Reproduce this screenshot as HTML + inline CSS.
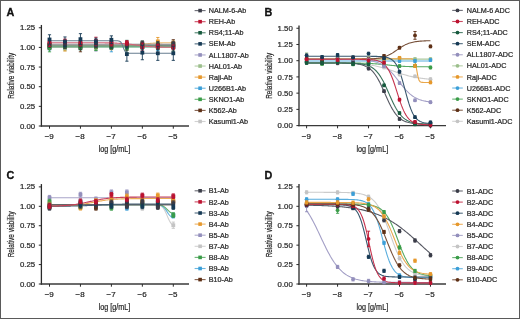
<!DOCTYPE html>
<html><head><meta charset="utf-8"><style>
html,body{margin:0;padding:0;background:#fff;}
#fig{position:relative;width:520px;height:319px;overflow:hidden;background:#fff;}
#fig svg{position:absolute;left:0;top:0;font-family:"Liberation Sans", sans-serif;will-change:transform;filter:blur(0.3px);}
#frame{position:absolute;left:0;top:0;width:518px;height:317px;border:1px solid #5a5a5a;}
</style></head><body>
<div id="fig">
<svg width="520" height="319" viewBox="0 0 520 319">
<line x1="41.4" y1="24.95" x2="41.4" y2="126.70" stroke="#2a2a2a" stroke-width="1.3"/>
<line x1="40.80" y1="126.0" x2="189" y2="126.0" stroke="#3a3a3a" stroke-width="1.45"/>
<line x1="38.80" y1="126.00" x2="41.4" y2="126.00" stroke="#2a2a2a" stroke-width="1"/>
<text x="35.20" y="128.60" font-size="7.8" text-anchor="end" font-weight="normal" fill="#2b2b2b" stroke="#2b2b2b" stroke-width="0.24" >0.00</text>
<line x1="38.80" y1="106.35" x2="41.4" y2="106.35" stroke="#2a2a2a" stroke-width="1"/>
<text x="35.20" y="108.95" font-size="7.8" text-anchor="end" font-weight="normal" fill="#2b2b2b" stroke="#2b2b2b" stroke-width="0.24" >0.25</text>
<line x1="38.80" y1="86.70" x2="41.4" y2="86.70" stroke="#2a2a2a" stroke-width="1"/>
<text x="35.20" y="89.30" font-size="7.8" text-anchor="end" font-weight="normal" fill="#2b2b2b" stroke="#2b2b2b" stroke-width="0.24" >0.50</text>
<line x1="38.80" y1="67.05" x2="41.4" y2="67.05" stroke="#2a2a2a" stroke-width="1"/>
<text x="35.20" y="69.65" font-size="7.8" text-anchor="end" font-weight="normal" fill="#2b2b2b" stroke="#2b2b2b" stroke-width="0.24" >0.75</text>
<line x1="38.80" y1="47.40" x2="41.4" y2="47.40" stroke="#2a2a2a" stroke-width="1"/>
<text x="35.20" y="50.00" font-size="7.8" text-anchor="end" font-weight="normal" fill="#2b2b2b" stroke="#2b2b2b" stroke-width="0.24" >1.00</text>
<line x1="38.80" y1="27.75" x2="41.4" y2="27.75" stroke="#2a2a2a" stroke-width="1"/>
<text x="35.20" y="30.35" font-size="7.8" text-anchor="end" font-weight="normal" fill="#2b2b2b" stroke="#2b2b2b" stroke-width="0.24" >1.25</text>
<line x1="49.50" y1="126.0" x2="49.50" y2="128.70" stroke="#2a2a2a" stroke-width="1"/>
<text x="49.20" y="138.90" font-size="8.0" text-anchor="middle" font-weight="normal" fill="#2b2b2b" stroke="#2b2b2b" stroke-width="0.24" >−9</text>
<line x1="80.45" y1="126.0" x2="80.45" y2="128.70" stroke="#2a2a2a" stroke-width="1"/>
<text x="80.15" y="138.90" font-size="8.0" text-anchor="middle" font-weight="normal" fill="#2b2b2b" stroke="#2b2b2b" stroke-width="0.24" >−8</text>
<line x1="111.40" y1="126.0" x2="111.40" y2="128.70" stroke="#2a2a2a" stroke-width="1"/>
<text x="111.10" y="138.90" font-size="8.0" text-anchor="middle" font-weight="normal" fill="#2b2b2b" stroke="#2b2b2b" stroke-width="0.24" >−7</text>
<line x1="142.35" y1="126.0" x2="142.35" y2="128.70" stroke="#2a2a2a" stroke-width="1"/>
<text x="142.05" y="138.90" font-size="8.0" text-anchor="middle" font-weight="normal" fill="#2b2b2b" stroke="#2b2b2b" stroke-width="0.24" >−6</text>
<line x1="173.30" y1="126.0" x2="173.30" y2="128.70" stroke="#2a2a2a" stroke-width="1"/>
<text x="173.00" y="138.90" font-size="8.0" text-anchor="middle" font-weight="normal" fill="#2b2b2b" stroke="#2b2b2b" stroke-width="0.24" >−5</text>
<text x="0" y="0" font-size="8.4" text-anchor="middle" fill="#2b2b2b" stroke="#2b2b2b" stroke-width="0.24" transform="translate(14.20,75.80) rotate(-90) scale(0.765,1)">Relative viability</text>
<text x="0" y="0" font-size="8.6" text-anchor="middle" fill="#2b2b2b" stroke="#2b2b2b" stroke-width="0.24" transform="translate(114.50,152.00) scale(0.84,1)">log [g/mL]</text>
<text x="6.60" y="16.30" font-size="10.8" text-anchor="start" font-weight="bold" fill="#111" stroke="#111" stroke-width="0.3" >A</text>
<line x1="299.0" y1="25.45" x2="299.0" y2="126.30" stroke="#2a2a2a" stroke-width="1.3"/>
<line x1="298.40" y1="125.6" x2="446" y2="125.6" stroke="#3a3a3a" stroke-width="1.45"/>
<line x1="296.40" y1="125.60" x2="299.0" y2="125.60" stroke="#2a2a2a" stroke-width="1"/>
<text x="292.80" y="128.20" font-size="7.8" text-anchor="end" font-weight="normal" fill="#2b2b2b" stroke="#2b2b2b" stroke-width="0.24" >0.00</text>
<line x1="296.40" y1="109.38" x2="299.0" y2="109.38" stroke="#2a2a2a" stroke-width="1"/>
<text x="292.80" y="111.97" font-size="7.8" text-anchor="end" font-weight="normal" fill="#2b2b2b" stroke="#2b2b2b" stroke-width="0.24" >0.25</text>
<line x1="296.40" y1="93.15" x2="299.0" y2="93.15" stroke="#2a2a2a" stroke-width="1"/>
<text x="292.80" y="95.75" font-size="7.8" text-anchor="end" font-weight="normal" fill="#2b2b2b" stroke="#2b2b2b" stroke-width="0.24" >0.50</text>
<line x1="296.40" y1="76.92" x2="299.0" y2="76.92" stroke="#2a2a2a" stroke-width="1"/>
<text x="292.80" y="79.52" font-size="7.8" text-anchor="end" font-weight="normal" fill="#2b2b2b" stroke="#2b2b2b" stroke-width="0.24" >0.75</text>
<line x1="296.40" y1="60.70" x2="299.0" y2="60.70" stroke="#2a2a2a" stroke-width="1"/>
<text x="292.80" y="63.30" font-size="7.8" text-anchor="end" font-weight="normal" fill="#2b2b2b" stroke="#2b2b2b" stroke-width="0.24" >1.00</text>
<line x1="296.40" y1="44.47" x2="299.0" y2="44.47" stroke="#2a2a2a" stroke-width="1"/>
<text x="292.80" y="47.07" font-size="7.8" text-anchor="end" font-weight="normal" fill="#2b2b2b" stroke="#2b2b2b" stroke-width="0.24" >1.25</text>
<line x1="296.40" y1="28.25" x2="299.0" y2="28.25" stroke="#2a2a2a" stroke-width="1"/>
<text x="292.80" y="30.85" font-size="7.8" text-anchor="end" font-weight="normal" fill="#2b2b2b" stroke="#2b2b2b" stroke-width="0.24" >1.50</text>
<line x1="306.60" y1="125.6" x2="306.60" y2="128.30" stroke="#2a2a2a" stroke-width="1"/>
<text x="306.30" y="138.90" font-size="8.0" text-anchor="middle" font-weight="normal" fill="#2b2b2b" stroke="#2b2b2b" stroke-width="0.24" >−9</text>
<line x1="337.57" y1="125.6" x2="337.57" y2="128.30" stroke="#2a2a2a" stroke-width="1"/>
<text x="337.27" y="138.90" font-size="8.0" text-anchor="middle" font-weight="normal" fill="#2b2b2b" stroke="#2b2b2b" stroke-width="0.24" >−8</text>
<line x1="368.54" y1="125.6" x2="368.54" y2="128.30" stroke="#2a2a2a" stroke-width="1"/>
<text x="368.24" y="138.90" font-size="8.0" text-anchor="middle" font-weight="normal" fill="#2b2b2b" stroke="#2b2b2b" stroke-width="0.24" >−7</text>
<line x1="399.51" y1="125.6" x2="399.51" y2="128.30" stroke="#2a2a2a" stroke-width="1"/>
<text x="399.21" y="138.90" font-size="8.0" text-anchor="middle" font-weight="normal" fill="#2b2b2b" stroke="#2b2b2b" stroke-width="0.24" >−6</text>
<line x1="430.48" y1="125.6" x2="430.48" y2="128.30" stroke="#2a2a2a" stroke-width="1"/>
<text x="430.18" y="138.90" font-size="8.0" text-anchor="middle" font-weight="normal" fill="#2b2b2b" stroke="#2b2b2b" stroke-width="0.24" >−5</text>
<text x="0" y="0" font-size="8.4" text-anchor="middle" fill="#2b2b2b" stroke="#2b2b2b" stroke-width="0.24" transform="translate(271.90,75.80) rotate(-90) scale(0.765,1)">Relative viability</text>
<text x="0" y="0" font-size="8.6" text-anchor="middle" fill="#2b2b2b" stroke="#2b2b2b" stroke-width="0.24" transform="translate(372.30,152.00) scale(0.84,1)">log [g/mL]</text>
<text x="264.60" y="16.20" font-size="10.8" text-anchor="start" font-weight="bold" fill="#111" stroke="#111" stroke-width="0.3" >B</text>
<line x1="41.4" y1="184.07" x2="41.4" y2="284.70" stroke="#2a2a2a" stroke-width="1.3"/>
<line x1="40.80" y1="284.0" x2="189" y2="284.0" stroke="#3a3a3a" stroke-width="1.45"/>
<line x1="38.80" y1="284.00" x2="41.4" y2="284.00" stroke="#2a2a2a" stroke-width="1"/>
<text x="35.20" y="286.60" font-size="7.8" text-anchor="end" font-weight="normal" fill="#2b2b2b" stroke="#2b2b2b" stroke-width="0.24" >0.00</text>
<line x1="38.80" y1="264.57" x2="41.4" y2="264.57" stroke="#2a2a2a" stroke-width="1"/>
<text x="35.20" y="267.18" font-size="7.8" text-anchor="end" font-weight="normal" fill="#2b2b2b" stroke="#2b2b2b" stroke-width="0.24" >0.25</text>
<line x1="38.80" y1="245.15" x2="41.4" y2="245.15" stroke="#2a2a2a" stroke-width="1"/>
<text x="35.20" y="247.75" font-size="7.8" text-anchor="end" font-weight="normal" fill="#2b2b2b" stroke="#2b2b2b" stroke-width="0.24" >0.50</text>
<line x1="38.80" y1="225.72" x2="41.4" y2="225.72" stroke="#2a2a2a" stroke-width="1"/>
<text x="35.20" y="228.32" font-size="7.8" text-anchor="end" font-weight="normal" fill="#2b2b2b" stroke="#2b2b2b" stroke-width="0.24" >0.75</text>
<line x1="38.80" y1="206.30" x2="41.4" y2="206.30" stroke="#2a2a2a" stroke-width="1"/>
<text x="35.20" y="208.90" font-size="7.8" text-anchor="end" font-weight="normal" fill="#2b2b2b" stroke="#2b2b2b" stroke-width="0.24" >1.00</text>
<line x1="38.80" y1="186.88" x2="41.4" y2="186.88" stroke="#2a2a2a" stroke-width="1"/>
<text x="35.20" y="189.47" font-size="7.8" text-anchor="end" font-weight="normal" fill="#2b2b2b" stroke="#2b2b2b" stroke-width="0.24" >1.25</text>
<line x1="49.50" y1="284.0" x2="49.50" y2="286.70" stroke="#2a2a2a" stroke-width="1"/>
<text x="49.20" y="296.90" font-size="8.0" text-anchor="middle" font-weight="normal" fill="#2b2b2b" stroke="#2b2b2b" stroke-width="0.24" >−9</text>
<line x1="80.45" y1="284.0" x2="80.45" y2="286.70" stroke="#2a2a2a" stroke-width="1"/>
<text x="80.15" y="296.90" font-size="8.0" text-anchor="middle" font-weight="normal" fill="#2b2b2b" stroke="#2b2b2b" stroke-width="0.24" >−8</text>
<line x1="111.40" y1="284.0" x2="111.40" y2="286.70" stroke="#2a2a2a" stroke-width="1"/>
<text x="111.10" y="296.90" font-size="8.0" text-anchor="middle" font-weight="normal" fill="#2b2b2b" stroke="#2b2b2b" stroke-width="0.24" >−7</text>
<line x1="142.35" y1="284.0" x2="142.35" y2="286.70" stroke="#2a2a2a" stroke-width="1"/>
<text x="142.05" y="296.90" font-size="8.0" text-anchor="middle" font-weight="normal" fill="#2b2b2b" stroke="#2b2b2b" stroke-width="0.24" >−6</text>
<line x1="173.30" y1="284.0" x2="173.30" y2="286.70" stroke="#2a2a2a" stroke-width="1"/>
<text x="173.00" y="296.90" font-size="8.0" text-anchor="middle" font-weight="normal" fill="#2b2b2b" stroke="#2b2b2b" stroke-width="0.24" >−5</text>
<text x="0" y="0" font-size="8.4" text-anchor="middle" fill="#2b2b2b" stroke="#2b2b2b" stroke-width="0.24" transform="translate(14.20,234.30) rotate(-90) scale(0.765,1)">Relative viability</text>
<text x="0" y="0" font-size="8.6" text-anchor="middle" fill="#2b2b2b" stroke="#2b2b2b" stroke-width="0.24" transform="translate(114.50,310.00) scale(0.84,1)">log [g/mL]</text>
<text x="6.40" y="178.80" font-size="10.8" text-anchor="start" font-weight="bold" fill="#111" stroke="#111" stroke-width="0.3" >C</text>
<line x1="299.0" y1="184.07" x2="299.0" y2="284.70" stroke="#2a2a2a" stroke-width="1.3"/>
<line x1="298.40" y1="284.0" x2="446" y2="284.0" stroke="#3a3a3a" stroke-width="1.45"/>
<line x1="296.40" y1="284.00" x2="299.0" y2="284.00" stroke="#2a2a2a" stroke-width="1"/>
<text x="292.80" y="286.60" font-size="7.8" text-anchor="end" font-weight="normal" fill="#2b2b2b" stroke="#2b2b2b" stroke-width="0.24" >0.00</text>
<line x1="296.40" y1="264.57" x2="299.0" y2="264.57" stroke="#2a2a2a" stroke-width="1"/>
<text x="292.80" y="267.18" font-size="7.8" text-anchor="end" font-weight="normal" fill="#2b2b2b" stroke="#2b2b2b" stroke-width="0.24" >0.25</text>
<line x1="296.40" y1="245.15" x2="299.0" y2="245.15" stroke="#2a2a2a" stroke-width="1"/>
<text x="292.80" y="247.75" font-size="7.8" text-anchor="end" font-weight="normal" fill="#2b2b2b" stroke="#2b2b2b" stroke-width="0.24" >0.50</text>
<line x1="296.40" y1="225.72" x2="299.0" y2="225.72" stroke="#2a2a2a" stroke-width="1"/>
<text x="292.80" y="228.32" font-size="7.8" text-anchor="end" font-weight="normal" fill="#2b2b2b" stroke="#2b2b2b" stroke-width="0.24" >0.75</text>
<line x1="296.40" y1="206.30" x2="299.0" y2="206.30" stroke="#2a2a2a" stroke-width="1"/>
<text x="292.80" y="208.90" font-size="7.8" text-anchor="end" font-weight="normal" fill="#2b2b2b" stroke="#2b2b2b" stroke-width="0.24" >1.00</text>
<line x1="296.40" y1="186.88" x2="299.0" y2="186.88" stroke="#2a2a2a" stroke-width="1"/>
<text x="292.80" y="189.47" font-size="7.8" text-anchor="end" font-weight="normal" fill="#2b2b2b" stroke="#2b2b2b" stroke-width="0.24" >1.25</text>
<line x1="306.60" y1="284.0" x2="306.60" y2="286.70" stroke="#2a2a2a" stroke-width="1"/>
<text x="306.30" y="296.90" font-size="8.0" text-anchor="middle" font-weight="normal" fill="#2b2b2b" stroke="#2b2b2b" stroke-width="0.24" >−9</text>
<line x1="337.57" y1="284.0" x2="337.57" y2="286.70" stroke="#2a2a2a" stroke-width="1"/>
<text x="337.27" y="296.90" font-size="8.0" text-anchor="middle" font-weight="normal" fill="#2b2b2b" stroke="#2b2b2b" stroke-width="0.24" >−8</text>
<line x1="368.54" y1="284.0" x2="368.54" y2="286.70" stroke="#2a2a2a" stroke-width="1"/>
<text x="368.24" y="296.90" font-size="8.0" text-anchor="middle" font-weight="normal" fill="#2b2b2b" stroke="#2b2b2b" stroke-width="0.24" >−7</text>
<line x1="399.51" y1="284.0" x2="399.51" y2="286.70" stroke="#2a2a2a" stroke-width="1"/>
<text x="399.21" y="296.90" font-size="8.0" text-anchor="middle" font-weight="normal" fill="#2b2b2b" stroke="#2b2b2b" stroke-width="0.24" >−6</text>
<line x1="430.48" y1="284.0" x2="430.48" y2="286.70" stroke="#2a2a2a" stroke-width="1"/>
<text x="430.18" y="296.90" font-size="8.0" text-anchor="middle" font-weight="normal" fill="#2b2b2b" stroke="#2b2b2b" stroke-width="0.24" >−5</text>
<text x="0" y="0" font-size="8.4" text-anchor="middle" fill="#2b2b2b" stroke="#2b2b2b" stroke-width="0.24" transform="translate(271.90,234.30) rotate(-90) scale(0.765,1)">Relative viability</text>
<text x="0" y="0" font-size="8.6" text-anchor="middle" fill="#2b2b2b" stroke="#2b2b2b" stroke-width="0.24" transform="translate(372.30,310.00) scale(0.84,1)">log [g/mL]</text>
<text x="264.60" y="178.80" font-size="10.8" text-anchor="start" font-weight="bold" fill="#111" stroke="#111" stroke-width="0.3" >D</text>
<polyline points="49.50,45.83 50.53,45.83 51.56,45.83 52.59,45.83 53.63,45.83 54.66,45.83 55.69,45.83 56.72,45.83 57.75,45.83 58.79,45.83 59.82,45.83 60.85,45.83 61.88,45.83 62.91,45.83 63.94,45.83 64.97,45.83 66.01,45.83 67.04,45.83 68.07,45.83 69.10,45.83 70.13,45.83 71.16,45.83 72.20,45.83 73.23,45.83 74.26,45.83 75.29,45.83 76.32,45.83 77.36,45.83 78.39,45.83 79.42,45.83 80.45,45.83 81.48,45.83 82.51,45.83 83.54,45.83 84.58,45.83 85.61,45.83 86.64,45.83 87.67,45.83 88.70,45.83 89.73,45.83 90.77,45.83 91.80,45.83 92.83,45.83 93.86,45.83 94.89,45.83 95.92,45.83 96.96,45.83 97.99,45.83 99.02,45.83 100.05,45.83 101.08,45.83 102.12,45.83 103.15,45.83 104.18,45.83 105.21,45.83 106.24,45.83 107.27,45.83 108.31,45.83 109.34,45.83 110.37,45.83 111.40,45.83 112.43,45.83 113.46,45.83 114.49,45.83 115.53,45.83 116.56,45.83 117.59,45.83 118.62,45.83 119.65,45.83 120.68,45.83 121.72,45.83 122.75,45.83 123.78,45.83 124.81,45.83 125.84,45.83 126.88,45.83 127.91,45.83 128.94,45.83 129.97,45.83 131.00,45.83 132.03,45.83 133.06,45.83 134.10,45.83 135.13,45.83 136.16,45.83 137.19,45.83 138.22,45.83 139.25,45.83 140.29,45.83 141.32,45.83 142.35,45.83 143.38,45.83 144.41,45.83 145.44,45.83 146.48,45.83 147.51,45.83 148.54,45.83 149.57,45.83 150.60,45.83 151.63,45.83 152.67,45.83 153.70,45.83 154.73,45.83 155.76,45.83 156.79,45.83 157.82,45.83 158.86,45.83 159.89,45.83 160.92,45.83 161.95,45.83 162.98,45.83 164.01,45.83 165.05,45.83 166.08,45.83 167.11,45.83 168.14,45.83 169.17,45.83 170.21,45.83 171.24,45.83 172.27,45.83 173.30,45.83" fill="none" stroke="#d8d8d8" stroke-width="1.1"/>
<polyline points="49.50,47.40 50.53,47.40 51.56,47.40 52.59,47.40 53.63,47.40 54.66,47.40 55.69,47.40 56.72,47.40 57.75,47.40 58.79,47.40 59.82,47.40 60.85,47.40 61.88,47.40 62.91,47.40 63.94,47.40 64.97,47.40 66.01,47.40 67.04,47.40 68.07,47.40 69.10,47.40 70.13,47.40 71.16,47.40 72.20,47.40 73.23,47.40 74.26,47.40 75.29,47.40 76.32,47.40 77.36,47.40 78.39,47.40 79.42,47.40 80.45,47.40 81.48,47.40 82.51,47.40 83.54,47.40 84.58,47.40 85.61,47.40 86.64,47.40 87.67,47.40 88.70,47.40 89.73,47.40 90.77,47.40 91.80,47.40 92.83,47.40 93.86,47.40 94.89,47.40 95.92,47.40 96.96,47.40 97.99,47.40 99.02,47.40 100.05,47.40 101.08,47.40 102.12,47.40 103.15,47.40 104.18,47.40 105.21,47.40 106.24,47.40 107.27,47.40 108.31,47.40 109.34,47.40 110.37,47.40 111.40,47.40 112.43,47.40 113.46,47.40 114.49,47.40 115.53,47.40 116.56,47.40 117.59,47.40 118.62,47.40 119.65,47.40 120.68,47.40 121.72,47.40 122.75,47.40 123.78,47.40 124.81,47.40 125.84,47.40 126.88,47.40 127.91,47.40 128.94,47.40 129.97,47.40 131.00,47.40 132.03,47.40 133.06,47.40 134.10,47.40 135.13,47.40 136.16,47.40 137.19,47.40 138.22,47.40 139.25,47.40 140.29,47.40 141.32,47.40 142.35,47.40 143.38,47.40 144.41,47.40 145.44,47.40 146.48,47.40 147.51,47.40 148.54,47.40 149.57,47.40 150.60,47.40 151.63,47.40 152.67,47.40 153.70,47.40 154.73,47.40 155.76,47.40 156.79,47.40 157.82,47.40 158.86,47.40 159.89,47.40 160.92,47.40 161.95,47.40 162.98,47.40 164.01,47.40 165.05,47.40 166.08,47.40 167.11,47.40 168.14,47.40 169.17,47.40 170.21,47.40 171.24,47.40 172.27,47.40 173.30,47.40" fill="none" stroke="#bed5b4" stroke-width="1.1"/>
<polyline points="49.50,46.61 50.53,46.61 51.56,46.61 52.59,46.61 53.63,46.61 54.66,46.61 55.69,46.61 56.72,46.61 57.75,46.61 58.79,46.61 59.82,46.61 60.85,46.61 61.88,46.61 62.91,46.61 63.94,46.61 64.97,46.61 66.01,46.61 67.04,46.61 68.07,46.61 69.10,46.61 70.13,46.61 71.16,46.61 72.20,46.61 73.23,46.61 74.26,46.61 75.29,46.61 76.32,46.61 77.36,46.61 78.39,46.61 79.42,46.61 80.45,46.61 81.48,46.61 82.51,46.61 83.54,46.61 84.58,46.61 85.61,46.61 86.64,46.61 87.67,46.61 88.70,46.61 89.73,46.61 90.77,46.61 91.80,46.61 92.83,46.61 93.86,46.61 94.89,46.61 95.92,46.61 96.96,46.61 97.99,46.61 99.02,46.61 100.05,46.61 101.08,46.61 102.12,46.61 103.15,46.61 104.18,46.61 105.21,46.61 106.24,46.61 107.27,46.61 108.31,46.61 109.34,46.61 110.37,46.61 111.40,46.61 112.43,46.61 113.46,46.61 114.49,46.61 115.53,46.61 116.56,46.61 117.59,46.61 118.62,46.61 119.65,46.61 120.68,46.61 121.72,46.61 122.75,46.61 123.78,46.61 124.81,46.61 125.84,46.61 126.88,46.61 127.91,46.61 128.94,46.61 129.97,46.61 131.00,46.61 132.03,46.61 133.06,46.61 134.10,46.61 135.13,46.61 136.16,46.61 137.19,46.61 138.22,46.61 139.25,46.61 140.29,46.61 141.32,46.61 142.35,46.61 143.38,46.61 144.41,46.61 145.44,46.61 146.48,46.61 147.51,46.61 148.54,46.61 149.57,46.61 150.60,46.61 151.63,46.61 152.67,46.61 153.70,46.61 154.73,46.61 155.76,46.61 156.79,46.61 157.82,46.61 158.86,46.61 159.89,46.61 160.92,46.61 161.95,46.61 162.98,46.61 164.01,46.61 165.05,46.61 166.08,46.61 167.11,46.61 168.14,46.61 169.17,46.61 170.21,46.61 171.24,46.61 172.27,46.61 173.30,46.61" fill="none" stroke="#7fc0e5" stroke-width="1.1"/>
<polyline points="49.50,45.83 50.53,45.83 51.56,45.83 52.59,45.83 53.63,45.83 54.66,45.83 55.69,45.83 56.72,45.83 57.75,45.83 58.79,45.83 59.82,45.83 60.85,45.83 61.88,45.83 62.91,45.83 63.94,45.83 64.97,45.83 66.01,45.83 67.04,45.83 68.07,45.83 69.10,45.83 70.13,45.83 71.16,45.83 72.20,45.83 73.23,45.83 74.26,45.83 75.29,45.83 76.32,45.83 77.36,45.83 78.39,45.83 79.42,45.83 80.45,45.83 81.48,45.83 82.51,45.83 83.54,45.83 84.58,45.83 85.61,45.83 86.64,45.83 87.67,45.83 88.70,45.83 89.73,45.83 90.77,45.83 91.80,45.83 92.83,45.83 93.86,45.83 94.89,45.83 95.92,45.83 96.96,45.83 97.99,45.83 99.02,45.83 100.05,45.83 101.08,45.83 102.12,45.83 103.15,45.83 104.18,45.83 105.21,45.83 106.24,45.83 107.27,45.83 108.31,45.83 109.34,45.83 110.37,45.83 111.40,45.83 112.43,45.83 113.46,45.83 114.49,45.83 115.53,45.83 116.56,45.83 117.59,45.83 118.62,45.83 119.65,45.83 120.68,45.83 121.72,45.83 122.75,45.83 123.78,45.83 124.81,45.83 125.84,45.83 126.88,45.83 127.91,45.83 128.94,45.83 129.97,45.83 131.00,45.83 132.03,45.83 133.06,45.83 134.10,45.83 135.13,45.83 136.16,45.83 137.19,45.83 138.22,45.83 139.25,45.83 140.29,45.83 141.32,45.83 142.35,45.83 143.38,45.83 144.41,45.83 145.44,45.83 146.48,45.83 147.51,45.83 148.54,45.83 149.57,45.83 150.60,45.83 151.63,45.83 152.67,45.83 153.70,45.83 154.73,45.83 155.76,45.83 156.79,45.83 157.82,45.83 158.86,45.83 159.89,45.83 160.92,45.83 161.95,45.83 162.98,45.83 164.01,45.83 165.05,45.83 166.08,45.83 167.11,45.83 168.14,45.83 169.17,45.83 170.21,45.83 171.24,45.83 172.27,45.83 173.30,45.83" fill="none" stroke="#b8b6d3" stroke-width="1.1"/>
<polyline points="49.50,46.61 50.53,46.61 51.56,46.61 52.59,46.61 53.63,46.61 54.66,46.61 55.69,46.61 56.72,46.61 57.75,46.61 58.79,46.61 59.82,46.61 60.85,46.61 61.88,46.61 62.91,46.61 63.94,46.61 64.97,46.61 66.01,46.61 67.04,46.61 68.07,46.61 69.10,46.61 70.13,46.61 71.16,46.61 72.20,46.61 73.23,46.60 74.26,46.60 75.29,46.60 76.32,46.60 77.36,46.60 78.39,46.60 79.42,46.60 80.45,46.60 81.48,46.60 82.51,46.60 83.54,46.59 84.58,46.59 85.61,46.59 86.64,46.59 87.67,46.59 88.70,46.59 89.73,46.58 90.77,46.58 91.80,46.58 92.83,46.58 93.86,46.57 94.89,46.57 95.92,46.57 96.96,46.56 97.99,46.56 99.02,46.55 100.05,46.55 101.08,46.54 102.12,46.54 103.15,46.53 104.18,46.53 105.21,46.52 106.24,46.51 107.27,46.51 108.31,46.50 109.34,46.49 110.37,46.48 111.40,46.47 112.43,46.46 113.46,46.45 114.49,46.44 115.53,46.43 116.56,46.41 117.59,46.40 118.62,46.38 119.65,46.37 120.68,46.35 121.72,46.34 122.75,46.32 123.78,46.30 124.81,46.28 125.84,46.26 126.88,46.24 127.91,46.21 128.94,46.19 129.97,46.17 131.00,46.14 132.03,46.12 133.06,46.09 134.10,46.06 135.13,46.03 136.16,46.01 137.19,45.98 138.22,45.95 139.25,45.92 140.29,45.89 141.32,45.86 142.35,45.83 143.38,45.80 144.41,45.77 145.44,45.74 146.48,45.71 147.51,45.68 148.54,45.65 149.57,45.62 150.60,45.59 151.63,45.57 152.67,45.54 153.70,45.51 154.73,45.49 155.76,45.47 156.79,45.44 157.82,45.42 158.86,45.40 159.89,45.38 160.92,45.36 161.95,45.34 162.98,45.32 164.01,45.30 165.05,45.29 166.08,45.27 167.11,45.26 168.14,45.24 169.17,45.23 170.21,45.22 171.24,45.21 172.27,45.20 173.30,45.18" fill="none" stroke="#967867" stroke-width="1.1"/>
<polyline points="49.50,45.83 50.53,45.83 51.56,45.83 52.59,45.83 53.63,45.83 54.66,45.83 55.69,45.83 56.72,45.83 57.75,45.83 58.79,45.83 59.82,45.83 60.85,45.83 61.88,45.83 62.91,45.83 63.94,45.83 64.97,45.83 66.01,45.83 67.04,45.83 68.07,45.83 69.10,45.83 70.13,45.83 71.16,45.83 72.20,45.83 73.23,45.83 74.26,45.83 75.29,45.83 76.32,45.83 77.36,45.83 78.39,45.83 79.42,45.83 80.45,45.83 81.48,45.83 82.51,45.83 83.54,45.83 84.58,45.83 85.61,45.83 86.64,45.83 87.67,45.83 88.70,45.83 89.73,45.83 90.77,45.83 91.80,45.83 92.83,45.83 93.86,45.83 94.89,45.83 95.92,45.82 96.96,45.82 97.99,45.82 99.02,45.82 100.05,45.82 101.08,45.82 102.12,45.82 103.15,45.82 104.18,45.82 105.21,45.82 106.24,45.81 107.27,45.81 108.31,45.81 109.34,45.81 110.37,45.80 111.40,45.80 112.43,45.79 113.46,45.79 114.49,45.78 115.53,45.77 116.56,45.76 117.59,45.75 118.62,45.74 119.65,45.72 120.68,45.71 121.72,45.69 122.75,45.67 123.78,45.64 124.81,45.61 125.84,45.58 126.88,45.54 127.91,45.50 128.94,45.45 129.97,45.40 131.00,45.34 132.03,45.27 133.06,45.20 134.10,45.12 135.13,45.03 136.16,44.93 137.19,44.83 138.22,44.72 139.25,44.61 140.29,44.50 141.32,44.38 142.35,44.26 143.38,44.14 144.41,44.02 145.44,43.90 146.48,43.79 147.51,43.68 148.54,43.58 149.57,43.48 150.60,43.40 151.63,43.32 152.67,43.24 153.70,43.17 154.73,43.11 155.76,43.06 156.79,43.01 157.82,42.97 158.86,42.93 159.89,42.90 160.92,42.87 161.95,42.85 162.98,42.82 164.01,42.80 165.05,42.79 166.08,42.77 167.11,42.76 168.14,42.75 169.17,42.74 170.21,42.73 171.24,42.73 172.27,42.72 173.30,42.72" fill="none" stroke="#eebc75" stroke-width="1.1"/>
<polyline points="49.50,46.61 50.53,46.61 51.56,46.61 52.59,46.61 53.63,46.61 54.66,46.61 55.69,46.61 56.72,46.61 57.75,46.61 58.79,46.61 59.82,46.61 60.85,46.61 61.88,46.61 62.91,46.61 63.94,46.61 64.97,46.61 66.01,46.61 67.04,46.61 68.07,46.61 69.10,46.61 70.13,46.61 71.16,46.61 72.20,46.61 73.23,46.61 74.26,46.61 75.29,46.61 76.32,46.61 77.36,46.61 78.39,46.61 79.42,46.61 80.45,46.61 81.48,46.61 82.51,46.61 83.54,46.61 84.58,46.61 85.61,46.61 86.64,46.61 87.67,46.61 88.70,46.61 89.73,46.61 90.77,46.61 91.80,46.61 92.83,46.61 93.86,46.61 94.89,46.61 95.92,46.61 96.96,46.61 97.99,46.61 99.02,46.61 100.05,46.61 101.08,46.61 102.12,46.61 103.15,46.61 104.18,46.61 105.21,46.61 106.24,46.61 107.27,46.61 108.31,46.61 109.34,46.61 110.37,46.61 111.40,46.61 112.43,46.61 113.46,46.61 114.49,46.61 115.53,46.61 116.56,46.61 117.59,46.61 118.62,46.61 119.65,46.61 120.68,46.61 121.72,46.61 122.75,46.61 123.78,46.61 124.81,46.61 125.84,46.61 126.88,46.61 127.91,46.61 128.94,46.61 129.97,46.61 131.00,46.61 132.03,46.61 133.06,46.61 134.10,46.61 135.13,46.61 136.16,46.61 137.19,46.61 138.22,46.61 139.25,46.61 140.29,46.61 141.32,46.61 142.35,46.61 143.38,46.61 144.41,46.61 145.44,46.61 146.48,46.61 147.51,46.61 148.54,46.61 149.57,46.61 150.60,46.61 151.63,46.61 152.67,46.61 153.70,46.61 154.73,46.61 155.76,46.61 156.79,46.61 157.82,46.61 158.86,46.61 159.89,46.61 160.92,46.61 161.95,46.61 162.98,46.61 164.01,46.61 165.05,46.61 166.08,46.61 167.11,46.61 168.14,46.61 169.17,46.61 170.21,46.61 171.24,46.61 172.27,46.61 173.30,46.61" fill="none" stroke="#7ebe88" stroke-width="1.1"/>
<polyline points="49.50,45.83 50.53,45.83 51.56,45.83 52.59,45.83 53.63,45.83 54.66,45.83 55.69,45.83 56.72,45.83 57.75,45.83 58.79,45.83 59.82,45.83 60.85,45.83 61.88,45.83 62.91,45.83 63.94,45.83 64.97,45.83 66.01,45.83 67.04,45.83 68.07,45.83 69.10,45.83 70.13,45.83 71.16,45.83 72.20,45.83 73.23,45.83 74.26,45.83 75.29,45.83 76.32,45.83 77.36,45.83 78.39,45.83 79.42,45.83 80.45,45.83 81.48,45.83 82.51,45.83 83.54,45.83 84.58,45.83 85.61,45.83 86.64,45.83 87.67,45.83 88.70,45.83 89.73,45.83 90.77,45.83 91.80,45.83 92.83,45.83 93.86,45.83 94.89,45.83 95.92,45.83 96.96,45.83 97.99,45.83 99.02,45.83 100.05,45.83 101.08,45.83 102.12,45.83 103.15,45.83 104.18,45.83 105.21,45.83 106.24,45.83 107.27,45.83 108.31,45.83 109.34,45.83 110.37,45.83 111.40,45.83 112.43,45.83 113.46,45.83 114.49,45.83 115.53,45.83 116.56,45.83 117.59,45.83 118.62,45.83 119.65,45.83 120.68,45.83 121.72,45.83 122.75,45.83 123.78,45.83 124.81,45.83 125.84,45.83 126.88,45.83 127.91,45.83 128.94,45.83 129.97,45.83 131.00,45.83 132.03,45.83 133.06,45.83 134.10,45.83 135.13,45.83 136.16,45.83 137.19,45.83 138.22,45.83 139.25,45.83 140.29,45.83 141.32,45.83 142.35,45.83 143.38,45.83 144.41,45.83 145.44,45.83 146.48,45.83 147.51,45.83 148.54,45.83 149.57,45.83 150.60,45.83 151.63,45.83 152.67,45.83 153.70,45.83 154.73,45.83 155.76,45.83 156.79,45.83 157.82,45.83 158.86,45.83 159.89,45.83 160.92,45.83 161.95,45.83 162.98,45.83 164.01,45.83 165.05,45.83 166.08,45.83 167.11,45.83 168.14,45.83 169.17,45.83 170.21,45.83 171.24,45.83 172.27,45.83 173.30,45.83" fill="none" stroke="#689381" stroke-width="1.1"/>
<polyline points="49.50,44.26 50.53,44.26 51.56,44.26 52.59,44.26 53.63,44.26 54.66,44.26 55.69,44.26 56.72,44.26 57.75,44.26 58.79,44.26 59.82,44.26 60.85,44.26 61.88,44.26 62.91,44.26 63.94,44.26 64.97,44.26 66.01,44.26 67.04,44.26 68.07,44.26 69.10,44.26 70.13,44.26 71.16,44.26 72.20,44.26 73.23,44.26 74.26,44.26 75.29,44.26 76.32,44.26 77.36,44.26 78.39,44.26 79.42,44.26 80.45,44.26 81.48,44.26 82.51,44.26 83.54,44.26 84.58,44.26 85.61,44.26 86.64,44.26 87.67,44.26 88.70,44.26 89.73,44.26 90.77,44.26 91.80,44.26 92.83,44.26 93.86,44.26 94.89,44.26 95.92,44.26 96.96,44.26 97.99,44.26 99.02,44.26 100.05,44.26 101.08,44.26 102.12,44.26 103.15,44.26 104.18,44.26 105.21,44.26 106.24,44.26 107.27,44.26 108.31,44.26 109.34,44.26 110.37,44.26 111.40,44.26 112.43,44.26 113.46,44.26 114.49,44.26 115.53,44.26 116.56,44.26 117.59,44.26 118.62,44.26 119.65,44.26 120.68,44.26 121.72,44.26 122.75,44.26 123.78,44.26 124.81,44.26 125.84,44.26 126.88,44.26 127.91,44.26 128.94,44.26 129.97,44.26 131.00,44.26 132.03,44.26 133.06,44.26 134.10,44.26 135.13,44.26 136.16,44.26 137.19,44.26 138.22,44.26 139.25,44.26 140.29,44.26 141.32,44.26 142.35,44.26 143.38,44.26 144.41,44.26 145.44,44.26 146.48,44.26 147.51,44.26 148.54,44.26 149.57,44.26 150.60,44.26 151.63,44.26 152.67,44.26 153.70,44.26 154.73,44.26 155.76,44.26 156.79,44.26 157.82,44.26 158.86,44.26 159.89,44.26 160.92,44.26 161.95,44.26 162.98,44.26 164.01,44.26 165.05,44.26 166.08,44.26 167.11,44.26 168.14,44.26 169.17,44.26 170.21,44.26 171.24,44.26 172.27,44.26 173.30,44.26" fill="none" stroke="#7e8088" stroke-width="1.1"/>
<polyline points="49.50,42.68 50.53,42.68 51.56,42.68 52.59,42.68 53.63,42.68 54.66,42.68 55.69,42.68 56.72,42.68 57.75,42.68 58.79,42.68 59.82,42.68 60.85,42.69 61.88,42.69 62.91,42.69 63.94,42.69 64.97,42.69 66.01,42.69 67.04,42.69 68.07,42.69 69.10,42.69 70.13,42.69 71.16,42.69 72.20,42.69 73.23,42.69 74.26,42.69 75.29,42.69 76.32,42.69 77.36,42.69 78.39,42.69 79.42,42.69 80.45,42.69 81.48,42.69 82.51,42.70 83.54,42.70 84.58,42.70 85.61,42.70 86.64,42.70 87.67,42.70 88.70,42.71 89.73,42.71 90.77,42.71 91.80,42.72 92.83,42.72 93.86,42.73 94.89,42.73 95.92,42.74 96.96,42.74 97.99,42.75 99.02,42.76 100.05,42.77 101.08,42.78 102.12,42.79 103.15,42.80 104.18,42.81 105.21,42.83 106.24,42.85 107.27,42.86 108.31,42.89 109.34,42.91 110.37,42.94 111.40,42.96 112.43,43.00 113.46,43.03 114.49,43.07 115.53,43.11 116.56,43.16 117.59,43.21 118.62,43.27 119.65,43.33 120.68,43.40 121.72,43.47 122.75,43.55 123.78,43.63 124.81,43.72 125.84,43.82 126.88,43.92 127.91,44.03 128.94,44.14 129.97,44.26 131.00,44.38 132.03,44.51 133.06,44.64 134.10,44.77 135.13,44.91 136.16,45.04 137.19,45.18 138.22,45.31 139.25,45.45 140.29,45.58 141.32,45.70 142.35,45.83 143.38,45.94 144.41,46.06 145.44,46.16 146.48,46.27 147.51,46.36 148.54,46.45 149.57,46.54 150.60,46.62 151.63,46.69 152.67,46.75 153.70,46.82 154.73,46.87 155.76,46.92 156.79,46.97 157.82,47.01 158.86,47.05 159.89,47.09 160.92,47.12 161.95,47.15 162.98,47.17 164.01,47.20 165.05,47.22 166.08,47.24 167.11,47.26 168.14,47.27 169.17,47.28 170.21,47.30 171.24,47.31 172.27,47.32 173.30,47.33" fill="none" stroke="#d36478" stroke-width="1.1"/>
<polyline points="49.50,40.72 50.53,40.72 51.56,40.72 52.59,40.72 53.63,40.72 54.66,40.72 55.69,40.72 56.72,40.72 57.75,40.72 58.79,40.72 59.82,40.72 60.85,40.72 61.88,40.72 62.91,40.72 63.94,40.72 64.97,40.72 66.01,40.72 67.04,40.72 68.07,40.72 69.10,40.72 70.13,40.72 71.16,40.72 72.20,40.72 73.23,40.72 74.26,40.72 75.29,40.72 76.32,40.72 77.36,40.72 78.39,40.72 79.42,40.72 80.45,40.72 81.48,40.72 82.51,40.72 83.54,40.72 84.58,40.72 85.61,40.72 86.64,40.72 87.67,40.72 88.70,40.72 89.73,40.72 90.77,40.72 91.80,40.72 92.83,40.72 93.86,40.72 94.89,40.72 95.92,40.72 96.96,40.72 97.99,40.72 99.02,40.72 100.05,40.72 101.08,40.72 102.12,40.72 103.15,40.72 104.18,40.72 105.21,40.72 106.24,40.72 107.27,40.72 108.31,40.72 109.34,40.72 110.37,40.72 111.40,40.72 112.43,40.72 113.46,40.72 114.49,40.72 115.53,40.73 116.56,40.75 117.59,40.81 118.62,40.93 119.65,41.25 120.68,41.96 121.72,43.43 122.75,45.86 123.78,48.70 124.81,50.95 125.84,52.24 126.88,52.85 127.91,53.12 128.94,53.22 129.97,53.27 131.00,53.28 132.03,53.29 133.06,53.29 134.10,53.29 135.13,53.29 136.16,53.29 137.19,53.29 138.22,53.29 139.25,53.29 140.29,53.29 141.32,53.29 142.35,53.29 143.38,53.29 144.41,53.29 145.44,53.29 146.48,53.29 147.51,53.29 148.54,53.29 149.57,53.29 150.60,53.29 151.63,53.29 152.67,53.29 153.70,53.29 154.73,53.29 155.76,53.29 156.79,53.29 157.82,53.29 158.86,53.29 159.89,53.29 160.92,53.29 161.95,53.29 162.98,53.29 164.01,53.30 165.05,53.30 166.08,53.30 167.11,53.30 168.14,53.30 169.17,53.30 170.21,53.30 171.24,53.30 172.27,53.30 173.30,53.30" fill="none" stroke="#677e90" stroke-width="1.1"/>
<line x1="49.50" y1="41.90" x2="49.50" y2="49.76" stroke="#c4c4c4" stroke-width="0.9"/>
<line x1="47.90" y1="41.90" x2="51.10" y2="41.90" stroke="#c4c4c4" stroke-width="0.9"/>
<line x1="47.90" y1="49.76" x2="51.10" y2="49.76" stroke="#c4c4c4" stroke-width="0.9"/>
<rect x="47.60" y="43.93" width="3.8" height="3.8" fill="#c4c4c4"/>
<line x1="64.97" y1="42.21" x2="64.97" y2="46.93" stroke="#c4c4c4" stroke-width="0.9"/>
<line x1="63.37" y1="42.21" x2="66.57" y2="42.21" stroke="#c4c4c4" stroke-width="0.9"/>
<line x1="63.37" y1="46.93" x2="66.57" y2="46.93" stroke="#c4c4c4" stroke-width="0.9"/>
<rect x="63.07" y="42.67" width="3.8" height="3.8" fill="#c4c4c4"/>
<line x1="80.45" y1="44.41" x2="80.45" y2="49.13" stroke="#c4c4c4" stroke-width="0.9"/>
<line x1="78.85" y1="44.41" x2="82.05" y2="44.41" stroke="#c4c4c4" stroke-width="0.9"/>
<line x1="78.85" y1="49.13" x2="82.05" y2="49.13" stroke="#c4c4c4" stroke-width="0.9"/>
<rect x="78.55" y="44.87" width="3.8" height="3.8" fill="#c4c4c4"/>
<line x1="95.92" y1="40.33" x2="95.92" y2="48.19" stroke="#c4c4c4" stroke-width="0.9"/>
<line x1="94.33" y1="40.33" x2="97.52" y2="40.33" stroke="#c4c4c4" stroke-width="0.9"/>
<line x1="94.33" y1="48.19" x2="97.52" y2="48.19" stroke="#c4c4c4" stroke-width="0.9"/>
<rect x="94.02" y="42.36" width="3.8" height="3.8" fill="#c4c4c4"/>
<line x1="111.40" y1="44.10" x2="111.40" y2="48.81" stroke="#c4c4c4" stroke-width="0.9"/>
<line x1="109.80" y1="44.10" x2="113.00" y2="44.10" stroke="#c4c4c4" stroke-width="0.9"/>
<line x1="109.80" y1="48.81" x2="113.00" y2="48.81" stroke="#c4c4c4" stroke-width="0.9"/>
<rect x="109.50" y="44.56" width="3.8" height="3.8" fill="#c4c4c4"/>
<line x1="126.88" y1="42.53" x2="126.88" y2="47.24" stroke="#c4c4c4" stroke-width="0.9"/>
<line x1="125.28" y1="42.53" x2="128.47" y2="42.53" stroke="#c4c4c4" stroke-width="0.9"/>
<line x1="125.28" y1="47.24" x2="128.47" y2="47.24" stroke="#c4c4c4" stroke-width="0.9"/>
<rect x="124.97" y="42.98" width="3.8" height="3.8" fill="#c4c4c4"/>
<line x1="142.35" y1="43.16" x2="142.35" y2="51.02" stroke="#c4c4c4" stroke-width="0.9"/>
<line x1="140.75" y1="43.16" x2="143.95" y2="43.16" stroke="#c4c4c4" stroke-width="0.9"/>
<line x1="140.75" y1="51.02" x2="143.95" y2="51.02" stroke="#c4c4c4" stroke-width="0.9"/>
<rect x="140.45" y="45.19" width="3.8" height="3.8" fill="#c4c4c4"/>
<line x1="157.82" y1="42.84" x2="157.82" y2="47.56" stroke="#c4c4c4" stroke-width="0.9"/>
<line x1="156.22" y1="42.84" x2="159.42" y2="42.84" stroke="#c4c4c4" stroke-width="0.9"/>
<line x1="156.22" y1="47.56" x2="159.42" y2="47.56" stroke="#c4c4c4" stroke-width="0.9"/>
<rect x="155.92" y="43.30" width="3.8" height="3.8" fill="#c4c4c4"/>
<line x1="173.30" y1="43.47" x2="173.30" y2="48.19" stroke="#c4c4c4" stroke-width="0.9"/>
<line x1="171.70" y1="43.47" x2="174.90" y2="43.47" stroke="#c4c4c4" stroke-width="0.9"/>
<line x1="171.70" y1="48.19" x2="174.90" y2="48.19" stroke="#c4c4c4" stroke-width="0.9"/>
<rect x="171.40" y="43.93" width="3.8" height="3.8" fill="#c4c4c4"/>
<line x1="49.50" y1="43.78" x2="49.50" y2="48.50" stroke="#9cbf8c" stroke-width="0.9"/>
<line x1="47.90" y1="43.78" x2="51.10" y2="43.78" stroke="#9cbf8c" stroke-width="0.9"/>
<line x1="47.90" y1="48.50" x2="51.10" y2="48.50" stroke="#9cbf8c" stroke-width="0.9"/>
<rect x="47.60" y="44.24" width="3.8" height="3.8" fill="#9cbf8c"/>
<line x1="64.97" y1="45.99" x2="64.97" y2="50.70" stroke="#9cbf8c" stroke-width="0.9"/>
<line x1="63.37" y1="45.99" x2="66.57" y2="45.99" stroke="#9cbf8c" stroke-width="0.9"/>
<line x1="63.37" y1="50.70" x2="66.57" y2="50.70" stroke="#9cbf8c" stroke-width="0.9"/>
<rect x="63.07" y="46.44" width="3.8" height="3.8" fill="#9cbf8c"/>
<line x1="80.45" y1="41.90" x2="80.45" y2="49.76" stroke="#9cbf8c" stroke-width="0.9"/>
<line x1="78.85" y1="41.90" x2="82.05" y2="41.90" stroke="#9cbf8c" stroke-width="0.9"/>
<line x1="78.85" y1="49.76" x2="82.05" y2="49.76" stroke="#9cbf8c" stroke-width="0.9"/>
<rect x="78.55" y="43.93" width="3.8" height="3.8" fill="#9cbf8c"/>
<line x1="95.92" y1="45.67" x2="95.92" y2="50.39" stroke="#9cbf8c" stroke-width="0.9"/>
<line x1="94.33" y1="45.67" x2="97.52" y2="45.67" stroke="#9cbf8c" stroke-width="0.9"/>
<line x1="94.33" y1="50.39" x2="97.52" y2="50.39" stroke="#9cbf8c" stroke-width="0.9"/>
<rect x="94.02" y="46.13" width="3.8" height="3.8" fill="#9cbf8c"/>
<line x1="111.40" y1="44.10" x2="111.40" y2="48.81" stroke="#9cbf8c" stroke-width="0.9"/>
<line x1="109.80" y1="44.10" x2="113.00" y2="44.10" stroke="#9cbf8c" stroke-width="0.9"/>
<line x1="109.80" y1="48.81" x2="113.00" y2="48.81" stroke="#9cbf8c" stroke-width="0.9"/>
<rect x="109.50" y="44.56" width="3.8" height="3.8" fill="#9cbf8c"/>
<line x1="126.88" y1="44.73" x2="126.88" y2="52.59" stroke="#9cbf8c" stroke-width="0.9"/>
<line x1="125.28" y1="44.73" x2="128.47" y2="44.73" stroke="#9cbf8c" stroke-width="0.9"/>
<line x1="125.28" y1="52.59" x2="128.47" y2="52.59" stroke="#9cbf8c" stroke-width="0.9"/>
<rect x="124.97" y="46.76" width="3.8" height="3.8" fill="#9cbf8c"/>
<line x1="142.35" y1="44.41" x2="142.35" y2="49.13" stroke="#9cbf8c" stroke-width="0.9"/>
<line x1="140.75" y1="44.41" x2="143.95" y2="44.41" stroke="#9cbf8c" stroke-width="0.9"/>
<line x1="140.75" y1="49.13" x2="143.95" y2="49.13" stroke="#9cbf8c" stroke-width="0.9"/>
<rect x="140.45" y="44.87" width="3.8" height="3.8" fill="#9cbf8c"/>
<line x1="157.82" y1="45.04" x2="157.82" y2="49.76" stroke="#9cbf8c" stroke-width="0.9"/>
<line x1="156.22" y1="45.04" x2="159.42" y2="45.04" stroke="#9cbf8c" stroke-width="0.9"/>
<line x1="156.22" y1="49.76" x2="159.42" y2="49.76" stroke="#9cbf8c" stroke-width="0.9"/>
<rect x="155.92" y="45.50" width="3.8" height="3.8" fill="#9cbf8c"/>
<line x1="173.30" y1="43.47" x2="173.30" y2="51.33" stroke="#9cbf8c" stroke-width="0.9"/>
<line x1="171.70" y1="43.47" x2="174.90" y2="43.47" stroke="#9cbf8c" stroke-width="0.9"/>
<line x1="171.70" y1="51.33" x2="174.90" y2="51.33" stroke="#9cbf8c" stroke-width="0.9"/>
<rect x="171.40" y="45.50" width="3.8" height="3.8" fill="#9cbf8c"/>
<line x1="49.50" y1="45.20" x2="49.50" y2="49.92" stroke="#3b9fd8" stroke-width="0.9"/>
<line x1="47.90" y1="45.20" x2="51.10" y2="45.20" stroke="#3b9fd8" stroke-width="0.9"/>
<line x1="47.90" y1="49.92" x2="51.10" y2="49.92" stroke="#3b9fd8" stroke-width="0.9"/>
<rect x="47.60" y="45.66" width="3.8" height="3.8" fill="#3b9fd8"/>
<line x1="64.97" y1="41.11" x2="64.97" y2="48.97" stroke="#3b9fd8" stroke-width="0.9"/>
<line x1="63.37" y1="41.11" x2="66.57" y2="41.11" stroke="#3b9fd8" stroke-width="0.9"/>
<line x1="63.37" y1="48.97" x2="66.57" y2="48.97" stroke="#3b9fd8" stroke-width="0.9"/>
<rect x="63.07" y="43.14" width="3.8" height="3.8" fill="#3b9fd8"/>
<line x1="80.45" y1="44.88" x2="80.45" y2="49.60" stroke="#3b9fd8" stroke-width="0.9"/>
<line x1="78.85" y1="44.88" x2="82.05" y2="44.88" stroke="#3b9fd8" stroke-width="0.9"/>
<line x1="78.85" y1="49.60" x2="82.05" y2="49.60" stroke="#3b9fd8" stroke-width="0.9"/>
<rect x="78.55" y="45.34" width="3.8" height="3.8" fill="#3b9fd8"/>
<line x1="95.92" y1="43.31" x2="95.92" y2="48.03" stroke="#3b9fd8" stroke-width="0.9"/>
<line x1="94.33" y1="43.31" x2="97.52" y2="43.31" stroke="#3b9fd8" stroke-width="0.9"/>
<line x1="94.33" y1="48.03" x2="97.52" y2="48.03" stroke="#3b9fd8" stroke-width="0.9"/>
<rect x="94.02" y="43.77" width="3.8" height="3.8" fill="#3b9fd8"/>
<line x1="111.40" y1="43.94" x2="111.40" y2="51.80" stroke="#3b9fd8" stroke-width="0.9"/>
<line x1="109.80" y1="43.94" x2="113.00" y2="43.94" stroke="#3b9fd8" stroke-width="0.9"/>
<line x1="109.80" y1="51.80" x2="113.00" y2="51.80" stroke="#3b9fd8" stroke-width="0.9"/>
<rect x="109.50" y="45.97" width="3.8" height="3.8" fill="#3b9fd8"/>
<line x1="126.88" y1="43.63" x2="126.88" y2="48.34" stroke="#3b9fd8" stroke-width="0.9"/>
<line x1="125.28" y1="43.63" x2="128.47" y2="43.63" stroke="#3b9fd8" stroke-width="0.9"/>
<line x1="125.28" y1="48.34" x2="128.47" y2="48.34" stroke="#3b9fd8" stroke-width="0.9"/>
<rect x="124.97" y="44.09" width="3.8" height="3.8" fill="#3b9fd8"/>
<line x1="142.35" y1="44.26" x2="142.35" y2="48.97" stroke="#3b9fd8" stroke-width="0.9"/>
<line x1="140.75" y1="44.26" x2="143.95" y2="44.26" stroke="#3b9fd8" stroke-width="0.9"/>
<line x1="140.75" y1="48.97" x2="143.95" y2="48.97" stroke="#3b9fd8" stroke-width="0.9"/>
<rect x="140.45" y="44.71" width="3.8" height="3.8" fill="#3b9fd8"/>
<line x1="157.82" y1="42.68" x2="157.82" y2="50.54" stroke="#3b9fd8" stroke-width="0.9"/>
<line x1="156.22" y1="42.68" x2="159.42" y2="42.68" stroke="#3b9fd8" stroke-width="0.9"/>
<line x1="156.22" y1="50.54" x2="159.42" y2="50.54" stroke="#3b9fd8" stroke-width="0.9"/>
<rect x="155.92" y="44.71" width="3.8" height="3.8" fill="#3b9fd8"/>
<line x1="173.30" y1="43.00" x2="173.30" y2="47.71" stroke="#3b9fd8" stroke-width="0.9"/>
<line x1="171.70" y1="43.00" x2="174.90" y2="43.00" stroke="#3b9fd8" stroke-width="0.9"/>
<line x1="171.70" y1="47.71" x2="174.90" y2="47.71" stroke="#3b9fd8" stroke-width="0.9"/>
<rect x="171.40" y="43.46" width="3.8" height="3.8" fill="#3b9fd8"/>
<line x1="49.50" y1="40.33" x2="49.50" y2="48.19" stroke="#938fbc" stroke-width="0.9"/>
<line x1="47.90" y1="40.33" x2="51.10" y2="40.33" stroke="#938fbc" stroke-width="0.9"/>
<line x1="47.90" y1="48.19" x2="51.10" y2="48.19" stroke="#938fbc" stroke-width="0.9"/>
<rect x="47.60" y="42.36" width="3.8" height="3.8" fill="#938fbc"/>
<line x1="64.97" y1="44.10" x2="64.97" y2="48.81" stroke="#938fbc" stroke-width="0.9"/>
<line x1="63.37" y1="44.10" x2="66.57" y2="44.10" stroke="#938fbc" stroke-width="0.9"/>
<line x1="63.37" y1="48.81" x2="66.57" y2="48.81" stroke="#938fbc" stroke-width="0.9"/>
<rect x="63.07" y="44.56" width="3.8" height="3.8" fill="#938fbc"/>
<line x1="80.45" y1="42.53" x2="80.45" y2="47.24" stroke="#938fbc" stroke-width="0.9"/>
<line x1="78.85" y1="42.53" x2="82.05" y2="42.53" stroke="#938fbc" stroke-width="0.9"/>
<line x1="78.85" y1="47.24" x2="82.05" y2="47.24" stroke="#938fbc" stroke-width="0.9"/>
<rect x="78.55" y="42.98" width="3.8" height="3.8" fill="#938fbc"/>
<line x1="95.92" y1="43.16" x2="95.92" y2="51.02" stroke="#938fbc" stroke-width="0.9"/>
<line x1="94.33" y1="43.16" x2="97.52" y2="43.16" stroke="#938fbc" stroke-width="0.9"/>
<line x1="94.33" y1="51.02" x2="97.52" y2="51.02" stroke="#938fbc" stroke-width="0.9"/>
<rect x="94.02" y="45.19" width="3.8" height="3.8" fill="#938fbc"/>
<line x1="111.40" y1="42.84" x2="111.40" y2="47.56" stroke="#938fbc" stroke-width="0.9"/>
<line x1="109.80" y1="42.84" x2="113.00" y2="42.84" stroke="#938fbc" stroke-width="0.9"/>
<line x1="109.80" y1="47.56" x2="113.00" y2="47.56" stroke="#938fbc" stroke-width="0.9"/>
<rect x="109.50" y="43.30" width="3.8" height="3.8" fill="#938fbc"/>
<line x1="126.88" y1="43.47" x2="126.88" y2="48.19" stroke="#938fbc" stroke-width="0.9"/>
<line x1="125.28" y1="43.47" x2="128.47" y2="43.47" stroke="#938fbc" stroke-width="0.9"/>
<line x1="125.28" y1="48.19" x2="128.47" y2="48.19" stroke="#938fbc" stroke-width="0.9"/>
<rect x="124.97" y="43.93" width="3.8" height="3.8" fill="#938fbc"/>
<line x1="142.35" y1="41.90" x2="142.35" y2="49.76" stroke="#938fbc" stroke-width="0.9"/>
<line x1="140.75" y1="41.90" x2="143.95" y2="41.90" stroke="#938fbc" stroke-width="0.9"/>
<line x1="140.75" y1="49.76" x2="143.95" y2="49.76" stroke="#938fbc" stroke-width="0.9"/>
<rect x="140.45" y="43.93" width="3.8" height="3.8" fill="#938fbc"/>
<line x1="157.82" y1="42.21" x2="157.82" y2="46.93" stroke="#938fbc" stroke-width="0.9"/>
<line x1="156.22" y1="42.21" x2="159.42" y2="42.21" stroke="#938fbc" stroke-width="0.9"/>
<line x1="156.22" y1="46.93" x2="159.42" y2="46.93" stroke="#938fbc" stroke-width="0.9"/>
<rect x="155.92" y="42.67" width="3.8" height="3.8" fill="#938fbc"/>
<line x1="173.30" y1="44.41" x2="173.30" y2="49.13" stroke="#938fbc" stroke-width="0.9"/>
<line x1="171.70" y1="44.41" x2="174.90" y2="44.41" stroke="#938fbc" stroke-width="0.9"/>
<line x1="171.70" y1="49.13" x2="174.90" y2="49.13" stroke="#938fbc" stroke-width="0.9"/>
<rect x="171.40" y="44.87" width="3.8" height="3.8" fill="#938fbc"/>
<line x1="49.50" y1="44.88" x2="49.50" y2="49.60" stroke="#5e3016" stroke-width="0.9"/>
<line x1="47.90" y1="44.88" x2="51.10" y2="44.88" stroke="#5e3016" stroke-width="0.9"/>
<line x1="47.90" y1="49.60" x2="51.10" y2="49.60" stroke="#5e3016" stroke-width="0.9"/>
<rect x="47.60" y="45.34" width="3.8" height="3.8" fill="#5e3016"/>
<line x1="64.97" y1="43.31" x2="64.97" y2="48.02" stroke="#5e3016" stroke-width="0.9"/>
<line x1="63.37" y1="43.31" x2="66.57" y2="43.31" stroke="#5e3016" stroke-width="0.9"/>
<line x1="63.37" y1="48.02" x2="66.57" y2="48.02" stroke="#5e3016" stroke-width="0.9"/>
<rect x="63.07" y="43.77" width="3.8" height="3.8" fill="#5e3016"/>
<line x1="80.45" y1="43.93" x2="80.45" y2="51.79" stroke="#5e3016" stroke-width="0.9"/>
<line x1="78.85" y1="43.93" x2="82.05" y2="43.93" stroke="#5e3016" stroke-width="0.9"/>
<line x1="78.85" y1="51.79" x2="82.05" y2="51.79" stroke="#5e3016" stroke-width="0.9"/>
<rect x="78.55" y="45.96" width="3.8" height="3.8" fill="#5e3016"/>
<line x1="95.92" y1="43.58" x2="95.92" y2="48.30" stroke="#5e3016" stroke-width="0.9"/>
<line x1="94.33" y1="43.58" x2="97.52" y2="43.58" stroke="#5e3016" stroke-width="0.9"/>
<line x1="94.33" y1="48.30" x2="97.52" y2="48.30" stroke="#5e3016" stroke-width="0.9"/>
<rect x="94.02" y="44.04" width="3.8" height="3.8" fill="#5e3016"/>
<line x1="111.40" y1="44.11" x2="111.40" y2="48.83" stroke="#5e3016" stroke-width="0.9"/>
<line x1="109.80" y1="44.11" x2="113.00" y2="44.11" stroke="#5e3016" stroke-width="0.9"/>
<line x1="109.80" y1="48.83" x2="113.00" y2="48.83" stroke="#5e3016" stroke-width="0.9"/>
<rect x="109.50" y="44.57" width="3.8" height="3.8" fill="#5e3016"/>
<line x1="126.88" y1="42.31" x2="126.88" y2="50.17" stroke="#5e3016" stroke-width="0.9"/>
<line x1="125.28" y1="42.31" x2="128.47" y2="42.31" stroke="#5e3016" stroke-width="0.9"/>
<line x1="125.28" y1="50.17" x2="128.47" y2="50.17" stroke="#5e3016" stroke-width="0.9"/>
<rect x="124.97" y="44.34" width="3.8" height="3.8" fill="#5e3016"/>
<line x1="142.35" y1="42.21" x2="142.35" y2="46.93" stroke="#5e3016" stroke-width="0.9"/>
<line x1="140.75" y1="42.21" x2="143.95" y2="42.21" stroke="#5e3016" stroke-width="0.9"/>
<line x1="140.75" y1="46.93" x2="143.95" y2="46.93" stroke="#5e3016" stroke-width="0.9"/>
<rect x="140.45" y="42.67" width="3.8" height="3.8" fill="#5e3016"/>
<line x1="157.82" y1="44.00" x2="157.82" y2="48.72" stroke="#5e3016" stroke-width="0.9"/>
<line x1="156.22" y1="44.00" x2="159.42" y2="44.00" stroke="#5e3016" stroke-width="0.9"/>
<line x1="156.22" y1="48.72" x2="159.42" y2="48.72" stroke="#5e3016" stroke-width="0.9"/>
<rect x="155.92" y="44.46" width="3.8" height="3.8" fill="#5e3016"/>
<line x1="173.30" y1="39.68" x2="173.30" y2="47.54" stroke="#5e3016" stroke-width="0.9"/>
<line x1="171.70" y1="39.68" x2="174.90" y2="39.68" stroke="#5e3016" stroke-width="0.9"/>
<line x1="171.70" y1="47.54" x2="174.90" y2="47.54" stroke="#5e3016" stroke-width="0.9"/>
<rect x="171.40" y="41.71" width="3.8" height="3.8" fill="#5e3016"/>
<line x1="49.50" y1="42.53" x2="49.50" y2="47.24" stroke="#e6982c" stroke-width="0.9"/>
<line x1="47.90" y1="42.53" x2="51.10" y2="42.53" stroke="#e6982c" stroke-width="0.9"/>
<line x1="47.90" y1="47.24" x2="51.10" y2="47.24" stroke="#e6982c" stroke-width="0.9"/>
<rect x="47.60" y="42.98" width="3.8" height="3.8" fill="#e6982c"/>
<line x1="64.97" y1="43.16" x2="64.97" y2="51.02" stroke="#e6982c" stroke-width="0.9"/>
<line x1="63.37" y1="43.16" x2="66.57" y2="43.16" stroke="#e6982c" stroke-width="0.9"/>
<line x1="63.37" y1="51.02" x2="66.57" y2="51.02" stroke="#e6982c" stroke-width="0.9"/>
<rect x="63.07" y="45.19" width="3.8" height="3.8" fill="#e6982c"/>
<line x1="80.45" y1="42.84" x2="80.45" y2="47.56" stroke="#e6982c" stroke-width="0.9"/>
<line x1="78.85" y1="42.84" x2="82.05" y2="42.84" stroke="#e6982c" stroke-width="0.9"/>
<line x1="78.85" y1="47.56" x2="82.05" y2="47.56" stroke="#e6982c" stroke-width="0.9"/>
<rect x="78.55" y="43.30" width="3.8" height="3.8" fill="#e6982c"/>
<line x1="95.92" y1="43.47" x2="95.92" y2="48.18" stroke="#e6982c" stroke-width="0.9"/>
<line x1="94.33" y1="43.47" x2="97.52" y2="43.47" stroke="#e6982c" stroke-width="0.9"/>
<line x1="94.33" y1="48.18" x2="97.52" y2="48.18" stroke="#e6982c" stroke-width="0.9"/>
<rect x="94.02" y="43.92" width="3.8" height="3.8" fill="#e6982c"/>
<line x1="111.40" y1="41.87" x2="111.40" y2="49.73" stroke="#e6982c" stroke-width="0.9"/>
<line x1="109.80" y1="41.87" x2="113.00" y2="41.87" stroke="#e6982c" stroke-width="0.9"/>
<line x1="109.80" y1="49.73" x2="113.00" y2="49.73" stroke="#e6982c" stroke-width="0.9"/>
<rect x="109.50" y="43.90" width="3.8" height="3.8" fill="#e6982c"/>
<line x1="126.88" y1="41.93" x2="126.88" y2="46.64" stroke="#e6982c" stroke-width="0.9"/>
<line x1="125.28" y1="41.93" x2="128.47" y2="41.93" stroke="#e6982c" stroke-width="0.9"/>
<line x1="125.28" y1="46.64" x2="128.47" y2="46.64" stroke="#e6982c" stroke-width="0.9"/>
<rect x="124.97" y="42.38" width="3.8" height="3.8" fill="#e6982c"/>
<line x1="142.35" y1="42.84" x2="142.35" y2="47.56" stroke="#e6982c" stroke-width="0.9"/>
<line x1="140.75" y1="42.84" x2="143.95" y2="42.84" stroke="#e6982c" stroke-width="0.9"/>
<line x1="140.75" y1="47.56" x2="143.95" y2="47.56" stroke="#e6982c" stroke-width="0.9"/>
<rect x="140.45" y="43.30" width="3.8" height="3.8" fill="#e6982c"/>
<line x1="157.82" y1="37.47" x2="157.82" y2="45.33" stroke="#e6982c" stroke-width="0.9"/>
<line x1="156.22" y1="37.47" x2="159.42" y2="37.47" stroke="#e6982c" stroke-width="0.9"/>
<line x1="156.22" y1="45.33" x2="159.42" y2="45.33" stroke="#e6982c" stroke-width="0.9"/>
<rect x="155.92" y="39.50" width="3.8" height="3.8" fill="#e6982c"/>
<line x1="173.30" y1="40.99" x2="173.30" y2="45.70" stroke="#e6982c" stroke-width="0.9"/>
<line x1="171.70" y1="40.99" x2="174.90" y2="40.99" stroke="#e6982c" stroke-width="0.9"/>
<line x1="171.70" y1="45.70" x2="174.90" y2="45.70" stroke="#e6982c" stroke-width="0.9"/>
<rect x="171.40" y="41.44" width="3.8" height="3.8" fill="#e6982c"/>
<line x1="49.50" y1="43.94" x2="49.50" y2="51.80" stroke="#3a9c48" stroke-width="0.9"/>
<line x1="47.90" y1="43.94" x2="51.10" y2="43.94" stroke="#3a9c48" stroke-width="0.9"/>
<line x1="47.90" y1="51.80" x2="51.10" y2="51.80" stroke="#3a9c48" stroke-width="0.9"/>
<rect x="47.60" y="45.97" width="3.8" height="3.8" fill="#3a9c48"/>
<line x1="64.97" y1="43.63" x2="64.97" y2="48.34" stroke="#3a9c48" stroke-width="0.9"/>
<line x1="63.37" y1="43.63" x2="66.57" y2="43.63" stroke="#3a9c48" stroke-width="0.9"/>
<line x1="63.37" y1="48.34" x2="66.57" y2="48.34" stroke="#3a9c48" stroke-width="0.9"/>
<rect x="63.07" y="44.09" width="3.8" height="3.8" fill="#3a9c48"/>
<line x1="80.45" y1="44.26" x2="80.45" y2="48.97" stroke="#3a9c48" stroke-width="0.9"/>
<line x1="78.85" y1="44.26" x2="82.05" y2="44.26" stroke="#3a9c48" stroke-width="0.9"/>
<line x1="78.85" y1="48.97" x2="82.05" y2="48.97" stroke="#3a9c48" stroke-width="0.9"/>
<rect x="78.55" y="44.71" width="3.8" height="3.8" fill="#3a9c48"/>
<line x1="95.92" y1="42.68" x2="95.92" y2="50.54" stroke="#3a9c48" stroke-width="0.9"/>
<line x1="94.33" y1="42.68" x2="97.52" y2="42.68" stroke="#3a9c48" stroke-width="0.9"/>
<line x1="94.33" y1="50.54" x2="97.52" y2="50.54" stroke="#3a9c48" stroke-width="0.9"/>
<rect x="94.02" y="44.71" width="3.8" height="3.8" fill="#3a9c48"/>
<line x1="111.40" y1="43.00" x2="111.40" y2="47.71" stroke="#3a9c48" stroke-width="0.9"/>
<line x1="109.80" y1="43.00" x2="113.00" y2="43.00" stroke="#3a9c48" stroke-width="0.9"/>
<line x1="109.80" y1="47.71" x2="113.00" y2="47.71" stroke="#3a9c48" stroke-width="0.9"/>
<rect x="109.50" y="43.46" width="3.8" height="3.8" fill="#3a9c48"/>
<line x1="126.88" y1="45.20" x2="126.88" y2="49.92" stroke="#3a9c48" stroke-width="0.9"/>
<line x1="125.28" y1="45.20" x2="128.47" y2="45.20" stroke="#3a9c48" stroke-width="0.9"/>
<line x1="125.28" y1="49.92" x2="128.47" y2="49.92" stroke="#3a9c48" stroke-width="0.9"/>
<rect x="124.97" y="45.66" width="3.8" height="3.8" fill="#3a9c48"/>
<line x1="142.35" y1="41.11" x2="142.35" y2="48.97" stroke="#3a9c48" stroke-width="0.9"/>
<line x1="140.75" y1="41.11" x2="143.95" y2="41.11" stroke="#3a9c48" stroke-width="0.9"/>
<line x1="140.75" y1="48.97" x2="143.95" y2="48.97" stroke="#3a9c48" stroke-width="0.9"/>
<rect x="140.45" y="43.14" width="3.8" height="3.8" fill="#3a9c48"/>
<line x1="157.82" y1="44.88" x2="157.82" y2="49.60" stroke="#3a9c48" stroke-width="0.9"/>
<line x1="156.22" y1="44.88" x2="159.42" y2="44.88" stroke="#3a9c48" stroke-width="0.9"/>
<line x1="156.22" y1="49.60" x2="159.42" y2="49.60" stroke="#3a9c48" stroke-width="0.9"/>
<rect x="155.92" y="45.34" width="3.8" height="3.8" fill="#3a9c48"/>
<line x1="173.30" y1="43.31" x2="173.30" y2="48.03" stroke="#3a9c48" stroke-width="0.9"/>
<line x1="171.70" y1="43.31" x2="174.90" y2="43.31" stroke="#3a9c48" stroke-width="0.9"/>
<line x1="171.70" y1="48.03" x2="174.90" y2="48.03" stroke="#3a9c48" stroke-width="0.9"/>
<rect x="171.40" y="43.77" width="3.8" height="3.8" fill="#3a9c48"/>
<line x1="49.50" y1="42.84" x2="49.50" y2="47.56" stroke="#175a3e" stroke-width="0.9"/>
<line x1="47.90" y1="42.84" x2="51.10" y2="42.84" stroke="#175a3e" stroke-width="0.9"/>
<line x1="47.90" y1="47.56" x2="51.10" y2="47.56" stroke="#175a3e" stroke-width="0.9"/>
<rect x="47.60" y="43.30" width="3.8" height="3.8" fill="#175a3e"/>
<line x1="64.97" y1="43.47" x2="64.97" y2="48.19" stroke="#175a3e" stroke-width="0.9"/>
<line x1="63.37" y1="43.47" x2="66.57" y2="43.47" stroke="#175a3e" stroke-width="0.9"/>
<line x1="63.37" y1="48.19" x2="66.57" y2="48.19" stroke="#175a3e" stroke-width="0.9"/>
<rect x="63.07" y="43.93" width="3.8" height="3.8" fill="#175a3e"/>
<line x1="80.45" y1="41.90" x2="80.45" y2="49.76" stroke="#175a3e" stroke-width="0.9"/>
<line x1="78.85" y1="41.90" x2="82.05" y2="41.90" stroke="#175a3e" stroke-width="0.9"/>
<line x1="78.85" y1="49.76" x2="82.05" y2="49.76" stroke="#175a3e" stroke-width="0.9"/>
<rect x="78.55" y="43.93" width="3.8" height="3.8" fill="#175a3e"/>
<line x1="95.92" y1="42.21" x2="95.92" y2="46.93" stroke="#175a3e" stroke-width="0.9"/>
<line x1="94.33" y1="42.21" x2="97.52" y2="42.21" stroke="#175a3e" stroke-width="0.9"/>
<line x1="94.33" y1="46.93" x2="97.52" y2="46.93" stroke="#175a3e" stroke-width="0.9"/>
<rect x="94.02" y="42.67" width="3.8" height="3.8" fill="#175a3e"/>
<line x1="111.40" y1="44.41" x2="111.40" y2="49.13" stroke="#175a3e" stroke-width="0.9"/>
<line x1="109.80" y1="44.41" x2="113.00" y2="44.41" stroke="#175a3e" stroke-width="0.9"/>
<line x1="109.80" y1="49.13" x2="113.00" y2="49.13" stroke="#175a3e" stroke-width="0.9"/>
<rect x="109.50" y="44.87" width="3.8" height="3.8" fill="#175a3e"/>
<line x1="126.88" y1="40.33" x2="126.88" y2="48.19" stroke="#175a3e" stroke-width="0.9"/>
<line x1="125.28" y1="40.33" x2="128.47" y2="40.33" stroke="#175a3e" stroke-width="0.9"/>
<line x1="125.28" y1="48.19" x2="128.47" y2="48.19" stroke="#175a3e" stroke-width="0.9"/>
<rect x="124.97" y="42.36" width="3.8" height="3.8" fill="#175a3e"/>
<line x1="142.35" y1="44.10" x2="142.35" y2="48.81" stroke="#175a3e" stroke-width="0.9"/>
<line x1="140.75" y1="44.10" x2="143.95" y2="44.10" stroke="#175a3e" stroke-width="0.9"/>
<line x1="140.75" y1="48.81" x2="143.95" y2="48.81" stroke="#175a3e" stroke-width="0.9"/>
<rect x="140.45" y="44.56" width="3.8" height="3.8" fill="#175a3e"/>
<line x1="157.82" y1="42.53" x2="157.82" y2="47.24" stroke="#175a3e" stroke-width="0.9"/>
<line x1="156.22" y1="42.53" x2="159.42" y2="42.53" stroke="#175a3e" stroke-width="0.9"/>
<line x1="156.22" y1="47.24" x2="159.42" y2="47.24" stroke="#175a3e" stroke-width="0.9"/>
<rect x="155.92" y="42.98" width="3.8" height="3.8" fill="#175a3e"/>
<line x1="173.30" y1="43.16" x2="173.30" y2="51.02" stroke="#175a3e" stroke-width="0.9"/>
<line x1="171.70" y1="43.16" x2="174.90" y2="43.16" stroke="#175a3e" stroke-width="0.9"/>
<line x1="171.70" y1="51.02" x2="174.90" y2="51.02" stroke="#175a3e" stroke-width="0.9"/>
<rect x="171.40" y="45.19" width="3.8" height="3.8" fill="#175a3e"/>
<line x1="49.50" y1="41.90" x2="49.50" y2="46.61" stroke="#3a3c48" stroke-width="0.9"/>
<line x1="47.90" y1="41.90" x2="51.10" y2="41.90" stroke="#3a3c48" stroke-width="0.9"/>
<line x1="47.90" y1="46.61" x2="51.10" y2="46.61" stroke="#3a3c48" stroke-width="0.9"/>
<rect x="47.60" y="42.36" width="3.8" height="3.8" fill="#3a3c48"/>
<line x1="64.97" y1="40.33" x2="64.97" y2="48.19" stroke="#3a3c48" stroke-width="0.9"/>
<line x1="63.37" y1="40.33" x2="66.57" y2="40.33" stroke="#3a3c48" stroke-width="0.9"/>
<line x1="63.37" y1="48.19" x2="66.57" y2="48.19" stroke="#3a3c48" stroke-width="0.9"/>
<rect x="63.07" y="42.36" width="3.8" height="3.8" fill="#3a3c48"/>
<line x1="80.45" y1="40.64" x2="80.45" y2="45.36" stroke="#3a3c48" stroke-width="0.9"/>
<line x1="78.85" y1="40.64" x2="82.05" y2="40.64" stroke="#3a3c48" stroke-width="0.9"/>
<line x1="78.85" y1="45.36" x2="82.05" y2="45.36" stroke="#3a3c48" stroke-width="0.9"/>
<rect x="78.55" y="41.10" width="3.8" height="3.8" fill="#3a3c48"/>
<line x1="95.92" y1="42.84" x2="95.92" y2="47.56" stroke="#3a3c48" stroke-width="0.9"/>
<line x1="94.33" y1="42.84" x2="97.52" y2="42.84" stroke="#3a3c48" stroke-width="0.9"/>
<line x1="94.33" y1="47.56" x2="97.52" y2="47.56" stroke="#3a3c48" stroke-width="0.9"/>
<rect x="94.02" y="43.30" width="3.8" height="3.8" fill="#3a3c48"/>
<line x1="111.40" y1="38.75" x2="111.40" y2="46.61" stroke="#3a3c48" stroke-width="0.9"/>
<line x1="109.80" y1="38.75" x2="113.00" y2="38.75" stroke="#3a3c48" stroke-width="0.9"/>
<line x1="109.80" y1="46.61" x2="113.00" y2="46.61" stroke="#3a3c48" stroke-width="0.9"/>
<rect x="109.50" y="40.78" width="3.8" height="3.8" fill="#3a3c48"/>
<line x1="126.88" y1="42.53" x2="126.88" y2="47.24" stroke="#3a3c48" stroke-width="0.9"/>
<line x1="125.28" y1="42.53" x2="128.47" y2="42.53" stroke="#3a3c48" stroke-width="0.9"/>
<line x1="125.28" y1="47.24" x2="128.47" y2="47.24" stroke="#3a3c48" stroke-width="0.9"/>
<rect x="124.97" y="42.98" width="3.8" height="3.8" fill="#3a3c48"/>
<line x1="142.35" y1="40.95" x2="142.35" y2="45.67" stroke="#3a3c48" stroke-width="0.9"/>
<line x1="140.75" y1="40.95" x2="143.95" y2="40.95" stroke="#3a3c48" stroke-width="0.9"/>
<line x1="140.75" y1="45.67" x2="143.95" y2="45.67" stroke="#3a3c48" stroke-width="0.9"/>
<rect x="140.45" y="41.41" width="3.8" height="3.8" fill="#3a3c48"/>
<line x1="157.82" y1="41.58" x2="157.82" y2="49.44" stroke="#3a3c48" stroke-width="0.9"/>
<line x1="156.22" y1="41.58" x2="159.42" y2="41.58" stroke="#3a3c48" stroke-width="0.9"/>
<line x1="156.22" y1="49.44" x2="159.42" y2="49.44" stroke="#3a3c48" stroke-width="0.9"/>
<rect x="155.92" y="43.61" width="3.8" height="3.8" fill="#3a3c48"/>
<line x1="173.30" y1="41.27" x2="173.30" y2="45.99" stroke="#3a3c48" stroke-width="0.9"/>
<line x1="171.70" y1="41.27" x2="174.90" y2="41.27" stroke="#3a3c48" stroke-width="0.9"/>
<line x1="171.70" y1="45.99" x2="174.90" y2="45.99" stroke="#3a3c48" stroke-width="0.9"/>
<rect x="171.40" y="41.73" width="3.8" height="3.8" fill="#3a3c48"/>
<line x1="49.50" y1="38.75" x2="49.50" y2="46.61" stroke="#bc1230" stroke-width="0.9"/>
<line x1="47.90" y1="38.75" x2="51.10" y2="38.75" stroke="#bc1230" stroke-width="0.9"/>
<line x1="47.90" y1="46.61" x2="51.10" y2="46.61" stroke="#bc1230" stroke-width="0.9"/>
<rect x="47.60" y="40.78" width="3.8" height="3.8" fill="#bc1230"/>
<line x1="64.97" y1="39.07" x2="64.97" y2="43.79" stroke="#bc1230" stroke-width="0.9"/>
<line x1="63.37" y1="39.07" x2="66.57" y2="39.07" stroke="#bc1230" stroke-width="0.9"/>
<line x1="63.37" y1="43.79" x2="66.57" y2="43.79" stroke="#bc1230" stroke-width="0.9"/>
<rect x="63.07" y="39.53" width="3.8" height="3.8" fill="#bc1230"/>
<line x1="80.45" y1="41.28" x2="80.45" y2="45.99" stroke="#bc1230" stroke-width="0.9"/>
<line x1="78.85" y1="41.28" x2="82.05" y2="41.28" stroke="#bc1230" stroke-width="0.9"/>
<line x1="78.85" y1="45.99" x2="82.05" y2="45.99" stroke="#bc1230" stroke-width="0.9"/>
<rect x="78.55" y="41.74" width="3.8" height="3.8" fill="#bc1230"/>
<line x1="95.92" y1="37.23" x2="95.92" y2="45.09" stroke="#bc1230" stroke-width="0.9"/>
<line x1="94.33" y1="37.23" x2="97.52" y2="37.23" stroke="#bc1230" stroke-width="0.9"/>
<line x1="94.33" y1="45.09" x2="97.52" y2="45.09" stroke="#bc1230" stroke-width="0.9"/>
<rect x="94.02" y="39.26" width="3.8" height="3.8" fill="#bc1230"/>
<line x1="111.40" y1="41.23" x2="111.40" y2="45.95" stroke="#bc1230" stroke-width="0.9"/>
<line x1="109.80" y1="41.23" x2="113.00" y2="41.23" stroke="#bc1230" stroke-width="0.9"/>
<line x1="109.80" y1="45.95" x2="113.00" y2="45.95" stroke="#bc1230" stroke-width="0.9"/>
<rect x="109.50" y="41.69" width="3.8" height="3.8" fill="#bc1230"/>
<line x1="126.88" y1="40.62" x2="126.88" y2="45.33" stroke="#bc1230" stroke-width="0.9"/>
<line x1="125.28" y1="40.62" x2="128.47" y2="40.62" stroke="#bc1230" stroke-width="0.9"/>
<line x1="125.28" y1="45.33" x2="128.47" y2="45.33" stroke="#bc1230" stroke-width="0.9"/>
<rect x="124.97" y="41.08" width="3.8" height="3.8" fill="#bc1230"/>
<line x1="142.35" y1="43.15" x2="142.35" y2="51.01" stroke="#bc1230" stroke-width="0.9"/>
<line x1="140.75" y1="43.15" x2="143.95" y2="43.15" stroke="#bc1230" stroke-width="0.9"/>
<line x1="140.75" y1="51.01" x2="143.95" y2="51.01" stroke="#bc1230" stroke-width="0.9"/>
<rect x="140.45" y="45.18" width="3.8" height="3.8" fill="#bc1230"/>
<line x1="157.82" y1="44.03" x2="157.82" y2="48.74" stroke="#bc1230" stroke-width="0.9"/>
<line x1="156.22" y1="44.03" x2="159.42" y2="44.03" stroke="#bc1230" stroke-width="0.9"/>
<line x1="156.22" y1="48.74" x2="159.42" y2="48.74" stroke="#bc1230" stroke-width="0.9"/>
<rect x="155.92" y="44.49" width="3.8" height="3.8" fill="#bc1230"/>
<line x1="173.30" y1="44.97" x2="173.30" y2="49.68" stroke="#bc1230" stroke-width="0.9"/>
<line x1="171.70" y1="44.97" x2="174.90" y2="44.97" stroke="#bc1230" stroke-width="0.9"/>
<line x1="171.70" y1="49.68" x2="174.90" y2="49.68" stroke="#bc1230" stroke-width="0.9"/>
<rect x="171.40" y="45.43" width="3.8" height="3.8" fill="#bc1230"/>
<line x1="49.50" y1="34.75" x2="49.50" y2="44.18" stroke="#163a55" stroke-width="0.9"/>
<line x1="47.90" y1="34.75" x2="51.10" y2="34.75" stroke="#163a55" stroke-width="0.9"/>
<line x1="47.90" y1="44.18" x2="51.10" y2="44.18" stroke="#163a55" stroke-width="0.9"/>
<rect x="47.60" y="37.56" width="3.8" height="3.8" fill="#163a55"/>
<line x1="64.97" y1="36.95" x2="64.97" y2="46.38" stroke="#163a55" stroke-width="0.9"/>
<line x1="63.37" y1="36.95" x2="66.57" y2="36.95" stroke="#163a55" stroke-width="0.9"/>
<line x1="63.37" y1="46.38" x2="66.57" y2="46.38" stroke="#163a55" stroke-width="0.9"/>
<rect x="63.07" y="39.76" width="3.8" height="3.8" fill="#163a55"/>
<line x1="80.45" y1="33.65" x2="80.45" y2="44.65" stroke="#163a55" stroke-width="0.9"/>
<line x1="78.85" y1="33.65" x2="82.05" y2="33.65" stroke="#163a55" stroke-width="0.9"/>
<line x1="78.85" y1="44.65" x2="82.05" y2="44.65" stroke="#163a55" stroke-width="0.9"/>
<rect x="78.55" y="37.25" width="3.8" height="3.8" fill="#163a55"/>
<line x1="95.92" y1="38.20" x2="95.92" y2="44.49" stroke="#163a55" stroke-width="0.9"/>
<line x1="94.33" y1="38.20" x2="97.52" y2="38.20" stroke="#163a55" stroke-width="0.9"/>
<line x1="94.33" y1="44.49" x2="97.52" y2="44.49" stroke="#163a55" stroke-width="0.9"/>
<rect x="94.02" y="39.45" width="3.8" height="3.8" fill="#163a55"/>
<line x1="111.40" y1="35.85" x2="111.40" y2="43.71" stroke="#163a55" stroke-width="0.9"/>
<line x1="109.80" y1="35.85" x2="113.00" y2="35.85" stroke="#163a55" stroke-width="0.9"/>
<line x1="109.80" y1="43.71" x2="113.00" y2="43.71" stroke="#163a55" stroke-width="0.9"/>
<rect x="109.50" y="37.88" width="3.8" height="3.8" fill="#163a55"/>
<line x1="126.88" y1="47.04" x2="126.88" y2="61.19" stroke="#163a55" stroke-width="0.9"/>
<line x1="125.28" y1="47.04" x2="128.47" y2="47.04" stroke="#163a55" stroke-width="0.9"/>
<line x1="125.28" y1="61.19" x2="128.47" y2="61.19" stroke="#163a55" stroke-width="0.9"/>
<rect x="124.97" y="52.21" width="3.8" height="3.8" fill="#163a55"/>
<line x1="142.35" y1="45.59" x2="142.35" y2="59.74" stroke="#163a55" stroke-width="0.9"/>
<line x1="140.75" y1="45.59" x2="143.95" y2="45.59" stroke="#163a55" stroke-width="0.9"/>
<line x1="140.75" y1="59.74" x2="143.95" y2="59.74" stroke="#163a55" stroke-width="0.9"/>
<rect x="140.45" y="50.77" width="3.8" height="3.8" fill="#163a55"/>
<line x1="157.82" y1="46.22" x2="157.82" y2="60.37" stroke="#163a55" stroke-width="0.9"/>
<line x1="156.22" y1="46.22" x2="159.42" y2="46.22" stroke="#163a55" stroke-width="0.9"/>
<line x1="156.22" y1="60.37" x2="159.42" y2="60.37" stroke="#163a55" stroke-width="0.9"/>
<rect x="155.92" y="51.39" width="3.8" height="3.8" fill="#163a55"/>
<line x1="173.30" y1="46.22" x2="173.30" y2="60.37" stroke="#163a55" stroke-width="0.9"/>
<line x1="171.70" y1="46.22" x2="174.90" y2="46.22" stroke="#163a55" stroke-width="0.9"/>
<line x1="171.70" y1="60.37" x2="174.90" y2="60.37" stroke="#163a55" stroke-width="0.9"/>
<rect x="171.40" y="51.40" width="3.8" height="3.8" fill="#163a55"/>
<polyline points="306.60,62.67 307.63,62.67 308.66,62.67 309.70,62.67 310.73,62.67 311.76,62.67 312.79,62.68 313.83,62.68 314.86,62.68 315.89,62.69 316.92,62.69 317.96,62.69 318.99,62.70 320.02,62.70 321.05,62.70 322.09,62.71 323.12,62.71 324.15,62.72 325.18,62.73 326.21,62.73 327.25,62.74 328.28,62.75 329.31,62.76 330.34,62.77 331.38,62.78 332.41,62.79 333.44,62.80 334.47,62.81 335.51,62.82 336.54,62.84 337.57,62.85 338.60,62.87 339.63,62.89 340.67,62.91 341.70,62.93 342.73,62.96 343.76,62.98 344.80,63.01 345.83,63.04 346.86,63.07 347.89,63.10 348.93,63.14 349.96,63.18 350.99,63.23 352.02,63.27 353.06,63.32 354.09,63.38 355.12,63.44 356.15,63.50 357.18,63.57 358.22,63.64 359.25,63.72 360.28,63.80 361.31,63.89 362.35,63.99 363.38,64.09 364.41,64.20 365.44,64.32 366.48,64.45 367.51,64.58 368.54,64.72 369.57,64.88 370.60,65.04 371.64,65.21 372.67,65.39 373.70,65.58 374.73,65.78 375.77,66.00 376.80,66.22 377.83,66.45 378.86,66.70 379.90,66.96 380.93,67.22 381.96,67.50 382.99,67.79 384.03,68.09 385.06,68.39 386.09,68.71 387.12,69.03 388.15,69.36 389.19,69.70 390.22,70.04 391.25,70.39 392.28,70.74 393.32,71.09 394.35,71.44 395.38,71.80 396.41,72.15 397.45,72.50 398.48,72.84 399.51,73.18 400.54,73.52 401.57,73.85 402.61,74.17 403.64,74.48 404.67,74.79 405.70,75.09 406.74,75.37 407.77,75.65 408.80,75.91 409.83,76.17 410.87,76.41 411.90,76.64 412.93,76.86 413.96,77.07 415.00,77.27 416.03,77.46 417.06,77.64 418.09,77.81 419.12,77.97 420.16,78.12 421.19,78.26 422.22,78.40 423.25,78.52 424.29,78.64 425.32,78.75 426.35,78.85 427.38,78.94 428.42,79.03 429.45,79.12 430.48,79.19" fill="none" stroke="#cccccc" stroke-width="1.1"/>
<polyline points="306.60,59.08 307.63,59.08 308.66,59.08 309.70,59.08 310.73,59.08 311.76,59.08 312.79,59.08 313.83,59.08 314.86,59.08 315.89,59.08 316.92,59.08 317.96,59.08 318.99,59.08 320.02,59.08 321.05,59.08 322.09,59.08 323.12,59.08 324.15,59.08 325.18,59.08 326.21,59.08 327.25,59.08 328.28,59.08 329.31,59.08 330.34,59.08 331.38,59.08 332.41,59.08 333.44,59.08 334.47,59.08 335.51,59.08 336.54,59.08 337.57,59.08 338.60,59.08 339.63,59.08 340.67,59.08 341.70,59.08 342.73,59.08 343.76,59.08 344.80,59.08 345.83,59.08 346.86,59.08 347.89,59.08 348.93,59.08 349.96,59.08 350.99,59.08 352.02,59.08 353.06,59.08 354.09,59.08 355.12,59.08 356.15,59.08 357.18,59.08 358.22,59.08 359.25,59.08 360.28,59.08 361.31,59.08 362.35,59.08 363.38,59.08 364.41,59.08 365.44,59.08 366.48,59.08 367.51,59.08 368.54,59.08 369.57,59.08 370.60,59.08 371.64,59.08 372.67,59.08 373.70,59.08 374.73,59.08 375.77,59.08 376.80,59.08 377.83,59.08 378.86,59.08 379.90,59.08 380.93,59.08 381.96,59.08 382.99,59.08 384.03,59.08 385.06,59.08 386.09,59.08 387.12,59.08 388.15,59.08 389.19,59.08 390.22,59.08 391.25,59.08 392.28,59.08 393.32,59.08 394.35,59.08 395.38,59.08 396.41,59.08 397.45,59.08 398.48,59.08 399.51,59.08 400.54,59.08 401.57,59.08 402.61,59.08 403.64,59.08 404.67,59.08 405.70,59.08 406.74,59.08 407.77,59.08 408.80,59.08 409.83,59.08 410.87,59.08 411.90,59.08 412.93,59.08 413.96,59.08 415.00,59.08 416.03,59.08 417.06,59.08 418.09,59.08 419.12,59.08 420.16,59.08 421.19,59.08 422.22,59.08 423.25,59.08 424.29,59.08 425.32,59.08 426.35,59.08 427.38,59.08 428.42,59.08 429.45,59.08 430.48,59.08" fill="none" stroke="#aac89d" stroke-width="1.1"/>
<polyline points="306.60,61.02 307.63,61.02 308.66,61.02 309.70,61.02 310.73,61.02 311.76,61.02 312.79,61.02 313.83,61.02 314.86,61.02 315.89,61.02 316.92,61.02 317.96,61.02 318.99,61.02 320.02,61.02 321.05,61.02 322.09,61.02 323.12,61.02 324.15,61.02 325.18,61.02 326.21,61.02 327.25,61.02 328.28,61.02 329.31,61.02 330.34,61.02 331.38,61.02 332.41,61.02 333.44,61.02 334.47,61.02 335.51,61.02 336.54,61.02 337.57,61.02 338.60,61.02 339.63,61.02 340.67,61.02 341.70,61.02 342.73,61.02 343.76,61.02 344.80,61.02 345.83,61.02 346.86,61.02 347.89,61.02 348.93,61.02 349.96,61.02 350.99,61.02 352.02,61.02 353.06,61.02 354.09,61.02 355.12,61.02 356.15,61.02 357.18,61.02 358.22,61.02 359.25,61.02 360.28,61.02 361.31,61.02 362.35,61.02 363.38,61.02 364.41,61.02 365.44,61.02 366.48,61.02 367.51,61.02 368.54,61.02 369.57,61.02 370.60,61.02 371.64,61.02 372.67,61.02 373.70,61.02 374.73,61.02 375.77,61.02 376.80,61.02 377.83,61.02 378.86,61.02 379.90,61.02 380.93,61.02 381.96,61.02 382.99,61.02 384.03,61.02 385.06,61.02 386.09,61.02 387.12,61.02 388.15,61.02 389.19,61.02 390.22,61.02 391.25,61.02 392.28,61.02 393.32,61.02 394.35,61.02 395.38,61.02 396.41,61.02 397.45,61.02 398.48,61.02 399.51,61.02 400.54,61.02 401.57,61.02 402.61,61.02 403.64,61.02 404.67,61.02 405.70,61.02 406.74,61.02 407.77,61.02 408.80,61.02 409.83,61.02 410.87,61.02 411.90,61.02 412.93,61.02 413.96,61.02 415.00,61.02 416.03,61.02 417.06,61.02 418.09,61.02 419.12,61.02 420.16,61.02 421.19,61.02 422.22,61.02 423.25,61.02 424.29,61.02 425.32,61.02 426.35,61.02 427.38,61.02 428.42,61.02 429.45,61.02 430.48,61.02" fill="none" stroke="#58addd" stroke-width="1.1"/>
<polyline points="306.60,62.97 307.63,62.97 308.66,62.97 309.70,62.97 310.73,62.97 311.76,62.97 312.79,62.97 313.83,62.97 314.86,62.97 315.89,62.97 316.92,62.97 317.96,62.97 318.99,62.97 320.02,62.97 321.05,62.97 322.09,62.97 323.12,62.97 324.15,62.97 325.18,62.98 326.21,62.98 327.25,62.98 328.28,62.98 329.31,62.98 330.34,62.98 331.38,62.98 332.41,62.98 333.44,62.98 334.47,62.98 335.51,62.98 336.54,62.99 337.57,62.99 338.60,62.99 339.63,62.99 340.67,62.99 341.70,63.00 342.73,63.00 343.76,63.00 344.80,63.01 345.83,63.01 346.86,63.01 347.89,63.02 348.93,63.03 349.96,63.03 350.99,63.04 352.02,63.05 353.06,63.06 354.09,63.07 355.12,63.08 356.15,63.09 357.18,63.10 358.22,63.12 359.25,63.14 360.28,63.16 361.31,63.18 362.35,63.20 363.38,63.23 364.41,63.26 365.44,63.29 366.48,63.33 367.51,63.36 368.54,63.41 369.57,63.45 370.60,63.50 371.64,63.56 372.67,63.62 373.70,63.68 374.73,63.75 375.77,63.83 376.80,63.91 377.83,63.99 378.86,64.08 379.90,64.17 380.93,64.27 381.96,64.37 382.99,64.48 384.03,64.59 385.06,64.70 386.09,64.81 387.12,64.92 388.15,65.03 389.19,65.14 390.22,65.25 391.25,65.36 392.28,65.46 393.32,65.57 394.35,65.66 395.38,65.76 396.41,65.85 397.45,65.93 398.48,66.01 399.51,66.08 400.54,66.15 401.57,66.22 402.61,66.28 403.64,66.33 404.67,66.38 405.70,66.43 406.74,66.47 407.77,66.51 408.80,66.55 409.83,66.58 410.87,66.61 411.90,66.63 412.93,66.66 413.96,66.68 415.00,66.70 416.03,66.72 417.06,66.73 418.09,66.75 419.12,66.76 420.16,66.77 421.19,66.78 422.22,66.79 423.25,66.80 424.29,66.80 425.32,66.81 426.35,66.82 427.38,66.82 428.42,66.83 429.45,66.83 430.48,66.83" fill="none" stroke="#57aa63" stroke-width="1.1"/>
<polyline points="306.60,58.75 307.63,58.75 308.66,58.75 309.70,58.75 310.73,58.75 311.76,58.75 312.79,58.75 313.83,58.75 314.86,58.75 315.89,58.75 316.92,58.75 317.96,58.75 318.99,58.75 320.02,58.75 321.05,58.75 322.09,58.75 323.12,58.75 324.15,58.75 325.18,58.75 326.21,58.75 327.25,58.75 328.28,58.75 329.31,58.75 330.34,58.75 331.38,58.75 332.41,58.75 333.44,58.75 334.47,58.75 335.51,58.75 336.54,58.75 337.57,58.75 338.60,58.75 339.63,58.75 340.67,58.75 341.70,58.75 342.73,58.75 343.76,58.75 344.80,58.75 345.83,58.75 346.86,58.75 347.89,58.75 348.93,58.75 349.96,58.75 350.99,58.75 352.02,58.75 353.06,58.75 354.09,58.75 355.12,58.75 356.15,58.75 357.18,58.75 358.22,58.75 359.25,58.75 360.28,58.75 361.31,58.75 362.35,58.75 363.38,58.75 364.41,58.75 365.44,58.75 366.48,58.75 367.51,58.75 368.54,58.75 369.57,58.75 370.60,58.75 371.64,58.75 372.67,58.75 373.70,58.75 374.73,58.75 375.77,58.75 376.80,58.75 377.83,58.75 378.86,58.75 379.90,58.75 380.93,58.75 381.96,58.75 382.99,58.75 384.03,58.75 385.06,58.75 386.09,58.75 387.12,58.75 388.15,58.75 389.19,58.75 390.22,58.75 391.25,58.75 392.28,58.75 393.32,58.75 394.35,58.75 395.38,58.75 396.41,58.75 397.45,58.75 398.48,58.75 399.51,58.75 400.54,58.75 401.57,58.75 402.61,58.75 403.64,58.75 404.67,58.75 405.70,58.75 406.74,58.75 407.77,58.75 408.80,58.76 409.83,58.77 410.87,58.80 411.90,58.89 412.93,59.15 413.96,59.87 415.00,61.74 416.03,65.80 417.06,71.87 418.09,77.33 419.12,80.41 420.16,81.70 421.19,82.18 422.22,82.35 423.25,82.41 424.29,82.43 425.32,82.44 426.35,82.44 427.38,82.44 428.42,82.44 429.45,82.44 430.48,82.44" fill="none" stroke="#e9a74b" stroke-width="1.1"/>
<polyline points="306.60,59.27 307.63,59.27 308.66,59.27 309.70,59.27 310.73,59.27 311.76,59.27 312.79,59.27 313.83,59.27 314.86,59.27 315.89,59.27 316.92,59.27 317.96,59.27 318.99,59.27 320.02,59.27 321.05,59.27 322.09,59.27 323.12,59.27 324.15,59.27 325.18,59.27 326.21,59.27 327.25,59.27 328.28,59.27 329.31,59.27 330.34,59.27 331.38,59.27 332.41,59.27 333.44,59.27 334.47,59.27 335.51,59.27 336.54,59.27 337.57,59.27 338.60,59.27 339.63,59.27 340.67,59.27 341.70,59.27 342.73,59.27 343.76,59.27 344.80,59.26 345.83,59.26 346.86,59.26 347.89,59.26 348.93,59.26 349.96,59.26 350.99,59.25 352.02,59.25 353.06,59.25 354.09,59.24 355.12,59.24 356.15,59.23 357.18,59.22 358.22,59.21 359.25,59.20 360.28,59.19 361.31,59.18 362.35,59.17 363.38,59.15 364.41,59.13 365.44,59.10 366.48,59.08 367.51,59.04 368.54,59.01 369.57,58.96 370.60,58.91 371.64,58.85 372.67,58.79 373.70,58.71 374.73,58.62 375.77,58.51 376.80,58.39 377.83,58.26 378.86,58.10 379.90,57.92 380.93,57.71 381.96,57.48 382.99,57.21 384.03,56.91 385.06,56.58 386.09,56.20 387.12,55.79 388.15,55.33 389.19,54.83 390.22,54.29 391.25,53.71 392.28,53.10 393.32,52.45 394.35,51.77 395.38,51.07 396.41,50.36 397.45,49.64 398.48,48.93 399.51,48.22 400.54,47.54 401.57,46.89 402.61,46.26 403.64,45.67 404.67,45.12 405.70,44.62 406.74,44.15 407.77,43.73 408.80,43.35 409.83,43.01 410.87,42.70 411.90,42.43 412.93,42.19 413.96,41.98 415.00,41.79 416.03,41.63 417.06,41.49 418.09,41.36 419.12,41.26 420.16,41.16 421.19,41.08 422.22,41.01 423.25,40.95 424.29,40.90 425.32,40.86 426.35,40.82 427.38,40.78 428.42,40.76 429.45,40.73 430.48,40.71" fill="none" stroke="#764f38" stroke-width="1.1"/>
<polyline points="306.60,59.27 307.63,59.27 308.66,59.27 309.70,59.27 310.73,59.27 311.76,59.27 312.79,59.27 313.83,59.27 314.86,59.27 315.89,59.27 316.92,59.27 317.96,59.28 318.99,59.28 320.02,59.28 321.05,59.28 322.09,59.28 323.12,59.28 324.15,59.28 325.18,59.28 326.21,59.28 327.25,59.28 328.28,59.28 329.31,59.28 330.34,59.29 331.38,59.29 332.41,59.29 333.44,59.29 334.47,59.29 335.51,59.30 336.54,59.30 337.57,59.30 338.60,59.31 339.63,59.31 340.67,59.32 341.70,59.32 342.73,59.33 343.76,59.34 344.80,59.34 345.83,59.35 346.86,59.36 347.89,59.38 348.93,59.39 349.96,59.41 350.99,59.42 352.02,59.44 353.06,59.47 354.09,59.49 355.12,59.52 356.15,59.55 357.18,59.59 358.22,59.63 359.25,59.67 360.28,59.73 361.31,59.78 362.35,59.85 363.38,59.92 364.41,60.01 365.44,60.10 366.48,60.21 367.51,60.33 368.54,60.46 369.57,60.61 370.60,60.78 371.64,60.97 372.67,61.18 373.70,61.42 374.73,61.69 375.77,61.98 376.80,62.31 377.83,62.68 378.86,63.08 379.90,63.53 380.93,64.03 381.96,64.58 382.99,65.18 384.03,65.83 385.06,66.55 386.09,67.32 387.12,68.16 388.15,69.06 389.19,70.02 390.22,71.05 391.25,72.13 392.28,73.27 393.32,74.46 394.35,75.70 395.38,76.98 396.41,78.28 397.45,79.61 398.48,80.94 399.51,82.28 400.54,83.61 401.57,84.92 402.61,86.20 403.64,87.45 404.67,88.65 405.70,89.80 406.74,90.90 407.77,91.94 408.80,92.91 409.83,93.82 410.87,94.67 411.90,95.46 412.93,96.19 413.96,96.85 415.00,97.47 416.03,98.02 417.06,98.53 418.09,98.99 419.12,99.40 420.16,99.77 421.19,100.11 422.22,100.41 423.25,100.68 424.29,100.93 425.32,101.14 426.35,101.34 427.38,101.51 428.42,101.67 429.45,101.80 430.48,101.93" fill="none" stroke="#a39fc6" stroke-width="1.1"/>
<polyline points="306.60,62.97 307.63,62.97 308.66,62.97 309.70,62.97 310.73,62.97 311.76,62.97 312.79,62.97 313.83,62.97 314.86,62.97 315.89,62.97 316.92,62.97 317.96,62.97 318.99,62.97 320.02,62.98 321.05,62.98 322.09,62.98 323.12,62.98 324.15,62.98 325.18,62.98 326.21,62.98 327.25,62.98 328.28,62.98 329.31,62.99 330.34,62.99 331.38,62.99 332.41,63.00 333.44,63.00 334.47,63.01 335.51,63.01 336.54,63.02 337.57,63.02 338.60,63.03 339.63,63.04 340.67,63.06 341.70,63.07 342.73,63.09 343.76,63.11 344.80,63.13 345.83,63.15 346.86,63.18 347.89,63.22 348.93,63.26 349.96,63.31 350.99,63.36 352.02,63.43 353.06,63.50 354.09,63.59 355.12,63.69 356.15,63.81 357.18,63.94 358.22,64.10 359.25,64.28 360.28,64.50 361.31,64.74 362.35,65.03 363.38,65.35 364.41,65.73 365.44,66.17 366.48,66.66 367.51,67.23 368.54,67.89 369.57,68.63 370.60,69.46 371.64,70.41 372.67,71.47 373.70,72.66 374.73,73.98 375.77,75.44 376.80,77.03 377.83,78.76 378.86,80.63 379.90,82.62 380.93,84.72 381.96,86.92 382.99,89.20 384.03,91.52 385.06,93.87 386.09,96.22 387.12,98.54 388.15,100.80 389.19,102.98 390.22,105.06 391.25,107.03 392.28,108.87 393.32,110.57 394.35,112.14 395.38,113.57 396.41,114.86 397.45,116.02 398.48,117.06 399.51,117.99 400.54,118.80 401.57,119.53 402.61,120.16 403.64,120.71 404.67,121.20 405.70,121.62 406.74,121.99 407.77,122.31 408.80,122.58 409.83,122.82 410.87,123.03 411.90,123.21 412.93,123.36 413.96,123.49 415.00,123.61 416.03,123.70 417.06,123.79 418.09,123.86 419.12,123.92 420.16,123.98 421.19,124.02 422.22,124.06 423.25,124.10 424.29,124.13 425.32,124.15 426.35,124.17 427.38,124.19 428.42,124.21 429.45,124.22 430.48,124.23" fill="none" stroke="#575963" stroke-width="1.1"/>
<polyline points="306.60,62.97 307.63,62.97 308.66,62.97 309.70,62.97 310.73,62.97 311.76,62.97 312.79,62.97 313.83,62.97 314.86,62.97 315.89,62.97 316.92,62.97 317.96,62.97 318.99,62.97 320.02,62.97 321.05,62.97 322.09,62.97 323.12,62.97 324.15,62.98 325.18,62.98 326.21,62.98 327.25,62.98 328.28,62.98 329.31,62.98 330.34,62.98 331.38,62.98 332.41,62.99 333.44,62.99 334.47,62.99 335.51,62.99 336.54,63.00 337.57,63.00 338.60,63.01 339.63,63.01 340.67,63.02 341.70,63.03 342.73,63.03 343.76,63.05 344.80,63.06 345.83,63.07 346.86,63.09 347.89,63.11 348.93,63.13 349.96,63.16 350.99,63.19 352.02,63.22 353.06,63.26 354.09,63.31 355.12,63.37 356.15,63.43 357.18,63.51 358.22,63.60 359.25,63.70 360.28,63.82 361.31,63.96 362.35,64.12 363.38,64.30 364.41,64.52 365.44,64.77 366.48,65.06 367.51,65.39 368.54,65.77 369.57,66.21 370.60,66.72 371.64,67.30 372.67,67.96 373.70,68.70 374.73,69.55 375.77,70.51 376.80,71.59 377.83,72.79 378.86,74.12 379.90,75.59 380.93,77.20 381.96,78.94 382.99,80.82 384.03,82.82 385.06,84.94 386.09,87.15 387.12,89.43 388.15,91.76 389.19,94.11 390.22,96.45 391.25,98.77 392.28,101.02 393.32,103.19 394.35,105.26 395.38,107.22 396.41,109.05 397.45,110.74 398.48,112.29 399.51,113.70 400.54,114.98 401.57,116.13 402.61,117.16 403.64,118.07 404.67,118.88 405.70,119.59 406.74,120.22 407.77,120.77 408.80,121.24 409.83,121.66 410.87,122.02 411.90,122.34 412.93,122.61 413.96,122.84 415.00,123.05 416.03,123.22 417.06,123.37 418.09,123.50 419.12,123.62 420.16,123.71 421.19,123.80 422.22,123.87 423.25,123.93 424.29,123.98 425.32,124.03 426.35,124.07 427.38,124.10 428.42,124.13 429.45,124.15 430.48,124.17" fill="none" stroke="#39725a" stroke-width="1.1"/>
<polyline points="306.60,59.27 307.63,59.27 308.66,59.27 309.70,59.27 310.73,59.27 311.76,59.27 312.79,59.27 313.83,59.27 314.86,59.27 315.89,59.27 316.92,59.27 317.96,59.27 318.99,59.27 320.02,59.27 321.05,59.27 322.09,59.27 323.12,59.27 324.15,59.27 325.18,59.27 326.21,59.27 327.25,59.27 328.28,59.27 329.31,59.27 330.34,59.27 331.38,59.27 332.41,59.27 333.44,59.27 334.47,59.27 335.51,59.27 336.54,59.27 337.57,59.27 338.60,59.27 339.63,59.27 340.67,59.27 341.70,59.27 342.73,59.27 343.76,59.27 344.80,59.27 345.83,59.28 346.86,59.28 347.89,59.28 348.93,59.28 349.96,59.28 350.99,59.28 352.02,59.28 353.06,59.29 354.09,59.29 355.12,59.29 356.15,59.30 357.18,59.30 358.22,59.31 359.25,59.32 360.28,59.33 361.31,59.34 362.35,59.35 363.38,59.37 364.41,59.39 365.44,59.42 366.48,59.45 367.51,59.49 368.54,59.54 369.57,59.60 370.60,59.67 371.64,59.75 372.67,59.86 373.70,59.99 374.73,60.14 375.77,60.33 376.80,60.56 377.83,60.84 378.86,61.17 379.90,61.58 380.93,62.07 381.96,62.65 382.99,63.35 384.03,64.19 385.06,65.18 386.09,66.34 387.12,67.70 388.15,69.28 389.19,71.09 390.22,73.15 391.25,75.46 392.28,78.02 393.32,80.80 394.35,83.78 395.38,86.91 396.41,90.15 397.45,93.42 398.48,96.67 399.51,99.83 400.54,102.84 401.57,105.67 402.61,108.27 403.64,110.63 404.67,112.74 405.70,114.60 406.74,116.22 407.77,117.63 408.80,118.83 409.83,119.85 410.87,120.71 411.90,121.44 412.93,122.05 413.96,122.55 415.00,122.97 416.03,123.32 417.06,123.61 418.09,123.85 419.12,124.05 420.16,124.21 421.19,124.34 422.22,124.45 423.25,124.54 424.29,124.61 425.32,124.67 426.35,124.72 427.38,124.77 428.42,124.80 429.45,124.83 430.48,124.85" fill="none" stroke="#c6354f" stroke-width="1.1"/>
<polyline points="306.60,56.29 307.63,56.29 308.66,56.29 309.70,56.29 310.73,56.29 311.76,56.29 312.79,56.29 313.83,56.29 314.86,56.29 315.89,56.29 316.92,56.29 317.96,56.29 318.99,56.29 320.02,56.29 321.05,56.29 322.09,56.29 323.12,56.29 324.15,56.29 325.18,56.29 326.21,56.29 327.25,56.29 328.28,56.29 329.31,56.29 330.34,56.29 331.38,56.29 332.41,56.29 333.44,56.29 334.47,56.29 335.51,56.29 336.54,56.29 337.57,56.29 338.60,56.29 339.63,56.29 340.67,56.29 341.70,56.29 342.73,56.29 343.76,56.29 344.80,56.29 345.83,56.29 346.86,56.29 347.89,56.29 348.93,56.29 349.96,56.29 350.99,56.29 352.02,56.29 353.06,56.29 354.09,56.29 355.12,56.29 356.15,56.29 357.18,56.29 358.22,56.29 359.25,56.29 360.28,56.29 361.31,56.29 362.35,56.29 363.38,56.29 364.41,56.29 365.44,56.30 366.48,56.30 367.51,56.30 368.54,56.31 369.57,56.31 370.60,56.32 371.64,56.33 372.67,56.34 373.70,56.35 374.73,56.36 375.77,56.38 376.80,56.41 377.83,56.44 378.86,56.48 379.90,56.53 380.93,56.59 381.96,56.67 382.99,56.77 384.03,56.90 385.06,57.05 386.09,57.25 387.12,57.49 388.15,57.80 389.19,58.18 390.22,58.65 391.25,59.23 392.28,59.95 393.32,60.84 394.35,61.92 395.38,63.22 396.41,64.79 397.45,66.66 398.48,68.84 399.51,71.37 400.54,74.23 401.57,77.42 402.61,80.89 403.64,84.59 404.67,88.42 405.70,92.29 406.74,96.11 407.77,99.76 408.80,103.18 409.83,106.31 410.87,109.11 411.90,111.56 412.93,113.68 413.96,115.48 415.00,117.00 416.03,118.26 417.06,119.29 418.09,120.14 419.12,120.84 420.16,121.40 421.19,121.85 422.22,122.21 423.25,122.50 424.29,122.74 425.32,122.92 426.35,123.07 427.38,123.19 428.42,123.28 429.45,123.36 430.48,123.42" fill="none" stroke="#38576e" stroke-width="1.1"/>
<line x1="306.60" y1="61.37" x2="306.60" y2="63.96" stroke="#c4c4c4" stroke-width="0.9"/>
<line x1="305.00" y1="61.37" x2="308.20" y2="61.37" stroke="#c4c4c4" stroke-width="0.9"/>
<line x1="305.00" y1="63.96" x2="308.20" y2="63.96" stroke="#c4c4c4" stroke-width="0.9"/>
<circle cx="306.60" cy="62.67" r="1.90" fill="#c4c4c4"/>
<line x1="322.09" y1="60.44" x2="322.09" y2="63.03" stroke="#c4c4c4" stroke-width="0.9"/>
<line x1="320.49" y1="60.44" x2="323.69" y2="60.44" stroke="#c4c4c4" stroke-width="0.9"/>
<line x1="320.49" y1="63.03" x2="323.69" y2="63.03" stroke="#c4c4c4" stroke-width="0.9"/>
<circle cx="322.09" cy="61.74" r="1.90" fill="#c4c4c4"/>
<line x1="337.57" y1="62.21" x2="337.57" y2="64.80" stroke="#c4c4c4" stroke-width="0.9"/>
<line x1="335.97" y1="62.21" x2="339.17" y2="62.21" stroke="#c4c4c4" stroke-width="0.9"/>
<line x1="335.97" y1="64.80" x2="339.17" y2="64.80" stroke="#c4c4c4" stroke-width="0.9"/>
<circle cx="337.57" cy="63.50" r="1.90" fill="#c4c4c4"/>
<line x1="353.06" y1="60.73" x2="353.06" y2="63.32" stroke="#c4c4c4" stroke-width="0.9"/>
<line x1="351.45" y1="60.73" x2="354.66" y2="60.73" stroke="#c4c4c4" stroke-width="0.9"/>
<line x1="351.45" y1="63.32" x2="354.66" y2="63.32" stroke="#c4c4c4" stroke-width="0.9"/>
<circle cx="353.06" cy="62.03" r="1.90" fill="#c4c4c4"/>
<line x1="368.54" y1="64.40" x2="368.54" y2="66.99" stroke="#c4c4c4" stroke-width="0.9"/>
<line x1="366.94" y1="64.40" x2="370.14" y2="64.40" stroke="#c4c4c4" stroke-width="0.9"/>
<line x1="366.94" y1="66.99" x2="370.14" y2="66.99" stroke="#c4c4c4" stroke-width="0.9"/>
<circle cx="368.54" cy="65.70" r="1.90" fill="#c4c4c4"/>
<line x1="384.03" y1="66.14" x2="384.03" y2="68.74" stroke="#c4c4c4" stroke-width="0.9"/>
<line x1="382.43" y1="66.14" x2="385.63" y2="66.14" stroke="#c4c4c4" stroke-width="0.9"/>
<line x1="382.43" y1="68.74" x2="385.63" y2="68.74" stroke="#c4c4c4" stroke-width="0.9"/>
<circle cx="384.03" cy="67.44" r="1.90" fill="#c4c4c4"/>
<line x1="399.51" y1="73.18" x2="399.51" y2="75.78" stroke="#c4c4c4" stroke-width="0.9"/>
<line x1="397.91" y1="73.18" x2="401.11" y2="73.18" stroke="#c4c4c4" stroke-width="0.9"/>
<line x1="397.91" y1="75.78" x2="401.11" y2="75.78" stroke="#c4c4c4" stroke-width="0.9"/>
<circle cx="399.51" cy="74.48" r="1.90" fill="#c4c4c4"/>
<line x1="415.00" y1="75.00" x2="415.00" y2="77.60" stroke="#c4c4c4" stroke-width="0.9"/>
<line x1="413.39" y1="75.00" x2="416.60" y2="75.00" stroke="#c4c4c4" stroke-width="0.9"/>
<line x1="413.39" y1="77.60" x2="416.60" y2="77.60" stroke="#c4c4c4" stroke-width="0.9"/>
<circle cx="415.00" cy="76.30" r="1.90" fill="#c4c4c4"/>
<line x1="430.48" y1="77.89" x2="430.48" y2="80.49" stroke="#c4c4c4" stroke-width="0.9"/>
<line x1="428.88" y1="77.89" x2="432.08" y2="77.89" stroke="#c4c4c4" stroke-width="0.9"/>
<line x1="428.88" y1="80.49" x2="432.08" y2="80.49" stroke="#c4c4c4" stroke-width="0.9"/>
<circle cx="430.48" cy="79.19" r="1.90" fill="#c4c4c4"/>
<line x1="306.60" y1="52.91" x2="306.60" y2="63.30" stroke="#9cbf8c" stroke-width="0.9"/>
<line x1="305.00" y1="52.91" x2="308.20" y2="52.91" stroke="#9cbf8c" stroke-width="0.9"/>
<line x1="305.00" y1="63.30" x2="308.20" y2="63.30" stroke="#9cbf8c" stroke-width="0.9"/>
<circle cx="306.60" cy="58.10" r="1.90" fill="#9cbf8c"/>
<line x1="322.09" y1="58.43" x2="322.09" y2="61.02" stroke="#9cbf8c" stroke-width="0.9"/>
<line x1="320.49" y1="58.43" x2="323.69" y2="58.43" stroke="#9cbf8c" stroke-width="0.9"/>
<line x1="320.49" y1="61.02" x2="323.69" y2="61.02" stroke="#9cbf8c" stroke-width="0.9"/>
<circle cx="322.09" cy="59.73" r="1.90" fill="#9cbf8c"/>
<line x1="337.57" y1="56.48" x2="337.57" y2="59.08" stroke="#9cbf8c" stroke-width="0.9"/>
<line x1="335.97" y1="56.48" x2="339.17" y2="56.48" stroke="#9cbf8c" stroke-width="0.9"/>
<line x1="335.97" y1="59.08" x2="339.17" y2="59.08" stroke="#9cbf8c" stroke-width="0.9"/>
<circle cx="337.57" cy="57.78" r="1.90" fill="#9cbf8c"/>
<line x1="353.06" y1="58.75" x2="353.06" y2="61.35" stroke="#9cbf8c" stroke-width="0.9"/>
<line x1="351.45" y1="58.75" x2="354.66" y2="58.75" stroke="#9cbf8c" stroke-width="0.9"/>
<line x1="351.45" y1="61.35" x2="354.66" y2="61.35" stroke="#9cbf8c" stroke-width="0.9"/>
<circle cx="353.06" cy="60.05" r="1.90" fill="#9cbf8c"/>
<line x1="368.54" y1="57.13" x2="368.54" y2="59.73" stroke="#9cbf8c" stroke-width="0.9"/>
<line x1="366.94" y1="57.13" x2="370.14" y2="57.13" stroke="#9cbf8c" stroke-width="0.9"/>
<line x1="366.94" y1="59.73" x2="370.14" y2="59.73" stroke="#9cbf8c" stroke-width="0.9"/>
<circle cx="368.54" cy="58.43" r="1.90" fill="#9cbf8c"/>
<line x1="384.03" y1="59.08" x2="384.03" y2="61.67" stroke="#9cbf8c" stroke-width="0.9"/>
<line x1="382.43" y1="59.08" x2="385.63" y2="59.08" stroke="#9cbf8c" stroke-width="0.9"/>
<line x1="382.43" y1="61.67" x2="385.63" y2="61.67" stroke="#9cbf8c" stroke-width="0.9"/>
<circle cx="384.03" cy="60.38" r="1.90" fill="#9cbf8c"/>
<line x1="399.51" y1="56.81" x2="399.51" y2="59.40" stroke="#9cbf8c" stroke-width="0.9"/>
<line x1="397.91" y1="56.81" x2="401.11" y2="56.81" stroke="#9cbf8c" stroke-width="0.9"/>
<line x1="397.91" y1="59.40" x2="401.11" y2="59.40" stroke="#9cbf8c" stroke-width="0.9"/>
<circle cx="399.51" cy="58.10" r="1.90" fill="#9cbf8c"/>
<line x1="415.00" y1="57.78" x2="415.00" y2="60.38" stroke="#9cbf8c" stroke-width="0.9"/>
<line x1="413.39" y1="57.78" x2="416.60" y2="57.78" stroke="#9cbf8c" stroke-width="0.9"/>
<line x1="413.39" y1="60.38" x2="416.60" y2="60.38" stroke="#9cbf8c" stroke-width="0.9"/>
<circle cx="415.00" cy="59.08" r="1.90" fill="#9cbf8c"/>
<line x1="430.48" y1="57.78" x2="430.48" y2="60.38" stroke="#9cbf8c" stroke-width="0.9"/>
<line x1="428.88" y1="57.78" x2="432.08" y2="57.78" stroke="#9cbf8c" stroke-width="0.9"/>
<line x1="428.88" y1="60.38" x2="432.08" y2="60.38" stroke="#9cbf8c" stroke-width="0.9"/>
<circle cx="430.48" cy="59.08" r="1.90" fill="#9cbf8c"/>
<line x1="306.60" y1="60.38" x2="306.60" y2="62.97" stroke="#3b9fd8" stroke-width="0.9"/>
<line x1="305.00" y1="60.38" x2="308.20" y2="60.38" stroke="#3b9fd8" stroke-width="0.9"/>
<line x1="305.00" y1="62.97" x2="308.20" y2="62.97" stroke="#3b9fd8" stroke-width="0.9"/>
<circle cx="306.60" cy="61.67" r="1.90" fill="#3b9fd8"/>
<line x1="322.09" y1="58.43" x2="322.09" y2="61.02" stroke="#3b9fd8" stroke-width="0.9"/>
<line x1="320.49" y1="58.43" x2="323.69" y2="58.43" stroke="#3b9fd8" stroke-width="0.9"/>
<line x1="320.49" y1="61.02" x2="323.69" y2="61.02" stroke="#3b9fd8" stroke-width="0.9"/>
<circle cx="322.09" cy="59.73" r="1.90" fill="#3b9fd8"/>
<line x1="337.57" y1="60.70" x2="337.57" y2="63.30" stroke="#3b9fd8" stroke-width="0.9"/>
<line x1="335.97" y1="60.70" x2="339.17" y2="60.70" stroke="#3b9fd8" stroke-width="0.9"/>
<line x1="335.97" y1="63.30" x2="339.17" y2="63.30" stroke="#3b9fd8" stroke-width="0.9"/>
<circle cx="337.57" cy="62.00" r="1.90" fill="#3b9fd8"/>
<line x1="353.06" y1="59.08" x2="353.06" y2="61.67" stroke="#3b9fd8" stroke-width="0.9"/>
<line x1="351.45" y1="59.08" x2="354.66" y2="59.08" stroke="#3b9fd8" stroke-width="0.9"/>
<line x1="351.45" y1="61.67" x2="354.66" y2="61.67" stroke="#3b9fd8" stroke-width="0.9"/>
<circle cx="353.06" cy="60.38" r="1.90" fill="#3b9fd8"/>
<line x1="368.54" y1="61.02" x2="368.54" y2="63.62" stroke="#3b9fd8" stroke-width="0.9"/>
<line x1="366.94" y1="61.02" x2="370.14" y2="61.02" stroke="#3b9fd8" stroke-width="0.9"/>
<line x1="366.94" y1="63.62" x2="370.14" y2="63.62" stroke="#3b9fd8" stroke-width="0.9"/>
<circle cx="368.54" cy="62.32" r="1.90" fill="#3b9fd8"/>
<line x1="384.03" y1="58.75" x2="384.03" y2="61.35" stroke="#3b9fd8" stroke-width="0.9"/>
<line x1="382.43" y1="58.75" x2="385.63" y2="58.75" stroke="#3b9fd8" stroke-width="0.9"/>
<line x1="382.43" y1="61.35" x2="385.63" y2="61.35" stroke="#3b9fd8" stroke-width="0.9"/>
<circle cx="384.03" cy="60.05" r="1.90" fill="#3b9fd8"/>
<line x1="399.51" y1="59.73" x2="399.51" y2="62.32" stroke="#3b9fd8" stroke-width="0.9"/>
<line x1="397.91" y1="59.73" x2="401.11" y2="59.73" stroke="#3b9fd8" stroke-width="0.9"/>
<line x1="397.91" y1="62.32" x2="401.11" y2="62.32" stroke="#3b9fd8" stroke-width="0.9"/>
<circle cx="399.51" cy="61.02" r="1.90" fill="#3b9fd8"/>
<line x1="415.00" y1="59.73" x2="415.00" y2="62.32" stroke="#3b9fd8" stroke-width="0.9"/>
<line x1="413.39" y1="59.73" x2="416.60" y2="59.73" stroke="#3b9fd8" stroke-width="0.9"/>
<line x1="413.39" y1="62.32" x2="416.60" y2="62.32" stroke="#3b9fd8" stroke-width="0.9"/>
<circle cx="415.00" cy="61.02" r="1.90" fill="#3b9fd8"/>
<line x1="430.48" y1="58.75" x2="430.48" y2="61.35" stroke="#3b9fd8" stroke-width="0.9"/>
<line x1="428.88" y1="58.75" x2="432.08" y2="58.75" stroke="#3b9fd8" stroke-width="0.9"/>
<line x1="428.88" y1="61.35" x2="432.08" y2="61.35" stroke="#3b9fd8" stroke-width="0.9"/>
<circle cx="430.48" cy="60.05" r="1.90" fill="#3b9fd8"/>
<line x1="306.60" y1="60.38" x2="306.60" y2="62.97" stroke="#3a9c48" stroke-width="0.9"/>
<line x1="305.00" y1="60.38" x2="308.20" y2="60.38" stroke="#3a9c48" stroke-width="0.9"/>
<line x1="305.00" y1="62.97" x2="308.20" y2="62.97" stroke="#3a9c48" stroke-width="0.9"/>
<circle cx="306.60" cy="61.67" r="1.90" fill="#3a9c48"/>
<line x1="322.09" y1="62.65" x2="322.09" y2="65.25" stroke="#3a9c48" stroke-width="0.9"/>
<line x1="320.49" y1="62.65" x2="323.69" y2="62.65" stroke="#3a9c48" stroke-width="0.9"/>
<line x1="320.49" y1="65.25" x2="323.69" y2="65.25" stroke="#3a9c48" stroke-width="0.9"/>
<circle cx="322.09" cy="63.95" r="1.90" fill="#3a9c48"/>
<line x1="337.57" y1="61.04" x2="337.57" y2="63.64" stroke="#3a9c48" stroke-width="0.9"/>
<line x1="335.97" y1="61.04" x2="339.17" y2="61.04" stroke="#3a9c48" stroke-width="0.9"/>
<line x1="335.97" y1="63.64" x2="339.17" y2="63.64" stroke="#3a9c48" stroke-width="0.9"/>
<circle cx="337.57" cy="62.34" r="1.90" fill="#3a9c48"/>
<line x1="353.06" y1="63.06" x2="353.06" y2="65.65" stroke="#3a9c48" stroke-width="0.9"/>
<line x1="351.45" y1="63.06" x2="354.66" y2="63.06" stroke="#3a9c48" stroke-width="0.9"/>
<line x1="351.45" y1="65.65" x2="354.66" y2="65.65" stroke="#3a9c48" stroke-width="0.9"/>
<circle cx="353.06" cy="64.35" r="1.90" fill="#3a9c48"/>
<line x1="368.54" y1="61.14" x2="368.54" y2="63.73" stroke="#3a9c48" stroke-width="0.9"/>
<line x1="366.94" y1="61.14" x2="370.14" y2="61.14" stroke="#3a9c48" stroke-width="0.9"/>
<line x1="366.94" y1="63.73" x2="370.14" y2="63.73" stroke="#3a9c48" stroke-width="0.9"/>
<circle cx="368.54" cy="62.43" r="1.90" fill="#3a9c48"/>
<line x1="384.03" y1="63.29" x2="384.03" y2="65.88" stroke="#3a9c48" stroke-width="0.9"/>
<line x1="382.43" y1="63.29" x2="385.63" y2="63.29" stroke="#3a9c48" stroke-width="0.9"/>
<line x1="382.43" y1="65.88" x2="385.63" y2="65.88" stroke="#3a9c48" stroke-width="0.9"/>
<circle cx="384.03" cy="64.59" r="1.90" fill="#3a9c48"/>
<line x1="399.51" y1="64.79" x2="399.51" y2="67.38" stroke="#3a9c48" stroke-width="0.9"/>
<line x1="397.91" y1="64.79" x2="401.11" y2="64.79" stroke="#3a9c48" stroke-width="0.9"/>
<line x1="397.91" y1="67.38" x2="401.11" y2="67.38" stroke="#3a9c48" stroke-width="0.9"/>
<circle cx="399.51" cy="66.08" r="1.90" fill="#3a9c48"/>
<line x1="415.00" y1="64.43" x2="415.00" y2="67.02" stroke="#3a9c48" stroke-width="0.9"/>
<line x1="413.39" y1="64.43" x2="416.60" y2="64.43" stroke="#3a9c48" stroke-width="0.9"/>
<line x1="413.39" y1="67.02" x2="416.60" y2="67.02" stroke="#3a9c48" stroke-width="0.9"/>
<circle cx="415.00" cy="65.73" r="1.90" fill="#3a9c48"/>
<line x1="430.48" y1="66.19" x2="430.48" y2="68.78" stroke="#3a9c48" stroke-width="0.9"/>
<line x1="428.88" y1="66.19" x2="432.08" y2="66.19" stroke="#3a9c48" stroke-width="0.9"/>
<line x1="428.88" y1="68.78" x2="432.08" y2="68.78" stroke="#3a9c48" stroke-width="0.9"/>
<circle cx="430.48" cy="67.48" r="1.90" fill="#3a9c48"/>
<line x1="306.60" y1="58.43" x2="306.60" y2="61.02" stroke="#e6982c" stroke-width="0.9"/>
<line x1="305.00" y1="58.43" x2="308.20" y2="58.43" stroke="#e6982c" stroke-width="0.9"/>
<line x1="305.00" y1="61.02" x2="308.20" y2="61.02" stroke="#e6982c" stroke-width="0.9"/>
<circle cx="306.60" cy="59.73" r="1.90" fill="#e6982c"/>
<line x1="322.09" y1="56.81" x2="322.09" y2="59.40" stroke="#e6982c" stroke-width="0.9"/>
<line x1="320.49" y1="56.81" x2="323.69" y2="56.81" stroke="#e6982c" stroke-width="0.9"/>
<line x1="320.49" y1="59.40" x2="323.69" y2="59.40" stroke="#e6982c" stroke-width="0.9"/>
<circle cx="322.09" cy="58.10" r="1.90" fill="#e6982c"/>
<line x1="337.57" y1="58.75" x2="337.57" y2="61.35" stroke="#e6982c" stroke-width="0.9"/>
<line x1="335.97" y1="58.75" x2="339.17" y2="58.75" stroke="#e6982c" stroke-width="0.9"/>
<line x1="335.97" y1="61.35" x2="339.17" y2="61.35" stroke="#e6982c" stroke-width="0.9"/>
<circle cx="337.57" cy="60.05" r="1.90" fill="#e6982c"/>
<line x1="353.06" y1="56.48" x2="353.06" y2="59.08" stroke="#e6982c" stroke-width="0.9"/>
<line x1="351.45" y1="56.48" x2="354.66" y2="56.48" stroke="#e6982c" stroke-width="0.9"/>
<line x1="351.45" y1="59.08" x2="354.66" y2="59.08" stroke="#e6982c" stroke-width="0.9"/>
<circle cx="353.06" cy="57.78" r="1.90" fill="#e6982c"/>
<line x1="368.54" y1="57.45" x2="368.54" y2="60.05" stroke="#e6982c" stroke-width="0.9"/>
<line x1="366.94" y1="57.45" x2="370.14" y2="57.45" stroke="#e6982c" stroke-width="0.9"/>
<line x1="366.94" y1="60.05" x2="370.14" y2="60.05" stroke="#e6982c" stroke-width="0.9"/>
<circle cx="368.54" cy="58.75" r="1.90" fill="#e6982c"/>
<line x1="384.03" y1="57.46" x2="384.03" y2="60.05" stroke="#e6982c" stroke-width="0.9"/>
<line x1="382.43" y1="57.46" x2="385.63" y2="57.46" stroke="#e6982c" stroke-width="0.9"/>
<line x1="382.43" y1="60.05" x2="385.63" y2="60.05" stroke="#e6982c" stroke-width="0.9"/>
<circle cx="384.03" cy="58.75" r="1.90" fill="#e6982c"/>
<line x1="399.51" y1="56.48" x2="399.51" y2="59.08" stroke="#e6982c" stroke-width="0.9"/>
<line x1="397.91" y1="56.48" x2="401.11" y2="56.48" stroke="#e6982c" stroke-width="0.9"/>
<line x1="397.91" y1="59.08" x2="401.11" y2="59.08" stroke="#e6982c" stroke-width="0.9"/>
<circle cx="399.51" cy="57.78" r="1.90" fill="#e6982c"/>
<line x1="415.00" y1="64.59" x2="415.00" y2="67.19" stroke="#e6982c" stroke-width="0.9"/>
<line x1="413.39" y1="64.59" x2="416.60" y2="64.59" stroke="#e6982c" stroke-width="0.9"/>
<line x1="413.39" y1="67.19" x2="416.60" y2="67.19" stroke="#e6982c" stroke-width="0.9"/>
<circle cx="415.00" cy="65.89" r="1.90" fill="#e6982c"/>
<line x1="430.48" y1="81.14" x2="430.48" y2="83.74" stroke="#e6982c" stroke-width="0.9"/>
<line x1="428.88" y1="81.14" x2="432.08" y2="81.14" stroke="#e6982c" stroke-width="0.9"/>
<line x1="428.88" y1="83.74" x2="432.08" y2="83.74" stroke="#e6982c" stroke-width="0.9"/>
<circle cx="430.48" cy="82.44" r="1.90" fill="#e6982c"/>
<line x1="306.60" y1="57.33" x2="306.60" y2="59.92" stroke="#5e3016" stroke-width="0.9"/>
<line x1="305.00" y1="57.33" x2="308.20" y2="57.33" stroke="#5e3016" stroke-width="0.9"/>
<line x1="305.00" y1="59.92" x2="308.20" y2="59.92" stroke="#5e3016" stroke-width="0.9"/>
<circle cx="306.60" cy="58.62" r="1.90" fill="#5e3016"/>
<line x1="322.09" y1="59.27" x2="322.09" y2="61.87" stroke="#5e3016" stroke-width="0.9"/>
<line x1="320.49" y1="59.27" x2="323.69" y2="59.27" stroke="#5e3016" stroke-width="0.9"/>
<line x1="320.49" y1="61.87" x2="323.69" y2="61.87" stroke="#5e3016" stroke-width="0.9"/>
<circle cx="322.09" cy="60.57" r="1.90" fill="#5e3016"/>
<line x1="337.57" y1="57.00" x2="337.57" y2="59.59" stroke="#5e3016" stroke-width="0.9"/>
<line x1="335.97" y1="57.00" x2="339.17" y2="57.00" stroke="#5e3016" stroke-width="0.9"/>
<line x1="335.97" y1="59.59" x2="339.17" y2="59.59" stroke="#5e3016" stroke-width="0.9"/>
<circle cx="337.57" cy="58.30" r="1.90" fill="#5e3016"/>
<line x1="353.06" y1="57.95" x2="353.06" y2="60.54" stroke="#5e3016" stroke-width="0.9"/>
<line x1="351.45" y1="57.95" x2="354.66" y2="57.95" stroke="#5e3016" stroke-width="0.9"/>
<line x1="351.45" y1="60.54" x2="354.66" y2="60.54" stroke="#5e3016" stroke-width="0.9"/>
<circle cx="353.06" cy="59.25" r="1.90" fill="#5e3016"/>
<line x1="368.54" y1="57.71" x2="368.54" y2="60.30" stroke="#5e3016" stroke-width="0.9"/>
<line x1="366.94" y1="57.71" x2="370.14" y2="57.71" stroke="#5e3016" stroke-width="0.9"/>
<line x1="366.94" y1="60.30" x2="370.14" y2="60.30" stroke="#5e3016" stroke-width="0.9"/>
<circle cx="368.54" cy="59.01" r="1.90" fill="#5e3016"/>
<line x1="384.03" y1="54.64" x2="384.03" y2="57.24" stroke="#5e3016" stroke-width="0.9"/>
<line x1="382.43" y1="54.64" x2="385.63" y2="54.64" stroke="#5e3016" stroke-width="0.9"/>
<line x1="382.43" y1="57.24" x2="385.63" y2="57.24" stroke="#5e3016" stroke-width="0.9"/>
<circle cx="384.03" cy="55.94" r="1.90" fill="#5e3016"/>
<line x1="399.51" y1="46.42" x2="399.51" y2="49.02" stroke="#5e3016" stroke-width="0.9"/>
<line x1="397.91" y1="46.42" x2="401.11" y2="46.42" stroke="#5e3016" stroke-width="0.9"/>
<line x1="397.91" y1="49.02" x2="401.11" y2="49.02" stroke="#5e3016" stroke-width="0.9"/>
<circle cx="399.51" cy="47.72" r="1.90" fill="#5e3016"/>
<line x1="415.00" y1="31.49" x2="415.00" y2="39.28" stroke="#5e3016" stroke-width="0.9"/>
<line x1="413.39" y1="31.49" x2="416.60" y2="31.49" stroke="#5e3016" stroke-width="0.9"/>
<line x1="413.39" y1="39.28" x2="416.60" y2="39.28" stroke="#5e3016" stroke-width="0.9"/>
<circle cx="415.00" cy="35.39" r="1.90" fill="#5e3016"/>
<line x1="430.48" y1="45.12" x2="430.48" y2="47.72" stroke="#5e3016" stroke-width="0.9"/>
<line x1="428.88" y1="45.12" x2="432.08" y2="45.12" stroke="#5e3016" stroke-width="0.9"/>
<line x1="428.88" y1="47.72" x2="432.08" y2="47.72" stroke="#5e3016" stroke-width="0.9"/>
<circle cx="430.48" cy="46.42" r="1.90" fill="#5e3016"/>
<line x1="306.60" y1="59.27" x2="306.60" y2="61.87" stroke="#938fbc" stroke-width="0.9"/>
<line x1="305.00" y1="59.27" x2="308.20" y2="59.27" stroke="#938fbc" stroke-width="0.9"/>
<line x1="305.00" y1="61.87" x2="308.20" y2="61.87" stroke="#938fbc" stroke-width="0.9"/>
<circle cx="306.60" cy="60.57" r="1.90" fill="#938fbc"/>
<line x1="322.09" y1="57.01" x2="322.09" y2="59.60" stroke="#938fbc" stroke-width="0.9"/>
<line x1="320.49" y1="57.01" x2="323.69" y2="57.01" stroke="#938fbc" stroke-width="0.9"/>
<line x1="320.49" y1="59.60" x2="323.69" y2="59.60" stroke="#938fbc" stroke-width="0.9"/>
<circle cx="322.09" cy="58.30" r="1.90" fill="#938fbc"/>
<line x1="337.57" y1="58.00" x2="337.57" y2="60.60" stroke="#938fbc" stroke-width="0.9"/>
<line x1="335.97" y1="58.00" x2="339.17" y2="58.00" stroke="#938fbc" stroke-width="0.9"/>
<line x1="335.97" y1="60.60" x2="339.17" y2="60.60" stroke="#938fbc" stroke-width="0.9"/>
<circle cx="337.57" cy="59.30" r="1.90" fill="#938fbc"/>
<line x1="353.06" y1="58.17" x2="353.06" y2="60.76" stroke="#938fbc" stroke-width="0.9"/>
<line x1="351.45" y1="58.17" x2="354.66" y2="58.17" stroke="#938fbc" stroke-width="0.9"/>
<line x1="351.45" y1="60.76" x2="354.66" y2="60.76" stroke="#938fbc" stroke-width="0.9"/>
<circle cx="353.06" cy="59.47" r="1.90" fill="#938fbc"/>
<line x1="368.54" y1="58.19" x2="368.54" y2="60.79" stroke="#938fbc" stroke-width="0.9"/>
<line x1="366.94" y1="58.19" x2="370.14" y2="58.19" stroke="#938fbc" stroke-width="0.9"/>
<line x1="366.94" y1="60.79" x2="370.14" y2="60.79" stroke="#938fbc" stroke-width="0.9"/>
<circle cx="368.54" cy="59.49" r="1.90" fill="#938fbc"/>
<line x1="384.03" y1="64.92" x2="384.03" y2="67.51" stroke="#938fbc" stroke-width="0.9"/>
<line x1="382.43" y1="64.92" x2="385.63" y2="64.92" stroke="#938fbc" stroke-width="0.9"/>
<line x1="382.43" y1="67.51" x2="385.63" y2="67.51" stroke="#938fbc" stroke-width="0.9"/>
<circle cx="384.03" cy="66.22" r="1.90" fill="#938fbc"/>
<line x1="399.51" y1="81.73" x2="399.51" y2="84.32" stroke="#938fbc" stroke-width="0.9"/>
<line x1="397.91" y1="81.73" x2="401.11" y2="81.73" stroke="#938fbc" stroke-width="0.9"/>
<line x1="397.91" y1="84.32" x2="401.11" y2="84.32" stroke="#938fbc" stroke-width="0.9"/>
<circle cx="399.51" cy="83.03" r="1.90" fill="#938fbc"/>
<line x1="415.00" y1="98.99" x2="415.00" y2="101.59" stroke="#938fbc" stroke-width="0.9"/>
<line x1="413.39" y1="98.99" x2="416.60" y2="98.99" stroke="#938fbc" stroke-width="0.9"/>
<line x1="413.39" y1="101.59" x2="416.60" y2="101.59" stroke="#938fbc" stroke-width="0.9"/>
<circle cx="415.00" cy="100.29" r="1.90" fill="#938fbc"/>
<line x1="430.48" y1="100.94" x2="430.48" y2="103.53" stroke="#938fbc" stroke-width="0.9"/>
<line x1="428.88" y1="100.94" x2="432.08" y2="100.94" stroke="#938fbc" stroke-width="0.9"/>
<line x1="428.88" y1="103.53" x2="432.08" y2="103.53" stroke="#938fbc" stroke-width="0.9"/>
<circle cx="430.48" cy="102.24" r="1.90" fill="#938fbc"/>
<line x1="306.60" y1="60.70" x2="306.60" y2="63.30" stroke="#3a3c48" stroke-width="0.9"/>
<line x1="305.00" y1="60.70" x2="308.20" y2="60.70" stroke="#3a3c48" stroke-width="0.9"/>
<line x1="305.00" y1="63.30" x2="308.20" y2="63.30" stroke="#3a3c48" stroke-width="0.9"/>
<circle cx="306.60" cy="62.00" r="1.90" fill="#3a3c48"/>
<line x1="322.09" y1="61.68" x2="322.09" y2="64.27" stroke="#3a3c48" stroke-width="0.9"/>
<line x1="320.49" y1="61.68" x2="323.69" y2="61.68" stroke="#3a3c48" stroke-width="0.9"/>
<line x1="320.49" y1="64.27" x2="323.69" y2="64.27" stroke="#3a3c48" stroke-width="0.9"/>
<circle cx="322.09" cy="62.98" r="1.90" fill="#3a3c48"/>
<line x1="337.57" y1="61.73" x2="337.57" y2="64.32" stroke="#3a3c48" stroke-width="0.9"/>
<line x1="335.97" y1="61.73" x2="339.17" y2="61.73" stroke="#3a3c48" stroke-width="0.9"/>
<line x1="335.97" y1="64.32" x2="339.17" y2="64.32" stroke="#3a3c48" stroke-width="0.9"/>
<circle cx="337.57" cy="63.02" r="1.90" fill="#3a3c48"/>
<line x1="353.06" y1="61.23" x2="353.06" y2="63.83" stroke="#3a3c48" stroke-width="0.9"/>
<line x1="351.45" y1="61.23" x2="354.66" y2="61.23" stroke="#3a3c48" stroke-width="0.9"/>
<line x1="351.45" y1="63.83" x2="354.66" y2="63.83" stroke="#3a3c48" stroke-width="0.9"/>
<circle cx="353.06" cy="62.53" r="1.90" fill="#3a3c48"/>
<line x1="368.54" y1="67.24" x2="368.54" y2="69.83" stroke="#3a3c48" stroke-width="0.9"/>
<line x1="366.94" y1="67.24" x2="370.14" y2="67.24" stroke="#3a3c48" stroke-width="0.9"/>
<line x1="366.94" y1="69.83" x2="370.14" y2="69.83" stroke="#3a3c48" stroke-width="0.9"/>
<circle cx="368.54" cy="68.53" r="1.90" fill="#3a3c48"/>
<line x1="384.03" y1="89.90" x2="384.03" y2="92.50" stroke="#3a3c48" stroke-width="0.9"/>
<line x1="382.43" y1="89.90" x2="385.63" y2="89.90" stroke="#3a3c48" stroke-width="0.9"/>
<line x1="382.43" y1="92.50" x2="385.63" y2="92.50" stroke="#3a3c48" stroke-width="0.9"/>
<circle cx="384.03" cy="91.20" r="1.90" fill="#3a3c48"/>
<line x1="399.51" y1="117.66" x2="399.51" y2="120.26" stroke="#3a3c48" stroke-width="0.9"/>
<line x1="397.91" y1="117.66" x2="401.11" y2="117.66" stroke="#3a3c48" stroke-width="0.9"/>
<line x1="397.91" y1="120.26" x2="401.11" y2="120.26" stroke="#3a3c48" stroke-width="0.9"/>
<circle cx="399.51" cy="118.96" r="1.90" fill="#3a3c48"/>
<line x1="415.00" y1="121.66" x2="415.00" y2="124.25" stroke="#3a3c48" stroke-width="0.9"/>
<line x1="413.39" y1="121.66" x2="416.60" y2="121.66" stroke="#3a3c48" stroke-width="0.9"/>
<line x1="413.39" y1="124.25" x2="416.60" y2="124.25" stroke="#3a3c48" stroke-width="0.9"/>
<circle cx="415.00" cy="122.96" r="1.90" fill="#3a3c48"/>
<line x1="430.48" y1="124.23" x2="430.48" y2="126.83" stroke="#3a3c48" stroke-width="0.9"/>
<line x1="428.88" y1="124.23" x2="432.08" y2="124.23" stroke="#3a3c48" stroke-width="0.9"/>
<line x1="428.88" y1="126.83" x2="432.08" y2="126.83" stroke="#3a3c48" stroke-width="0.9"/>
<circle cx="430.48" cy="125.53" r="1.90" fill="#3a3c48"/>
<line x1="306.60" y1="61.67" x2="306.60" y2="64.27" stroke="#175a3e" stroke-width="0.9"/>
<line x1="305.00" y1="61.67" x2="308.20" y2="61.67" stroke="#175a3e" stroke-width="0.9"/>
<line x1="305.00" y1="64.27" x2="308.20" y2="64.27" stroke="#175a3e" stroke-width="0.9"/>
<circle cx="306.60" cy="62.97" r="1.90" fill="#175a3e"/>
<line x1="322.09" y1="61.68" x2="322.09" y2="64.27" stroke="#175a3e" stroke-width="0.9"/>
<line x1="320.49" y1="61.68" x2="323.69" y2="61.68" stroke="#175a3e" stroke-width="0.9"/>
<line x1="320.49" y1="64.27" x2="323.69" y2="64.27" stroke="#175a3e" stroke-width="0.9"/>
<circle cx="322.09" cy="62.97" r="1.90" fill="#175a3e"/>
<line x1="337.57" y1="60.73" x2="337.57" y2="63.33" stroke="#175a3e" stroke-width="0.9"/>
<line x1="335.97" y1="60.73" x2="339.17" y2="60.73" stroke="#175a3e" stroke-width="0.9"/>
<line x1="335.97" y1="63.33" x2="339.17" y2="63.33" stroke="#175a3e" stroke-width="0.9"/>
<circle cx="337.57" cy="62.03" r="1.90" fill="#175a3e"/>
<line x1="353.06" y1="62.61" x2="353.06" y2="65.21" stroke="#175a3e" stroke-width="0.9"/>
<line x1="351.45" y1="62.61" x2="354.66" y2="62.61" stroke="#175a3e" stroke-width="0.9"/>
<line x1="351.45" y1="65.21" x2="354.66" y2="65.21" stroke="#175a3e" stroke-width="0.9"/>
<circle cx="353.06" cy="63.91" r="1.90" fill="#175a3e"/>
<line x1="368.54" y1="63.18" x2="368.54" y2="65.77" stroke="#175a3e" stroke-width="0.9"/>
<line x1="366.94" y1="63.18" x2="370.14" y2="63.18" stroke="#175a3e" stroke-width="0.9"/>
<line x1="366.94" y1="65.77" x2="370.14" y2="65.77" stroke="#175a3e" stroke-width="0.9"/>
<circle cx="368.54" cy="64.47" r="1.90" fill="#175a3e"/>
<line x1="384.03" y1="84.06" x2="384.03" y2="86.66" stroke="#175a3e" stroke-width="0.9"/>
<line x1="382.43" y1="84.06" x2="385.63" y2="84.06" stroke="#175a3e" stroke-width="0.9"/>
<line x1="382.43" y1="86.66" x2="385.63" y2="86.66" stroke="#175a3e" stroke-width="0.9"/>
<circle cx="384.03" cy="85.36" r="1.90" fill="#175a3e"/>
<line x1="399.51" y1="111.76" x2="399.51" y2="114.35" stroke="#175a3e" stroke-width="0.9"/>
<line x1="397.91" y1="111.76" x2="401.11" y2="111.76" stroke="#175a3e" stroke-width="0.9"/>
<line x1="397.91" y1="114.35" x2="401.11" y2="114.35" stroke="#175a3e" stroke-width="0.9"/>
<circle cx="399.51" cy="113.05" r="1.90" fill="#175a3e"/>
<line x1="415.00" y1="123.05" x2="415.00" y2="125.64" stroke="#175a3e" stroke-width="0.9"/>
<line x1="413.39" y1="123.05" x2="416.60" y2="123.05" stroke="#175a3e" stroke-width="0.9"/>
<line x1="413.39" y1="125.64" x2="416.60" y2="125.64" stroke="#175a3e" stroke-width="0.9"/>
<circle cx="415.00" cy="124.34" r="1.90" fill="#175a3e"/>
<line x1="430.48" y1="121.90" x2="430.48" y2="124.50" stroke="#175a3e" stroke-width="0.9"/>
<line x1="428.88" y1="121.90" x2="432.08" y2="121.90" stroke="#175a3e" stroke-width="0.9"/>
<line x1="428.88" y1="124.50" x2="432.08" y2="124.50" stroke="#175a3e" stroke-width="0.9"/>
<circle cx="430.48" cy="123.20" r="1.90" fill="#175a3e"/>
<line x1="306.60" y1="57.97" x2="306.60" y2="60.57" stroke="#bc1230" stroke-width="0.9"/>
<line x1="305.00" y1="57.97" x2="308.20" y2="57.97" stroke="#bc1230" stroke-width="0.9"/>
<line x1="305.00" y1="60.57" x2="308.20" y2="60.57" stroke="#bc1230" stroke-width="0.9"/>
<circle cx="306.60" cy="59.27" r="1.90" fill="#bc1230"/>
<line x1="322.09" y1="57.00" x2="322.09" y2="59.60" stroke="#bc1230" stroke-width="0.9"/>
<line x1="320.49" y1="57.00" x2="323.69" y2="57.00" stroke="#bc1230" stroke-width="0.9"/>
<line x1="320.49" y1="59.60" x2="323.69" y2="59.60" stroke="#bc1230" stroke-width="0.9"/>
<circle cx="322.09" cy="58.30" r="1.90" fill="#bc1230"/>
<line x1="337.57" y1="58.62" x2="337.57" y2="61.22" stroke="#bc1230" stroke-width="0.9"/>
<line x1="335.97" y1="58.62" x2="339.17" y2="58.62" stroke="#bc1230" stroke-width="0.9"/>
<line x1="335.97" y1="61.22" x2="339.17" y2="61.22" stroke="#bc1230" stroke-width="0.9"/>
<circle cx="337.57" cy="59.92" r="1.90" fill="#bc1230"/>
<line x1="353.06" y1="56.69" x2="353.06" y2="59.29" stroke="#bc1230" stroke-width="0.9"/>
<line x1="351.45" y1="56.69" x2="354.66" y2="56.69" stroke="#bc1230" stroke-width="0.9"/>
<line x1="351.45" y1="59.29" x2="354.66" y2="59.29" stroke="#bc1230" stroke-width="0.9"/>
<circle cx="353.06" cy="57.99" r="1.90" fill="#bc1230"/>
<line x1="368.54" y1="59.21" x2="368.54" y2="61.81" stroke="#bc1230" stroke-width="0.9"/>
<line x1="366.94" y1="59.21" x2="370.14" y2="59.21" stroke="#bc1230" stroke-width="0.9"/>
<line x1="366.94" y1="61.81" x2="370.14" y2="61.81" stroke="#bc1230" stroke-width="0.9"/>
<circle cx="368.54" cy="60.51" r="1.90" fill="#bc1230"/>
<line x1="384.03" y1="61.35" x2="384.03" y2="63.94" stroke="#bc1230" stroke-width="0.9"/>
<line x1="382.43" y1="61.35" x2="385.63" y2="61.35" stroke="#bc1230" stroke-width="0.9"/>
<line x1="382.43" y1="63.94" x2="385.63" y2="63.94" stroke="#bc1230" stroke-width="0.9"/>
<circle cx="384.03" cy="62.65" r="1.90" fill="#bc1230"/>
<line x1="399.51" y1="98.34" x2="399.51" y2="100.94" stroke="#bc1230" stroke-width="0.9"/>
<line x1="397.91" y1="98.34" x2="401.11" y2="98.34" stroke="#bc1230" stroke-width="0.9"/>
<line x1="397.91" y1="100.94" x2="401.11" y2="100.94" stroke="#bc1230" stroke-width="0.9"/>
<circle cx="399.51" cy="99.64" r="1.90" fill="#bc1230"/>
<line x1="415.00" y1="120.70" x2="415.00" y2="123.30" stroke="#bc1230" stroke-width="0.9"/>
<line x1="413.39" y1="120.70" x2="416.60" y2="120.70" stroke="#bc1230" stroke-width="0.9"/>
<line x1="413.39" y1="123.30" x2="416.60" y2="123.30" stroke="#bc1230" stroke-width="0.9"/>
<circle cx="415.00" cy="122.00" r="1.90" fill="#bc1230"/>
<line x1="430.48" y1="123.55" x2="430.48" y2="126.15" stroke="#bc1230" stroke-width="0.9"/>
<line x1="428.88" y1="123.55" x2="432.08" y2="123.55" stroke="#bc1230" stroke-width="0.9"/>
<line x1="428.88" y1="126.15" x2="432.08" y2="126.15" stroke="#bc1230" stroke-width="0.9"/>
<circle cx="430.48" cy="124.85" r="1.90" fill="#bc1230"/>
<line x1="306.60" y1="54.02" x2="306.60" y2="56.61" stroke="#163a55" stroke-width="0.9"/>
<line x1="305.00" y1="54.02" x2="308.20" y2="54.02" stroke="#163a55" stroke-width="0.9"/>
<line x1="305.00" y1="56.61" x2="308.20" y2="56.61" stroke="#163a55" stroke-width="0.9"/>
<circle cx="306.60" cy="55.31" r="1.90" fill="#163a55"/>
<line x1="322.09" y1="55.64" x2="322.09" y2="58.23" stroke="#163a55" stroke-width="0.9"/>
<line x1="320.49" y1="55.64" x2="323.69" y2="55.64" stroke="#163a55" stroke-width="0.9"/>
<line x1="320.49" y1="58.23" x2="323.69" y2="58.23" stroke="#163a55" stroke-width="0.9"/>
<circle cx="322.09" cy="56.94" r="1.90" fill="#163a55"/>
<line x1="337.57" y1="53.69" x2="337.57" y2="56.29" stroke="#163a55" stroke-width="0.9"/>
<line x1="335.97" y1="53.69" x2="339.17" y2="53.69" stroke="#163a55" stroke-width="0.9"/>
<line x1="335.97" y1="56.29" x2="339.17" y2="56.29" stroke="#163a55" stroke-width="0.9"/>
<circle cx="337.57" cy="54.99" r="1.90" fill="#163a55"/>
<line x1="353.06" y1="55.96" x2="353.06" y2="58.56" stroke="#163a55" stroke-width="0.9"/>
<line x1="351.45" y1="55.96" x2="354.66" y2="55.96" stroke="#163a55" stroke-width="0.9"/>
<line x1="351.45" y1="58.56" x2="354.66" y2="58.56" stroke="#163a55" stroke-width="0.9"/>
<circle cx="353.06" cy="57.26" r="1.90" fill="#163a55"/>
<line x1="368.54" y1="52.26" x2="368.54" y2="54.86" stroke="#163a55" stroke-width="0.9"/>
<line x1="366.94" y1="52.26" x2="370.14" y2="52.26" stroke="#163a55" stroke-width="0.9"/>
<line x1="366.94" y1="54.86" x2="370.14" y2="54.86" stroke="#163a55" stroke-width="0.9"/>
<circle cx="368.54" cy="53.56" r="1.90" fill="#163a55"/>
<line x1="384.03" y1="56.90" x2="384.03" y2="59.49" stroke="#163a55" stroke-width="0.9"/>
<line x1="382.43" y1="56.90" x2="385.63" y2="56.90" stroke="#163a55" stroke-width="0.9"/>
<line x1="382.43" y1="59.49" x2="385.63" y2="59.49" stroke="#163a55" stroke-width="0.9"/>
<circle cx="384.03" cy="58.19" r="1.90" fill="#163a55"/>
<line x1="399.51" y1="70.43" x2="399.51" y2="73.03" stroke="#163a55" stroke-width="0.9"/>
<line x1="397.91" y1="70.43" x2="401.11" y2="70.43" stroke="#163a55" stroke-width="0.9"/>
<line x1="397.91" y1="73.03" x2="401.11" y2="73.03" stroke="#163a55" stroke-width="0.9"/>
<circle cx="399.51" cy="71.73" r="1.90" fill="#163a55"/>
<line x1="415.00" y1="115.86" x2="415.00" y2="118.46" stroke="#163a55" stroke-width="0.9"/>
<line x1="413.39" y1="115.86" x2="416.60" y2="115.86" stroke="#163a55" stroke-width="0.9"/>
<line x1="413.39" y1="118.46" x2="416.60" y2="118.46" stroke="#163a55" stroke-width="0.9"/>
<circle cx="415.00" cy="117.16" r="1.90" fill="#163a55"/>
<line x1="430.48" y1="121.06" x2="430.48" y2="123.65" stroke="#163a55" stroke-width="0.9"/>
<line x1="428.88" y1="121.06" x2="432.08" y2="121.06" stroke="#163a55" stroke-width="0.9"/>
<line x1="428.88" y1="123.65" x2="432.08" y2="123.65" stroke="#163a55" stroke-width="0.9"/>
<circle cx="430.48" cy="122.35" r="1.90" fill="#163a55"/>
<polyline points="49.50,197.75 50.53,197.75 51.56,197.75 52.59,197.75 53.63,197.75 54.66,197.75 55.69,197.75 56.72,197.75 57.75,197.75 58.79,197.75 59.82,197.75 60.85,197.75 61.88,197.75 62.91,197.75 63.94,197.75 64.97,197.75 66.01,197.75 67.04,197.75 68.07,197.75 69.10,197.75 70.13,197.75 71.16,197.75 72.20,197.75 73.23,197.75 74.26,197.75 75.29,197.75 76.32,197.75 77.36,197.75 78.39,197.75 79.42,197.75 80.45,197.75 81.48,197.75 82.51,197.75 83.54,197.75 84.58,197.75 85.61,197.75 86.64,197.75 87.67,197.75 88.70,197.75 89.73,197.75 90.77,197.75 91.80,197.75 92.83,197.75 93.86,197.75 94.89,197.75 95.92,197.75 96.96,197.75 97.99,197.75 99.02,197.75 100.05,197.75 101.08,197.75 102.12,197.75 103.15,197.75 104.18,197.75 105.21,197.75 106.24,197.75 107.27,197.75 108.31,197.75 109.34,197.75 110.37,197.75 111.40,197.75 112.43,197.75 113.46,197.75 114.49,197.75 115.53,197.75 116.56,197.75 117.59,197.75 118.62,197.75 119.65,197.75 120.68,197.75 121.72,197.75 122.75,197.75 123.78,197.75 124.81,197.75 125.84,197.75 126.88,197.75 127.91,197.75 128.94,197.75 129.97,197.75 131.00,197.75 132.03,197.75 133.06,197.75 134.10,197.75 135.13,197.75 136.16,197.75 137.19,197.75 138.22,197.75 139.25,197.75 140.29,197.75 141.32,197.75 142.35,197.75 143.38,197.75 144.41,197.75 145.44,197.75 146.48,197.75 147.51,197.75 148.54,197.75 149.57,197.75 150.60,197.75 151.63,197.75 152.67,197.75 153.70,197.75 154.73,197.75 155.76,197.75 156.79,197.75 157.82,197.75 158.86,197.75 159.89,197.75 160.92,197.75 161.95,197.75 162.98,197.75 164.01,197.75 165.05,197.75 166.08,197.75 167.11,197.75 168.14,197.75 169.17,197.75 170.21,197.75 171.24,197.75 172.27,197.75 173.30,197.75" fill="none" stroke="#a8a5c9" stroke-width="1.1"/>
<polyline points="49.50,204.75 50.53,204.75 51.56,204.75 52.59,204.75 53.63,204.75 54.66,204.75 55.69,204.75 56.72,204.75 57.75,204.75 58.79,204.75 59.82,204.75 60.85,204.75 61.88,204.75 62.91,204.75 63.94,204.75 64.97,204.75 66.01,204.75 67.04,204.75 68.07,204.75 69.10,204.75 70.13,204.75 71.16,204.75 72.20,204.75 73.23,204.75 74.26,204.75 75.29,204.75 76.32,204.75 77.36,204.75 78.39,204.75 79.42,204.75 80.45,204.75 81.48,204.75 82.51,204.75 83.54,204.75 84.58,204.75 85.61,204.75 86.64,204.75 87.67,204.75 88.70,204.75 89.73,204.75 90.77,204.75 91.80,204.75 92.83,204.75 93.86,204.75 94.89,204.75 95.92,204.75 96.96,204.75 97.99,204.75 99.02,204.75 100.05,204.75 101.08,204.75 102.12,204.75 103.15,204.75 104.18,204.75 105.21,204.75 106.24,204.75 107.27,204.75 108.31,204.75 109.34,204.75 110.37,204.75 111.40,204.75 112.43,204.75 113.46,204.75 114.49,204.75 115.53,204.75 116.56,204.75 117.59,204.75 118.62,204.75 119.65,204.75 120.68,204.75 121.72,204.75 122.75,204.75 123.78,204.75 124.81,204.75 125.84,204.75 126.88,204.75 127.91,204.75 128.94,204.75 129.97,204.75 131.00,204.75 132.03,204.75 133.06,204.75 134.10,204.75 135.13,204.75 136.16,204.75 137.19,204.75 138.22,204.75 139.25,204.75 140.29,204.75 141.32,204.75 142.35,204.75 143.38,204.75 144.41,204.75 145.44,204.75 146.48,204.75 147.51,204.75 148.54,204.75 149.57,204.75 150.60,204.76 151.63,204.77 152.67,204.78 153.70,204.80 154.73,204.83 155.76,204.88 156.79,204.96 157.82,205.09 158.86,205.28 159.89,205.58 160.92,206.04 161.95,206.72 162.98,207.72 164.01,209.11 165.05,210.94 166.08,213.16 167.11,215.62 168.14,218.09 169.17,220.31 170.21,222.13 171.24,223.53 172.27,224.52 173.30,225.21" fill="none" stroke="#cfcfcf" stroke-width="1.1"/>
<polyline points="49.50,204.75 50.53,204.75 51.56,204.75 52.59,204.75 53.63,204.75 54.66,204.75 55.69,204.75 56.72,204.75 57.75,204.75 58.79,204.75 59.82,204.75 60.85,204.75 61.88,204.75 62.91,204.75 63.94,204.75 64.97,204.75 66.01,204.75 67.04,204.75 68.07,204.75 69.10,204.75 70.13,204.75 71.16,204.75 72.20,204.75 73.23,204.75 74.26,204.75 75.29,204.75 76.32,204.75 77.36,204.75 78.39,204.75 79.42,204.75 80.45,204.75 81.48,204.75 82.51,204.75 83.54,204.75 84.58,204.75 85.61,204.75 86.64,204.75 87.67,204.75 88.70,204.75 89.73,204.75 90.77,204.75 91.80,204.75 92.83,204.75 93.86,204.75 94.89,204.75 95.92,204.75 96.96,204.75 97.99,204.75 99.02,204.75 100.05,204.75 101.08,204.75 102.12,204.75 103.15,204.75 104.18,204.75 105.21,204.75 106.24,204.75 107.27,204.75 108.31,204.75 109.34,204.75 110.37,204.75 111.40,204.75 112.43,204.75 113.46,204.75 114.49,204.75 115.53,204.75 116.56,204.75 117.59,204.75 118.62,204.75 119.65,204.75 120.68,204.75 121.72,204.75 122.75,204.75 123.78,204.75 124.81,204.75 125.84,204.75 126.88,204.75 127.91,204.75 128.94,204.75 129.97,204.75 131.00,204.75 132.03,204.75 133.06,204.75 134.10,204.75 135.13,204.75 136.16,204.75 137.19,204.75 138.22,204.75 139.25,204.75 140.29,204.75 141.32,204.75 142.35,204.75 143.38,204.75 144.41,204.75 145.44,204.75 146.48,204.75 147.51,204.75 148.54,204.75 149.57,204.75 150.60,204.75 151.63,204.76 152.67,204.77 153.70,204.78 154.73,204.80 155.76,204.83 156.79,204.88 157.82,204.96 158.86,205.09 159.89,205.28 160.92,205.58 161.95,206.02 162.98,206.66 164.01,207.55 165.05,208.73 166.08,210.16 167.11,211.74 168.14,213.32 169.17,214.75 170.21,215.92 171.24,216.82 172.27,217.46 173.30,217.90" fill="none" stroke="#62b2df" stroke-width="1.1"/>
<polyline points="49.50,204.75 50.53,204.75 51.56,204.75 52.59,204.75 53.63,204.75 54.66,204.75 55.69,204.75 56.72,204.75 57.75,204.75 58.79,204.75 59.82,204.75 60.85,204.75 61.88,204.75 62.91,204.75 63.94,204.75 64.97,204.75 66.01,204.75 67.04,204.75 68.07,204.75 69.10,204.75 70.13,204.75 71.16,204.75 72.20,204.75 73.23,204.75 74.26,204.75 75.29,204.75 76.32,204.75 77.36,204.75 78.39,204.75 79.42,204.75 80.45,204.75 81.48,204.75 82.51,204.75 83.54,204.75 84.58,204.75 85.61,204.75 86.64,204.75 87.67,204.75 88.70,204.75 89.73,204.75 90.77,204.75 91.80,204.75 92.83,204.75 93.86,204.75 94.89,204.75 95.92,204.75 96.96,204.75 97.99,204.75 99.02,204.75 100.05,204.75 101.08,204.75 102.12,204.75 103.15,204.75 104.18,204.75 105.21,204.75 106.24,204.75 107.27,204.75 108.31,204.75 109.34,204.75 110.37,204.75 111.40,204.75 112.43,204.75 113.46,204.75 114.49,204.75 115.53,204.75 116.56,204.75 117.59,204.75 118.62,204.75 119.65,204.75 120.68,204.75 121.72,204.75 122.75,204.75 123.78,204.75 124.81,204.75 125.84,204.75 126.88,204.75 127.91,204.75 128.94,204.75 129.97,204.75 131.00,204.75 132.03,204.75 133.06,204.75 134.10,204.75 135.13,204.75 136.16,204.75 137.19,204.75 138.22,204.75 139.25,204.75 140.29,204.75 141.32,204.75 142.35,204.75 143.38,204.75 144.41,204.75 145.44,204.75 146.48,204.75 147.51,204.75 148.54,204.75 149.57,204.75 150.60,204.75 151.63,204.76 152.67,204.76 153.70,204.77 154.73,204.78 155.76,204.80 156.79,204.84 157.82,204.89 158.86,204.97 159.89,205.10 160.92,205.30 161.95,205.59 162.98,206.02 164.01,206.62 165.05,207.40 166.08,208.35 167.11,209.41 168.14,210.46 169.17,211.42 170.21,212.20 171.24,212.79 172.27,213.22 173.30,213.52" fill="none" stroke="#61af6c" stroke-width="1.1"/>
<polyline points="49.50,204.75 50.53,204.75 51.56,204.75 52.59,204.75 53.63,204.75 54.66,204.75 55.69,204.75 56.72,204.75 57.75,204.75 58.79,204.75 59.82,204.75 60.85,204.75 61.88,204.75 62.91,204.75 63.94,204.75 64.97,204.75 66.01,204.75 67.04,204.75 68.07,204.75 69.10,204.75 70.13,204.75 71.16,204.75 72.20,204.75 73.23,204.75 74.26,204.75 75.29,204.75 76.32,204.75 77.36,204.75 78.39,204.75 79.42,204.75 80.45,204.75 81.48,204.75 82.51,204.75 83.54,204.75 84.58,204.75 85.61,204.75 86.64,204.75 87.67,204.75 88.70,204.75 89.73,204.75 90.77,204.75 91.80,204.75 92.83,204.75 93.86,204.75 94.89,204.75 95.92,204.75 96.96,204.75 97.99,204.75 99.02,204.75 100.05,204.75 101.08,204.75 102.12,204.75 103.15,204.75 104.18,204.75 105.21,204.75 106.24,204.75 107.27,204.75 108.31,204.75 109.34,204.75 110.37,204.75 111.40,204.75 112.43,204.75 113.46,204.75 114.49,204.75 115.53,204.75 116.56,204.75 117.59,204.75 118.62,204.75 119.65,204.75 120.68,204.75 121.72,204.75 122.75,204.75 123.78,204.75 124.81,204.75 125.84,204.75 126.88,204.75 127.91,204.75 128.94,204.75 129.97,204.75 131.00,204.75 132.03,204.75 133.06,204.75 134.10,204.75 135.13,204.75 136.16,204.75 137.19,204.75 138.22,204.75 139.25,204.75 140.29,204.75 141.32,204.75 142.35,204.75 143.38,204.75 144.41,204.75 145.44,204.75 146.48,204.75 147.51,204.75 148.54,204.75 149.57,204.75 150.60,204.75 151.63,204.75 152.67,204.75 153.70,204.75 154.73,204.75 155.76,204.75 156.79,204.75 157.82,204.75 158.86,204.75 159.89,204.75 160.92,204.75 161.95,204.75 162.98,204.75 164.01,204.75 165.05,204.75 166.08,204.75 167.11,204.75 168.14,204.75 169.17,204.75 170.21,204.75 171.24,204.75 172.27,204.75 173.30,204.75" fill="none" stroke="#7e5944" stroke-width="1.1"/>
<polyline points="49.50,206.22 50.53,206.21 51.56,206.20 52.59,206.18 53.63,206.17 54.66,206.16 55.69,206.14 56.72,206.12 57.75,206.10 58.79,206.08 59.82,206.06 60.85,206.03 61.88,206.00 62.91,205.97 63.94,205.93 64.97,205.90 66.01,205.85 67.04,205.80 68.07,205.75 69.10,205.69 70.13,205.63 71.16,205.56 72.20,205.49 73.23,205.41 74.26,205.32 75.29,205.22 76.32,205.12 77.36,205.01 78.39,204.89 79.42,204.76 80.45,204.62 81.48,204.48 82.51,204.32 83.54,204.16 84.58,203.99 85.61,203.81 86.64,203.63 87.67,203.43 88.70,203.24 89.73,203.04 90.77,202.83 91.80,202.62 92.83,202.41 93.86,202.21 94.89,202.00 95.92,201.79 96.96,201.59 97.99,201.40 99.02,201.20 100.05,201.02 101.08,200.84 102.12,200.67 103.15,200.51 104.18,200.35 105.21,200.21 106.24,200.07 107.27,199.94 108.31,199.82 109.34,199.71 110.37,199.61 111.40,199.51 112.43,199.42 113.46,199.34 114.49,199.27 115.53,199.20 116.56,199.14 117.59,199.08 118.62,199.03 119.65,198.98 120.68,198.93 121.72,198.90 122.75,198.86 123.78,198.83 124.81,198.80 125.84,198.77 126.88,198.75 127.91,198.73 128.94,198.71 129.97,198.69 131.00,198.67 132.03,198.66 133.06,198.65 134.10,198.63 135.13,198.62 136.16,198.61 137.19,198.61 138.22,198.60 139.25,198.59 140.29,198.59 141.32,198.58 142.35,198.57 143.38,198.57 144.41,198.57 145.44,198.56 146.48,198.56 147.51,198.56 148.54,198.55 149.57,198.55 150.60,198.55 151.63,198.55 152.67,198.55 153.70,198.54 154.73,198.54 155.76,198.54 156.79,198.54 157.82,198.54 158.86,198.54 159.89,198.54 160.92,198.54 161.95,198.54 162.98,198.54 164.01,198.53 165.05,198.53 166.08,198.53 167.11,198.53 168.14,198.53 169.17,198.53 170.21,198.53 171.24,198.53 172.27,198.53 173.30,198.53" fill="none" stroke="#ebac56" stroke-width="1.1"/>
<polyline points="49.50,204.75 50.53,204.75 51.56,204.75 52.59,204.75 53.63,204.75 54.66,204.75 55.69,204.75 56.72,204.75 57.75,204.75 58.79,204.75 59.82,204.75 60.85,204.75 61.88,204.75 62.91,204.75 63.94,204.75 64.97,204.75 66.01,204.75 67.04,204.75 68.07,204.75 69.10,204.75 70.13,204.75 71.16,204.75 72.20,204.75 73.23,204.75 74.26,204.75 75.29,204.75 76.32,204.75 77.36,204.75 78.39,204.75 79.42,204.75 80.45,204.75 81.48,204.75 82.51,204.75 83.54,204.75 84.58,204.75 85.61,204.75 86.64,204.75 87.67,204.75 88.70,204.75 89.73,204.75 90.77,204.75 91.80,204.75 92.83,204.75 93.86,204.75 94.89,204.75 95.92,204.75 96.96,204.75 97.99,204.75 99.02,204.75 100.05,204.75 101.08,204.75 102.12,204.75 103.15,204.75 104.18,204.75 105.21,204.75 106.24,204.75 107.27,204.75 108.31,204.75 109.34,204.75 110.37,204.75 111.40,204.75 112.43,204.75 113.46,204.75 114.49,204.75 115.53,204.75 116.56,204.75 117.59,204.75 118.62,204.75 119.65,204.75 120.68,204.75 121.72,204.75 122.75,204.75 123.78,204.75 124.81,204.75 125.84,204.75 126.88,204.75 127.91,204.75 128.94,204.75 129.97,204.75 131.00,204.75 132.03,204.75 133.06,204.75 134.10,204.75 135.13,204.75 136.16,204.75 137.19,204.75 138.22,204.75 139.25,204.75 140.29,204.75 141.32,204.75 142.35,204.75 143.38,204.75 144.41,204.75 145.44,204.75 146.48,204.75 147.51,204.75 148.54,204.75 149.57,204.75 150.60,204.75 151.63,204.75 152.67,204.75 153.70,204.75 154.73,204.75 155.76,204.75 156.79,204.75 157.82,204.75 158.86,204.75 159.89,204.75 160.92,204.75 161.95,204.75 162.98,204.75 164.01,204.75 165.05,204.75 166.08,204.75 167.11,204.75 168.14,204.75 169.17,204.75 170.21,204.75 171.24,204.75 172.27,204.75 173.30,204.75" fill="none" stroke="#61636c" stroke-width="1.1"/>
<polyline points="49.50,206.26 50.53,206.26 51.56,206.26 52.59,206.25 53.63,206.25 54.66,206.24 55.69,206.24 56.72,206.23 57.75,206.23 58.79,206.22 59.82,206.21 60.85,206.20 61.88,206.19 62.91,206.18 63.94,206.17 64.97,206.16 66.01,206.15 67.04,206.14 68.07,206.12 69.10,206.11 70.13,206.09 71.16,206.07 72.20,206.05 73.23,206.03 74.26,206.01 75.29,205.98 76.32,205.95 77.36,205.93 78.39,205.90 79.42,205.87 80.45,205.83 81.48,205.80 82.51,205.76 83.54,205.72 84.58,205.68 85.61,205.64 86.64,205.59 87.67,205.55 88.70,205.50 89.73,205.45 90.77,205.40 91.80,205.35 92.83,205.29 93.86,205.24 94.89,205.19 95.92,205.13 96.96,205.08 97.99,205.03 99.02,204.97 100.05,204.92 101.08,204.87 102.12,204.82 103.15,204.77 104.18,204.72 105.21,204.68 106.24,204.63 107.27,204.59 108.31,204.55 109.34,204.51 110.37,204.47 111.40,204.44 112.43,204.40 113.46,204.37 114.49,204.34 115.53,204.31 116.56,204.29 117.59,204.26 118.62,204.24 119.65,204.22 120.68,204.20 121.72,204.18 122.75,204.16 123.78,204.15 124.81,204.13 125.84,204.12 126.88,204.11 127.91,204.10 128.94,204.09 129.97,204.08 131.00,204.07 132.03,204.06 133.06,204.05 134.10,204.04 135.13,204.04 136.16,204.03 137.19,204.03 138.22,204.02 139.25,204.02 140.29,204.01 141.32,204.01 142.35,204.01 143.38,204.00 144.41,204.00 145.44,204.00 146.48,203.99 147.51,203.99 148.54,203.99 149.57,203.99 150.60,203.99 151.63,203.99 152.67,203.98 153.70,203.98 154.73,203.98 155.76,203.98 156.79,203.98 157.82,203.98 158.86,203.98 159.89,203.98 160.92,203.98 161.95,203.98 162.98,203.97 164.01,203.97 165.05,203.97 166.08,203.97 167.11,203.97 168.14,203.97 169.17,203.97 170.21,203.97 171.24,203.97 172.27,203.97 173.30,203.97" fill="none" stroke="#446177" stroke-width="1.1"/>
<polyline points="49.50,206.11 50.53,206.09 51.56,206.07 52.59,206.05 53.63,206.02 54.66,206.00 55.69,205.97 56.72,205.93 57.75,205.90 58.79,205.85 59.82,205.81 60.85,205.76 61.88,205.71 62.91,205.65 63.94,205.59 64.97,205.52 66.01,205.45 67.04,205.37 68.07,205.28 69.10,205.18 70.13,205.08 71.16,204.97 72.20,204.86 73.23,204.73 74.26,204.59 75.29,204.45 76.32,204.30 77.36,204.14 78.39,203.97 79.42,203.79 80.45,203.60 81.48,203.41 82.51,203.20 83.54,202.99 84.58,202.78 85.61,202.56 86.64,202.33 87.67,202.10 88.70,201.87 89.73,201.64 90.77,201.41 91.80,201.17 92.83,200.95 93.86,200.72 94.89,200.50 95.92,200.28 96.96,200.07 97.99,199.87 99.02,199.67 100.05,199.49 101.08,199.31 102.12,199.14 103.15,198.98 104.18,198.83 105.21,198.68 106.24,198.55 107.27,198.42 108.31,198.30 109.34,198.19 110.37,198.09 111.40,198.00 112.43,197.91 113.46,197.83 114.49,197.76 115.53,197.69 116.56,197.62 117.59,197.57 118.62,197.51 119.65,197.47 120.68,197.42 121.72,197.38 122.75,197.34 123.78,197.31 124.81,197.28 125.84,197.25 126.88,197.23 127.91,197.20 128.94,197.18 129.97,197.16 131.00,197.15 132.03,197.13 133.06,197.12 134.10,197.10 135.13,197.09 136.16,197.08 137.19,197.07 138.22,197.06 139.25,197.05 140.29,197.05 141.32,197.04 142.35,197.03 143.38,197.03 144.41,197.02 145.44,197.02 146.48,197.01 147.51,197.01 148.54,197.01 149.57,197.00 150.60,197.00 151.63,197.00 152.67,197.00 153.70,197.00 154.73,196.99 155.76,196.99 156.79,196.99 157.82,196.99 158.86,196.99 159.89,196.99 160.92,196.99 161.95,196.98 162.98,196.98 164.01,196.98 165.05,196.98 166.08,196.98 167.11,196.98 168.14,196.98 169.17,196.98 170.21,196.98 171.24,196.98 172.27,196.98 173.30,196.98" fill="none" stroke="#c94159" stroke-width="1.1"/>
<line x1="49.50" y1="195.42" x2="49.50" y2="200.08" stroke="#938fbc" stroke-width="0.9"/>
<line x1="47.90" y1="195.42" x2="51.10" y2="195.42" stroke="#938fbc" stroke-width="0.9"/>
<line x1="47.90" y1="200.08" x2="51.10" y2="200.08" stroke="#938fbc" stroke-width="0.9"/>
<rect x="47.60" y="195.85" width="3.8" height="3.8" fill="#938fbc"/>
<line x1="80.45" y1="192.31" x2="80.45" y2="196.98" stroke="#938fbc" stroke-width="0.9"/>
<line x1="78.85" y1="192.31" x2="82.05" y2="192.31" stroke="#938fbc" stroke-width="0.9"/>
<line x1="78.85" y1="196.98" x2="82.05" y2="196.98" stroke="#938fbc" stroke-width="0.9"/>
<rect x="78.55" y="192.75" width="3.8" height="3.8" fill="#938fbc"/>
<line x1="95.92" y1="196.98" x2="95.92" y2="201.64" stroke="#938fbc" stroke-width="0.9"/>
<line x1="94.33" y1="196.98" x2="97.52" y2="196.98" stroke="#938fbc" stroke-width="0.9"/>
<line x1="94.33" y1="201.64" x2="97.52" y2="201.64" stroke="#938fbc" stroke-width="0.9"/>
<rect x="94.02" y="197.41" width="3.8" height="3.8" fill="#938fbc"/>
<line x1="111.40" y1="189.98" x2="111.40" y2="194.65" stroke="#938fbc" stroke-width="0.9"/>
<line x1="109.80" y1="189.98" x2="113.00" y2="189.98" stroke="#938fbc" stroke-width="0.9"/>
<line x1="109.80" y1="194.65" x2="113.00" y2="194.65" stroke="#938fbc" stroke-width="0.9"/>
<rect x="109.50" y="190.41" width="3.8" height="3.8" fill="#938fbc"/>
<line x1="126.88" y1="189.98" x2="126.88" y2="194.65" stroke="#938fbc" stroke-width="0.9"/>
<line x1="125.28" y1="189.98" x2="128.47" y2="189.98" stroke="#938fbc" stroke-width="0.9"/>
<line x1="125.28" y1="194.65" x2="128.47" y2="194.65" stroke="#938fbc" stroke-width="0.9"/>
<rect x="124.97" y="190.41" width="3.8" height="3.8" fill="#938fbc"/>
<line x1="142.35" y1="193.87" x2="142.35" y2="198.53" stroke="#938fbc" stroke-width="0.9"/>
<line x1="140.75" y1="193.87" x2="143.95" y2="193.87" stroke="#938fbc" stroke-width="0.9"/>
<line x1="140.75" y1="198.53" x2="143.95" y2="198.53" stroke="#938fbc" stroke-width="0.9"/>
<rect x="140.45" y="194.30" width="3.8" height="3.8" fill="#938fbc"/>
<line x1="157.82" y1="198.53" x2="157.82" y2="203.19" stroke="#938fbc" stroke-width="0.9"/>
<line x1="156.22" y1="198.53" x2="159.42" y2="198.53" stroke="#938fbc" stroke-width="0.9"/>
<line x1="156.22" y1="203.19" x2="159.42" y2="203.19" stroke="#938fbc" stroke-width="0.9"/>
<rect x="155.92" y="198.96" width="3.8" height="3.8" fill="#938fbc"/>
<line x1="173.30" y1="194.65" x2="173.30" y2="199.31" stroke="#938fbc" stroke-width="0.9"/>
<line x1="171.70" y1="194.65" x2="174.90" y2="194.65" stroke="#938fbc" stroke-width="0.9"/>
<line x1="171.70" y1="199.31" x2="174.90" y2="199.31" stroke="#938fbc" stroke-width="0.9"/>
<rect x="171.40" y="195.08" width="3.8" height="3.8" fill="#938fbc"/>
<line x1="49.50" y1="200.08" x2="49.50" y2="204.75" stroke="#c4c4c4" stroke-width="0.9"/>
<line x1="47.90" y1="200.08" x2="51.10" y2="200.08" stroke="#c4c4c4" stroke-width="0.9"/>
<line x1="47.90" y1="204.75" x2="51.10" y2="204.75" stroke="#c4c4c4" stroke-width="0.9"/>
<rect x="47.60" y="200.51" width="3.8" height="3.8" fill="#c4c4c4"/>
<line x1="80.45" y1="203.97" x2="80.45" y2="208.63" stroke="#c4c4c4" stroke-width="0.9"/>
<line x1="78.85" y1="203.97" x2="82.05" y2="203.97" stroke="#c4c4c4" stroke-width="0.9"/>
<line x1="78.85" y1="208.63" x2="82.05" y2="208.63" stroke="#c4c4c4" stroke-width="0.9"/>
<rect x="78.55" y="204.40" width="3.8" height="3.8" fill="#c4c4c4"/>
<line x1="95.92" y1="199.31" x2="95.92" y2="203.97" stroke="#c4c4c4" stroke-width="0.9"/>
<line x1="94.33" y1="199.31" x2="97.52" y2="199.31" stroke="#c4c4c4" stroke-width="0.9"/>
<line x1="94.33" y1="203.97" x2="97.52" y2="203.97" stroke="#c4c4c4" stroke-width="0.9"/>
<rect x="94.02" y="199.74" width="3.8" height="3.8" fill="#c4c4c4"/>
<line x1="111.40" y1="204.75" x2="111.40" y2="209.41" stroke="#c4c4c4" stroke-width="0.9"/>
<line x1="109.80" y1="204.75" x2="113.00" y2="204.75" stroke="#c4c4c4" stroke-width="0.9"/>
<line x1="109.80" y1="209.41" x2="113.00" y2="209.41" stroke="#c4c4c4" stroke-width="0.9"/>
<rect x="109.50" y="205.18" width="3.8" height="3.8" fill="#c4c4c4"/>
<line x1="126.88" y1="200.86" x2="126.88" y2="205.52" stroke="#c4c4c4" stroke-width="0.9"/>
<line x1="125.28" y1="200.86" x2="128.47" y2="200.86" stroke="#c4c4c4" stroke-width="0.9"/>
<line x1="125.28" y1="205.52" x2="128.47" y2="205.52" stroke="#c4c4c4" stroke-width="0.9"/>
<rect x="124.97" y="201.29" width="3.8" height="3.8" fill="#c4c4c4"/>
<line x1="142.35" y1="205.52" x2="142.35" y2="210.19" stroke="#c4c4c4" stroke-width="0.9"/>
<line x1="140.75" y1="205.52" x2="143.95" y2="205.52" stroke="#c4c4c4" stroke-width="0.9"/>
<line x1="140.75" y1="210.19" x2="143.95" y2="210.19" stroke="#c4c4c4" stroke-width="0.9"/>
<rect x="140.45" y="205.95" width="3.8" height="3.8" fill="#c4c4c4"/>
<line x1="157.82" y1="201.98" x2="157.82" y2="206.64" stroke="#c4c4c4" stroke-width="0.9"/>
<line x1="156.22" y1="201.98" x2="159.42" y2="201.98" stroke="#c4c4c4" stroke-width="0.9"/>
<line x1="156.22" y1="206.64" x2="159.42" y2="206.64" stroke="#c4c4c4" stroke-width="0.9"/>
<rect x="155.92" y="202.41" width="3.8" height="3.8" fill="#c4c4c4"/>
<line x1="173.30" y1="222.10" x2="173.30" y2="228.32" stroke="#c4c4c4" stroke-width="0.9"/>
<line x1="171.70" y1="222.10" x2="174.90" y2="222.10" stroke="#c4c4c4" stroke-width="0.9"/>
<line x1="171.70" y1="228.32" x2="174.90" y2="228.32" stroke="#c4c4c4" stroke-width="0.9"/>
<rect x="171.40" y="223.31" width="3.8" height="3.8" fill="#c4c4c4"/>
<line x1="49.50" y1="203.97" x2="49.50" y2="208.63" stroke="#3b9fd8" stroke-width="0.9"/>
<line x1="47.90" y1="203.97" x2="51.10" y2="203.97" stroke="#3b9fd8" stroke-width="0.9"/>
<line x1="47.90" y1="208.63" x2="51.10" y2="208.63" stroke="#3b9fd8" stroke-width="0.9"/>
<rect x="47.60" y="204.40" width="3.8" height="3.8" fill="#3b9fd8"/>
<line x1="80.45" y1="199.31" x2="80.45" y2="203.97" stroke="#3b9fd8" stroke-width="0.9"/>
<line x1="78.85" y1="199.31" x2="82.05" y2="199.31" stroke="#3b9fd8" stroke-width="0.9"/>
<line x1="78.85" y1="203.97" x2="82.05" y2="203.97" stroke="#3b9fd8" stroke-width="0.9"/>
<rect x="78.55" y="199.74" width="3.8" height="3.8" fill="#3b9fd8"/>
<line x1="95.92" y1="204.75" x2="95.92" y2="209.41" stroke="#3b9fd8" stroke-width="0.9"/>
<line x1="94.33" y1="204.75" x2="97.52" y2="204.75" stroke="#3b9fd8" stroke-width="0.9"/>
<line x1="94.33" y1="209.41" x2="97.52" y2="209.41" stroke="#3b9fd8" stroke-width="0.9"/>
<rect x="94.02" y="205.18" width="3.8" height="3.8" fill="#3b9fd8"/>
<line x1="111.40" y1="200.86" x2="111.40" y2="205.52" stroke="#3b9fd8" stroke-width="0.9"/>
<line x1="109.80" y1="200.86" x2="113.00" y2="200.86" stroke="#3b9fd8" stroke-width="0.9"/>
<line x1="109.80" y1="205.52" x2="113.00" y2="205.52" stroke="#3b9fd8" stroke-width="0.9"/>
<rect x="109.50" y="201.29" width="3.8" height="3.8" fill="#3b9fd8"/>
<line x1="126.88" y1="205.52" x2="126.88" y2="210.19" stroke="#3b9fd8" stroke-width="0.9"/>
<line x1="125.28" y1="205.52" x2="128.47" y2="205.52" stroke="#3b9fd8" stroke-width="0.9"/>
<line x1="125.28" y1="210.19" x2="128.47" y2="210.19" stroke="#3b9fd8" stroke-width="0.9"/>
<rect x="124.97" y="205.95" width="3.8" height="3.8" fill="#3b9fd8"/>
<line x1="142.35" y1="201.64" x2="142.35" y2="206.30" stroke="#3b9fd8" stroke-width="0.9"/>
<line x1="140.75" y1="201.64" x2="143.95" y2="201.64" stroke="#3b9fd8" stroke-width="0.9"/>
<line x1="140.75" y1="206.30" x2="143.95" y2="206.30" stroke="#3b9fd8" stroke-width="0.9"/>
<rect x="140.45" y="202.07" width="3.8" height="3.8" fill="#3b9fd8"/>
<line x1="157.82" y1="202.63" x2="157.82" y2="207.30" stroke="#3b9fd8" stroke-width="0.9"/>
<line x1="156.22" y1="202.63" x2="159.42" y2="202.63" stroke="#3b9fd8" stroke-width="0.9"/>
<line x1="156.22" y1="207.30" x2="159.42" y2="207.30" stroke="#3b9fd8" stroke-width="0.9"/>
<rect x="155.92" y="203.06" width="3.8" height="3.8" fill="#3b9fd8"/>
<line x1="173.30" y1="213.24" x2="173.30" y2="217.90" stroke="#3b9fd8" stroke-width="0.9"/>
<line x1="171.70" y1="213.24" x2="174.90" y2="213.24" stroke="#3b9fd8" stroke-width="0.9"/>
<line x1="171.70" y1="217.90" x2="174.90" y2="217.90" stroke="#3b9fd8" stroke-width="0.9"/>
<rect x="171.40" y="213.67" width="3.8" height="3.8" fill="#3b9fd8"/>
<line x1="49.50" y1="199.31" x2="49.50" y2="203.97" stroke="#3a9c48" stroke-width="0.9"/>
<line x1="47.90" y1="199.31" x2="51.10" y2="199.31" stroke="#3a9c48" stroke-width="0.9"/>
<line x1="47.90" y1="203.97" x2="51.10" y2="203.97" stroke="#3a9c48" stroke-width="0.9"/>
<rect x="47.60" y="199.74" width="3.8" height="3.8" fill="#3a9c48"/>
<line x1="80.45" y1="204.75" x2="80.45" y2="209.41" stroke="#3a9c48" stroke-width="0.9"/>
<line x1="78.85" y1="204.75" x2="82.05" y2="204.75" stroke="#3a9c48" stroke-width="0.9"/>
<line x1="78.85" y1="209.41" x2="82.05" y2="209.41" stroke="#3a9c48" stroke-width="0.9"/>
<rect x="78.55" y="205.18" width="3.8" height="3.8" fill="#3a9c48"/>
<line x1="95.92" y1="200.86" x2="95.92" y2="205.52" stroke="#3a9c48" stroke-width="0.9"/>
<line x1="94.33" y1="200.86" x2="97.52" y2="200.86" stroke="#3a9c48" stroke-width="0.9"/>
<line x1="94.33" y1="205.52" x2="97.52" y2="205.52" stroke="#3a9c48" stroke-width="0.9"/>
<rect x="94.02" y="201.29" width="3.8" height="3.8" fill="#3a9c48"/>
<line x1="111.40" y1="205.52" x2="111.40" y2="210.19" stroke="#3a9c48" stroke-width="0.9"/>
<line x1="109.80" y1="205.52" x2="113.00" y2="205.52" stroke="#3a9c48" stroke-width="0.9"/>
<line x1="109.80" y1="210.19" x2="113.00" y2="210.19" stroke="#3a9c48" stroke-width="0.9"/>
<rect x="109.50" y="205.95" width="3.8" height="3.8" fill="#3a9c48"/>
<line x1="126.88" y1="201.64" x2="126.88" y2="206.30" stroke="#3a9c48" stroke-width="0.9"/>
<line x1="125.28" y1="201.64" x2="128.47" y2="201.64" stroke="#3a9c48" stroke-width="0.9"/>
<line x1="125.28" y1="206.30" x2="128.47" y2="206.30" stroke="#3a9c48" stroke-width="0.9"/>
<rect x="124.97" y="202.07" width="3.8" height="3.8" fill="#3a9c48"/>
<line x1="142.35" y1="202.42" x2="142.35" y2="207.08" stroke="#3a9c48" stroke-width="0.9"/>
<line x1="140.75" y1="202.42" x2="143.95" y2="202.42" stroke="#3a9c48" stroke-width="0.9"/>
<line x1="140.75" y1="207.08" x2="143.95" y2="207.08" stroke="#3a9c48" stroke-width="0.9"/>
<rect x="140.45" y="202.85" width="3.8" height="3.8" fill="#3a9c48"/>
<line x1="157.82" y1="200.23" x2="157.82" y2="204.89" stroke="#3a9c48" stroke-width="0.9"/>
<line x1="156.22" y1="200.23" x2="159.42" y2="200.23" stroke="#3a9c48" stroke-width="0.9"/>
<line x1="156.22" y1="204.89" x2="159.42" y2="204.89" stroke="#3a9c48" stroke-width="0.9"/>
<rect x="155.92" y="200.66" width="3.8" height="3.8" fill="#3a9c48"/>
<line x1="173.30" y1="212.74" x2="173.30" y2="217.40" stroke="#3a9c48" stroke-width="0.9"/>
<line x1="171.70" y1="212.74" x2="174.90" y2="212.74" stroke="#3a9c48" stroke-width="0.9"/>
<line x1="171.70" y1="217.40" x2="174.90" y2="217.40" stroke="#3a9c48" stroke-width="0.9"/>
<rect x="171.40" y="213.17" width="3.8" height="3.8" fill="#3a9c48"/>
<line x1="49.50" y1="204.75" x2="49.50" y2="209.41" stroke="#5e3016" stroke-width="0.9"/>
<line x1="47.90" y1="204.75" x2="51.10" y2="204.75" stroke="#5e3016" stroke-width="0.9"/>
<line x1="47.90" y1="209.41" x2="51.10" y2="209.41" stroke="#5e3016" stroke-width="0.9"/>
<rect x="47.60" y="205.18" width="3.8" height="3.8" fill="#5e3016"/>
<line x1="80.45" y1="200.86" x2="80.45" y2="205.52" stroke="#5e3016" stroke-width="0.9"/>
<line x1="78.85" y1="200.86" x2="82.05" y2="200.86" stroke="#5e3016" stroke-width="0.9"/>
<line x1="78.85" y1="205.52" x2="82.05" y2="205.52" stroke="#5e3016" stroke-width="0.9"/>
<rect x="78.55" y="201.29" width="3.8" height="3.8" fill="#5e3016"/>
<line x1="95.92" y1="205.52" x2="95.92" y2="210.18" stroke="#5e3016" stroke-width="0.9"/>
<line x1="94.33" y1="205.52" x2="97.52" y2="205.52" stroke="#5e3016" stroke-width="0.9"/>
<line x1="94.33" y1="210.18" x2="97.52" y2="210.18" stroke="#5e3016" stroke-width="0.9"/>
<rect x="94.02" y="205.95" width="3.8" height="3.8" fill="#5e3016"/>
<line x1="111.40" y1="201.64" x2="111.40" y2="206.30" stroke="#5e3016" stroke-width="0.9"/>
<line x1="109.80" y1="201.64" x2="113.00" y2="201.64" stroke="#5e3016" stroke-width="0.9"/>
<line x1="109.80" y1="206.30" x2="113.00" y2="206.30" stroke="#5e3016" stroke-width="0.9"/>
<rect x="109.50" y="202.07" width="3.8" height="3.8" fill="#5e3016"/>
<line x1="126.88" y1="202.41" x2="126.88" y2="207.08" stroke="#5e3016" stroke-width="0.9"/>
<line x1="125.28" y1="202.41" x2="128.47" y2="202.41" stroke="#5e3016" stroke-width="0.9"/>
<line x1="125.28" y1="207.08" x2="128.47" y2="207.08" stroke="#5e3016" stroke-width="0.9"/>
<rect x="124.97" y="202.85" width="3.8" height="3.8" fill="#5e3016"/>
<line x1="142.35" y1="200.08" x2="142.35" y2="204.75" stroke="#5e3016" stroke-width="0.9"/>
<line x1="140.75" y1="200.08" x2="143.95" y2="200.08" stroke="#5e3016" stroke-width="0.9"/>
<line x1="140.75" y1="204.75" x2="143.95" y2="204.75" stroke="#5e3016" stroke-width="0.9"/>
<rect x="140.45" y="200.51" width="3.8" height="3.8" fill="#5e3016"/>
<line x1="157.82" y1="203.97" x2="157.82" y2="208.63" stroke="#5e3016" stroke-width="0.9"/>
<line x1="156.22" y1="203.97" x2="159.42" y2="203.97" stroke="#5e3016" stroke-width="0.9"/>
<line x1="156.22" y1="208.63" x2="159.42" y2="208.63" stroke="#5e3016" stroke-width="0.9"/>
<rect x="155.92" y="204.40" width="3.8" height="3.8" fill="#5e3016"/>
<line x1="173.30" y1="199.31" x2="173.30" y2="203.97" stroke="#5e3016" stroke-width="0.9"/>
<line x1="171.70" y1="199.31" x2="174.90" y2="199.31" stroke="#5e3016" stroke-width="0.9"/>
<line x1="171.70" y1="203.97" x2="174.90" y2="203.97" stroke="#5e3016" stroke-width="0.9"/>
<rect x="171.40" y="199.74" width="3.8" height="3.8" fill="#5e3016"/>
<line x1="49.50" y1="202.33" x2="49.50" y2="206.99" stroke="#e6982c" stroke-width="0.9"/>
<line x1="47.90" y1="202.33" x2="51.10" y2="202.33" stroke="#e6982c" stroke-width="0.9"/>
<line x1="47.90" y1="206.99" x2="51.10" y2="206.99" stroke="#e6982c" stroke-width="0.9"/>
<rect x="47.60" y="202.76" width="3.8" height="3.8" fill="#e6982c"/>
<line x1="80.45" y1="205.40" x2="80.45" y2="210.06" stroke="#e6982c" stroke-width="0.9"/>
<line x1="78.85" y1="205.40" x2="82.05" y2="205.40" stroke="#e6982c" stroke-width="0.9"/>
<line x1="78.85" y1="210.06" x2="82.05" y2="210.06" stroke="#e6982c" stroke-width="0.9"/>
<rect x="78.55" y="205.83" width="3.8" height="3.8" fill="#e6982c"/>
<line x1="95.92" y1="198.69" x2="95.92" y2="203.35" stroke="#e6982c" stroke-width="0.9"/>
<line x1="94.33" y1="198.69" x2="97.52" y2="198.69" stroke="#e6982c" stroke-width="0.9"/>
<line x1="94.33" y1="203.35" x2="97.52" y2="203.35" stroke="#e6982c" stroke-width="0.9"/>
<rect x="94.02" y="199.12" width="3.8" height="3.8" fill="#e6982c"/>
<line x1="111.40" y1="197.18" x2="111.40" y2="201.84" stroke="#e6982c" stroke-width="0.9"/>
<line x1="109.80" y1="197.18" x2="113.00" y2="197.18" stroke="#e6982c" stroke-width="0.9"/>
<line x1="109.80" y1="201.84" x2="113.00" y2="201.84" stroke="#e6982c" stroke-width="0.9"/>
<rect x="109.50" y="197.61" width="3.8" height="3.8" fill="#e6982c"/>
<line x1="126.88" y1="194.09" x2="126.88" y2="198.75" stroke="#e6982c" stroke-width="0.9"/>
<line x1="125.28" y1="194.09" x2="128.47" y2="194.09" stroke="#e6982c" stroke-width="0.9"/>
<line x1="125.28" y1="198.75" x2="128.47" y2="198.75" stroke="#e6982c" stroke-width="0.9"/>
<rect x="124.97" y="194.52" width="3.8" height="3.8" fill="#e6982c"/>
<line x1="142.35" y1="197.80" x2="142.35" y2="202.46" stroke="#e6982c" stroke-width="0.9"/>
<line x1="140.75" y1="197.80" x2="143.95" y2="197.80" stroke="#e6982c" stroke-width="0.9"/>
<line x1="140.75" y1="202.46" x2="143.95" y2="202.46" stroke="#e6982c" stroke-width="0.9"/>
<rect x="140.45" y="198.23" width="3.8" height="3.8" fill="#e6982c"/>
<line x1="157.82" y1="193.10" x2="157.82" y2="197.76" stroke="#e6982c" stroke-width="0.9"/>
<line x1="156.22" y1="193.10" x2="159.42" y2="193.10" stroke="#e6982c" stroke-width="0.9"/>
<line x1="156.22" y1="197.76" x2="159.42" y2="197.76" stroke="#e6982c" stroke-width="0.9"/>
<rect x="155.92" y="193.53" width="3.8" height="3.8" fill="#e6982c"/>
<line x1="173.30" y1="198.53" x2="173.30" y2="203.19" stroke="#e6982c" stroke-width="0.9"/>
<line x1="171.70" y1="198.53" x2="174.90" y2="198.53" stroke="#e6982c" stroke-width="0.9"/>
<line x1="171.70" y1="203.19" x2="174.90" y2="203.19" stroke="#e6982c" stroke-width="0.9"/>
<rect x="171.40" y="198.96" width="3.8" height="3.8" fill="#e6982c"/>
<line x1="49.50" y1="205.52" x2="49.50" y2="210.18" stroke="#3a3c48" stroke-width="0.9"/>
<line x1="47.90" y1="205.52" x2="51.10" y2="205.52" stroke="#3a3c48" stroke-width="0.9"/>
<line x1="47.90" y1="210.18" x2="51.10" y2="210.18" stroke="#3a3c48" stroke-width="0.9"/>
<rect x="47.60" y="205.95" width="3.8" height="3.8" fill="#3a3c48"/>
<line x1="80.45" y1="201.64" x2="80.45" y2="206.30" stroke="#3a3c48" stroke-width="0.9"/>
<line x1="78.85" y1="201.64" x2="82.05" y2="201.64" stroke="#3a3c48" stroke-width="0.9"/>
<line x1="78.85" y1="206.30" x2="82.05" y2="206.30" stroke="#3a3c48" stroke-width="0.9"/>
<rect x="78.55" y="202.07" width="3.8" height="3.8" fill="#3a3c48"/>
<line x1="95.92" y1="202.41" x2="95.92" y2="207.08" stroke="#3a3c48" stroke-width="0.9"/>
<line x1="94.33" y1="202.41" x2="97.52" y2="202.41" stroke="#3a3c48" stroke-width="0.9"/>
<line x1="94.33" y1="207.08" x2="97.52" y2="207.08" stroke="#3a3c48" stroke-width="0.9"/>
<rect x="94.02" y="202.85" width="3.8" height="3.8" fill="#3a3c48"/>
<line x1="111.40" y1="200.08" x2="111.40" y2="204.75" stroke="#3a3c48" stroke-width="0.9"/>
<line x1="109.80" y1="200.08" x2="113.00" y2="200.08" stroke="#3a3c48" stroke-width="0.9"/>
<line x1="109.80" y1="204.75" x2="113.00" y2="204.75" stroke="#3a3c48" stroke-width="0.9"/>
<rect x="109.50" y="200.51" width="3.8" height="3.8" fill="#3a3c48"/>
<line x1="126.88" y1="203.97" x2="126.88" y2="208.63" stroke="#3a3c48" stroke-width="0.9"/>
<line x1="125.28" y1="203.97" x2="128.47" y2="203.97" stroke="#3a3c48" stroke-width="0.9"/>
<line x1="125.28" y1="208.63" x2="128.47" y2="208.63" stroke="#3a3c48" stroke-width="0.9"/>
<rect x="124.97" y="204.40" width="3.8" height="3.8" fill="#3a3c48"/>
<line x1="142.35" y1="199.31" x2="142.35" y2="203.97" stroke="#3a3c48" stroke-width="0.9"/>
<line x1="140.75" y1="199.31" x2="143.95" y2="199.31" stroke="#3a3c48" stroke-width="0.9"/>
<line x1="140.75" y1="203.97" x2="143.95" y2="203.97" stroke="#3a3c48" stroke-width="0.9"/>
<rect x="140.45" y="199.74" width="3.8" height="3.8" fill="#3a3c48"/>
<line x1="157.82" y1="204.75" x2="157.82" y2="209.41" stroke="#3a3c48" stroke-width="0.9"/>
<line x1="156.22" y1="204.75" x2="159.42" y2="204.75" stroke="#3a3c48" stroke-width="0.9"/>
<line x1="156.22" y1="209.41" x2="159.42" y2="209.41" stroke="#3a3c48" stroke-width="0.9"/>
<rect x="155.92" y="205.18" width="3.8" height="3.8" fill="#3a3c48"/>
<line x1="173.30" y1="200.86" x2="173.30" y2="205.52" stroke="#3a3c48" stroke-width="0.9"/>
<line x1="171.70" y1="200.86" x2="174.90" y2="200.86" stroke="#3a3c48" stroke-width="0.9"/>
<line x1="171.70" y1="205.52" x2="174.90" y2="205.52" stroke="#3a3c48" stroke-width="0.9"/>
<rect x="171.40" y="201.29" width="3.8" height="3.8" fill="#3a3c48"/>
<line x1="49.50" y1="203.16" x2="49.50" y2="207.82" stroke="#163a55" stroke-width="0.9"/>
<line x1="47.90" y1="203.16" x2="51.10" y2="203.16" stroke="#163a55" stroke-width="0.9"/>
<line x1="47.90" y1="207.82" x2="51.10" y2="207.82" stroke="#163a55" stroke-width="0.9"/>
<rect x="47.60" y="203.59" width="3.8" height="3.8" fill="#163a55"/>
<line x1="80.45" y1="203.50" x2="80.45" y2="208.16" stroke="#163a55" stroke-width="0.9"/>
<line x1="78.85" y1="203.50" x2="82.05" y2="203.50" stroke="#163a55" stroke-width="0.9"/>
<line x1="78.85" y1="208.16" x2="82.05" y2="208.16" stroke="#163a55" stroke-width="0.9"/>
<rect x="78.55" y="203.93" width="3.8" height="3.8" fill="#163a55"/>
<line x1="95.92" y1="200.47" x2="95.92" y2="205.13" stroke="#163a55" stroke-width="0.9"/>
<line x1="94.33" y1="200.47" x2="97.52" y2="200.47" stroke="#163a55" stroke-width="0.9"/>
<line x1="94.33" y1="205.13" x2="97.52" y2="205.13" stroke="#163a55" stroke-width="0.9"/>
<rect x="94.02" y="200.90" width="3.8" height="3.8" fill="#163a55"/>
<line x1="111.40" y1="203.66" x2="111.40" y2="208.32" stroke="#163a55" stroke-width="0.9"/>
<line x1="109.80" y1="203.66" x2="113.00" y2="203.66" stroke="#163a55" stroke-width="0.9"/>
<line x1="109.80" y1="208.32" x2="113.00" y2="208.32" stroke="#163a55" stroke-width="0.9"/>
<rect x="109.50" y="204.09" width="3.8" height="3.8" fill="#163a55"/>
<line x1="126.88" y1="198.67" x2="126.88" y2="203.33" stroke="#163a55" stroke-width="0.9"/>
<line x1="125.28" y1="198.67" x2="128.47" y2="198.67" stroke="#163a55" stroke-width="0.9"/>
<line x1="125.28" y1="203.33" x2="128.47" y2="203.33" stroke="#163a55" stroke-width="0.9"/>
<rect x="124.97" y="199.10" width="3.8" height="3.8" fill="#163a55"/>
<line x1="142.35" y1="204.01" x2="142.35" y2="208.67" stroke="#163a55" stroke-width="0.9"/>
<line x1="140.75" y1="204.01" x2="143.95" y2="204.01" stroke="#163a55" stroke-width="0.9"/>
<line x1="140.75" y1="208.67" x2="143.95" y2="208.67" stroke="#163a55" stroke-width="0.9"/>
<rect x="140.45" y="204.44" width="3.8" height="3.8" fill="#163a55"/>
<line x1="157.82" y1="200.09" x2="157.82" y2="204.76" stroke="#163a55" stroke-width="0.9"/>
<line x1="156.22" y1="200.09" x2="159.42" y2="200.09" stroke="#163a55" stroke-width="0.9"/>
<line x1="156.22" y1="204.76" x2="159.42" y2="204.76" stroke="#163a55" stroke-width="0.9"/>
<rect x="155.92" y="200.52" width="3.8" height="3.8" fill="#163a55"/>
<line x1="173.30" y1="204.75" x2="173.30" y2="209.41" stroke="#163a55" stroke-width="0.9"/>
<line x1="171.70" y1="204.75" x2="174.90" y2="204.75" stroke="#163a55" stroke-width="0.9"/>
<line x1="171.70" y1="209.41" x2="174.90" y2="209.41" stroke="#163a55" stroke-width="0.9"/>
<rect x="171.40" y="205.18" width="3.8" height="3.8" fill="#163a55"/>
<line x1="49.50" y1="203.78" x2="49.50" y2="208.44" stroke="#bc1230" stroke-width="0.9"/>
<line x1="47.90" y1="203.78" x2="51.10" y2="203.78" stroke="#bc1230" stroke-width="0.9"/>
<line x1="47.90" y1="208.44" x2="51.10" y2="208.44" stroke="#bc1230" stroke-width="0.9"/>
<rect x="47.60" y="204.21" width="3.8" height="3.8" fill="#bc1230"/>
<line x1="80.45" y1="198.94" x2="80.45" y2="203.60" stroke="#bc1230" stroke-width="0.9"/>
<line x1="78.85" y1="198.94" x2="82.05" y2="198.94" stroke="#bc1230" stroke-width="0.9"/>
<line x1="78.85" y1="203.60" x2="82.05" y2="203.60" stroke="#bc1230" stroke-width="0.9"/>
<rect x="78.55" y="199.37" width="3.8" height="3.8" fill="#bc1230"/>
<line x1="95.92" y1="199.51" x2="95.92" y2="204.17" stroke="#bc1230" stroke-width="0.9"/>
<line x1="94.33" y1="199.51" x2="97.52" y2="199.51" stroke="#bc1230" stroke-width="0.9"/>
<line x1="94.33" y1="204.17" x2="97.52" y2="204.17" stroke="#bc1230" stroke-width="0.9"/>
<rect x="94.02" y="199.94" width="3.8" height="3.8" fill="#bc1230"/>
<line x1="111.40" y1="192.56" x2="111.40" y2="197.22" stroke="#bc1230" stroke-width="0.9"/>
<line x1="109.80" y1="192.56" x2="113.00" y2="192.56" stroke="#bc1230" stroke-width="0.9"/>
<line x1="109.80" y1="197.22" x2="113.00" y2="197.22" stroke="#bc1230" stroke-width="0.9"/>
<rect x="109.50" y="192.99" width="3.8" height="3.8" fill="#bc1230"/>
<line x1="126.88" y1="197.23" x2="126.88" y2="201.89" stroke="#bc1230" stroke-width="0.9"/>
<line x1="125.28" y1="197.23" x2="128.47" y2="197.23" stroke="#bc1230" stroke-width="0.9"/>
<line x1="125.28" y1="201.89" x2="128.47" y2="201.89" stroke="#bc1230" stroke-width="0.9"/>
<rect x="124.97" y="197.66" width="3.8" height="3.8" fill="#bc1230"/>
<line x1="142.35" y1="193.15" x2="142.35" y2="197.81" stroke="#bc1230" stroke-width="0.9"/>
<line x1="140.75" y1="193.15" x2="143.95" y2="193.15" stroke="#bc1230" stroke-width="0.9"/>
<line x1="140.75" y1="197.81" x2="143.95" y2="197.81" stroke="#bc1230" stroke-width="0.9"/>
<rect x="140.45" y="193.58" width="3.8" height="3.8" fill="#bc1230"/>
<line x1="157.82" y1="197.77" x2="157.82" y2="202.43" stroke="#bc1230" stroke-width="0.9"/>
<line x1="156.22" y1="197.77" x2="159.42" y2="197.77" stroke="#bc1230" stroke-width="0.9"/>
<line x1="156.22" y1="202.43" x2="159.42" y2="202.43" stroke="#bc1230" stroke-width="0.9"/>
<rect x="155.92" y="198.20" width="3.8" height="3.8" fill="#bc1230"/>
<line x1="173.30" y1="193.87" x2="173.30" y2="198.53" stroke="#bc1230" stroke-width="0.9"/>
<line x1="171.70" y1="193.87" x2="174.90" y2="193.87" stroke="#bc1230" stroke-width="0.9"/>
<line x1="171.70" y1="198.53" x2="174.90" y2="198.53" stroke="#bc1230" stroke-width="0.9"/>
<rect x="171.40" y="194.30" width="3.8" height="3.8" fill="#bc1230"/>
<polyline points="306.60,192.32 307.63,192.32 308.66,192.32 309.70,192.32 310.73,192.32 311.76,192.32 312.79,192.32 313.83,192.32 314.86,192.32 315.89,192.32 316.92,192.32 317.96,192.32 318.99,192.32 320.02,192.32 321.05,192.32 322.09,192.32 323.12,192.32 324.15,192.33 325.18,192.33 326.21,192.33 327.25,192.33 328.28,192.34 329.31,192.34 330.34,192.34 331.38,192.35 332.41,192.35 333.44,192.36 334.47,192.36 335.51,192.37 336.54,192.38 337.57,192.39 338.60,192.40 339.63,192.41 340.67,192.42 341.70,192.44 342.73,192.46 343.76,192.48 344.80,192.51 345.83,192.53 346.86,192.57 347.89,192.60 348.93,192.65 349.96,192.70 350.99,192.75 352.02,192.82 353.06,192.89 354.09,192.98 355.12,193.07 356.15,193.18 357.18,193.31 358.22,193.46 359.25,193.62 360.28,193.81 361.31,194.03 362.35,194.28 363.38,194.56 364.41,194.89 365.44,195.25 366.48,195.67 367.51,196.15 368.54,196.69 369.57,197.29 370.60,197.98 371.64,198.76 372.67,199.63 373.70,200.61 374.73,201.70 375.77,202.91 376.80,204.26 377.83,205.74 378.86,207.38 379.90,209.16 380.93,211.10 381.96,213.19 382.99,215.43 384.03,217.81 385.06,220.33 386.09,222.96 387.12,225.70 388.15,228.51 389.19,231.38 390.22,234.27 391.25,237.17 392.28,240.03 393.32,242.84 394.35,245.58 395.38,248.21 396.41,250.73 397.45,253.11 398.48,255.36 399.51,257.45 400.54,259.38 401.57,261.17 402.61,262.80 403.64,264.29 404.67,265.63 405.70,266.85 406.74,267.94 407.77,268.91 408.80,269.79 409.83,270.56 410.87,271.25 411.90,271.86 412.93,272.40 413.96,272.87 415.00,273.29 416.03,273.66 417.06,273.98 418.09,274.26 419.12,274.51 420.16,274.73 421.19,274.92 422.22,275.09 423.25,275.23 424.29,275.36 425.32,275.47 426.35,275.57 427.38,275.65 428.42,275.73 429.45,275.79 430.48,275.85" fill="none" stroke="#cccccc" stroke-width="1.1"/>
<polyline points="306.60,210.47 307.63,212.00 308.66,213.60 309.70,215.29 310.73,217.05 311.76,218.88 312.79,220.79 313.83,222.75 314.86,224.78 315.89,226.86 316.92,228.98 317.96,231.13 318.99,233.31 320.02,235.50 321.05,237.70 322.09,239.90 323.12,242.07 324.15,244.23 325.18,246.35 326.21,248.43 327.25,250.45 328.28,252.42 329.31,254.32 330.34,256.16 331.38,257.92 332.41,259.61 333.44,261.21 334.47,262.74 335.51,264.18 336.54,265.54 337.57,266.83 338.60,268.03 339.63,269.16 340.67,270.21 341.70,271.19 342.73,272.11 343.76,272.95 344.80,273.74 345.83,274.47 346.86,275.14 347.89,275.76 348.93,276.33 349.96,276.86 350.99,277.34 352.02,277.78 353.06,278.19 354.09,278.56 355.12,278.90 356.15,279.22 357.18,279.50 358.22,279.76 359.25,280.00 360.28,280.22 361.31,280.42 362.35,280.60 363.38,280.77 364.41,280.92 365.44,281.06 366.48,281.18 367.51,281.30 368.54,281.40 369.57,281.49 370.60,281.58 371.64,281.66 372.67,281.73 373.70,281.80 374.73,281.85 375.77,281.91 376.80,281.96 377.83,282.00 378.86,282.04 379.90,282.08 380.93,282.11 381.96,282.14 382.99,282.17 384.03,282.20 385.06,282.22 386.09,282.24 387.12,282.26 388.15,282.28 389.19,282.29 390.22,282.31 391.25,282.32 392.28,282.33 393.32,282.34 394.35,282.35 395.38,282.36 396.41,282.37 397.45,282.37 398.48,282.38 399.51,282.39 400.54,282.39 401.57,282.40 402.61,282.40 403.64,282.41 404.67,282.41 405.70,282.41 406.74,282.42 407.77,282.42 408.80,282.42 409.83,282.42 410.87,282.43 411.90,282.43 412.93,282.43 413.96,282.43 415.00,282.43 416.03,282.43 417.06,282.43 418.09,282.44 419.12,282.44 420.16,282.44 421.19,282.44 422.22,282.44 423.25,282.44 424.29,282.44 425.32,282.44 426.35,282.44 427.38,282.44 428.42,282.44 429.45,282.44 430.48,282.44" fill="none" stroke="#a39fc6" stroke-width="1.1"/>
<polyline points="306.60,199.31 307.63,199.31 308.66,199.31 309.70,199.31 310.73,199.31 311.76,199.31 312.79,199.31 313.83,199.31 314.86,199.31 315.89,199.31 316.92,199.31 317.96,199.31 318.99,199.31 320.02,199.31 321.05,199.31 322.09,199.31 323.12,199.31 324.15,199.31 325.18,199.31 326.21,199.31 327.25,199.31 328.28,199.31 329.31,199.31 330.34,199.31 331.38,199.31 332.41,199.31 333.44,199.31 334.47,199.31 335.51,199.32 336.54,199.32 337.57,199.32 338.60,199.32 339.63,199.33 340.67,199.33 341.70,199.34 342.73,199.34 343.76,199.35 344.80,199.36 345.83,199.37 346.86,199.39 347.89,199.40 348.93,199.43 349.96,199.45 350.99,199.49 352.02,199.52 353.06,199.57 354.09,199.63 355.12,199.70 356.15,199.79 357.18,199.89 358.22,200.02 359.25,200.18 360.28,200.37 361.31,200.60 362.35,200.88 363.38,201.22 364.41,201.62 365.44,202.12 366.48,202.71 367.51,203.42 368.54,204.28 369.57,205.29 370.60,206.49 371.64,207.90 372.67,209.55 373.70,211.47 374.73,213.66 375.77,216.15 376.80,218.94 377.83,222.02 378.86,225.37 379.90,228.96 380.93,232.72 381.96,236.59 382.99,240.50 384.03,244.37 385.06,248.14 386.09,251.72 387.12,255.07 388.15,258.15 389.19,260.94 390.22,263.43 391.25,265.62 392.28,267.54 393.32,269.19 394.35,270.60 395.38,271.80 396.41,272.81 397.45,273.67 398.48,274.38 399.51,274.97 400.54,275.47 401.57,275.88 402.61,276.21 403.64,276.49 404.67,276.72 405.70,276.91 406.74,277.07 407.77,277.20 408.80,277.30 409.83,277.39 410.87,277.46 411.90,277.52 412.93,277.57 413.96,277.61 415.00,277.64 416.03,277.66 417.06,277.69 418.09,277.70 419.12,277.72 420.16,277.73 421.19,277.74 422.22,277.75 423.25,277.75 424.29,277.76 425.32,277.76 426.35,277.77 427.38,277.77 428.42,277.77 429.45,277.78 430.48,277.78" fill="none" stroke="#58addd" stroke-width="1.1"/>
<polyline points="306.60,203.97 307.63,203.97 308.66,203.97 309.70,203.97 310.73,203.97 311.76,203.97 312.79,203.97 313.83,203.97 314.86,203.97 315.89,203.97 316.92,203.97 317.96,203.97 318.99,203.97 320.02,203.97 321.05,203.97 322.09,203.97 323.12,203.97 324.15,203.97 325.18,203.97 326.21,203.97 327.25,203.97 328.28,203.97 329.31,203.97 330.34,203.97 331.38,203.97 332.41,203.97 333.44,203.97 334.47,203.97 335.51,203.98 336.54,203.98 337.57,203.98 338.60,203.98 339.63,203.98 340.67,203.98 341.70,203.99 342.73,203.99 343.76,203.99 344.80,204.00 345.83,204.00 346.86,204.01 347.89,204.01 348.93,204.02 349.96,204.03 350.99,204.04 352.02,204.05 353.06,204.06 354.09,204.07 355.12,204.09 356.15,204.11 357.18,204.14 358.22,204.16 359.25,204.20 360.28,204.23 361.31,204.28 362.35,204.33 363.38,204.39 364.41,204.46 365.44,204.54 366.48,204.63 367.51,204.74 368.54,204.87 369.57,205.01 370.60,205.18 371.64,205.38 372.67,205.61 373.70,205.88 374.73,206.18 375.77,206.54 376.80,206.95 377.83,207.42 378.86,207.96 379.90,208.58 380.93,209.29 381.96,210.09 382.99,211.01 384.03,212.05 385.06,213.22 386.09,214.53 387.12,215.99 388.15,217.61 389.19,219.39 390.22,221.33 391.25,223.43 392.28,225.69 393.32,228.09 394.35,230.62 395.38,233.25 396.41,235.96 397.45,238.71 398.48,241.49 399.51,244.24 400.54,246.95 401.57,249.58 402.61,252.10 403.64,254.51 404.67,256.76 405.70,258.87 406.74,260.81 407.77,262.59 408.80,264.21 409.83,265.67 410.87,266.98 411.90,268.15 412.93,269.19 413.96,270.11 415.00,270.91 416.03,271.62 417.06,272.24 418.09,272.78 419.12,273.25 420.16,273.66 421.19,274.01 422.22,274.32 423.25,274.59 424.29,274.82 425.32,275.01 426.35,275.18 427.38,275.33 428.42,275.46 429.45,275.57 430.48,275.66" fill="none" stroke="#57aa63" stroke-width="1.1"/>
<polyline points="306.60,205.16 307.63,205.18 308.66,205.21 309.70,205.23 310.73,205.25 311.76,205.28 312.79,205.30 313.83,205.33 314.86,205.36 315.89,205.39 316.92,205.42 317.96,205.45 318.99,205.48 320.02,205.52 321.05,205.56 322.09,205.60 323.12,205.64 324.15,205.68 325.18,205.72 326.21,205.77 327.25,205.82 328.28,205.87 329.31,205.93 330.34,205.98 331.38,206.04 332.41,206.10 333.44,206.17 334.47,206.24 335.51,206.31 336.54,206.38 337.57,206.46 338.60,206.54 339.63,206.63 340.67,206.72 341.70,206.81 342.73,206.91 343.76,207.01 344.80,207.12 345.83,207.23 346.86,207.35 347.89,207.47 348.93,207.60 349.96,207.73 350.99,207.87 352.02,208.02 353.06,208.17 354.09,208.33 355.12,208.49 356.15,208.67 357.18,208.85 358.22,209.04 359.25,209.24 360.28,209.44 361.31,209.66 362.35,209.88 363.38,210.11 364.41,210.36 365.44,210.61 366.48,210.87 367.51,211.15 368.54,211.43 369.57,211.73 370.60,212.04 371.64,212.36 372.67,212.70 373.70,213.04 374.73,213.40 375.77,213.78 376.80,214.17 377.83,214.57 378.86,214.98 379.90,215.42 380.93,215.86 381.96,216.33 382.99,216.80 384.03,217.30 385.06,217.81 386.09,218.34 387.12,218.88 388.15,219.44 389.19,220.02 390.22,220.62 391.25,221.23 392.28,221.86 393.32,222.51 394.35,223.17 395.38,223.85 396.41,224.55 397.45,225.27 398.48,226.00 399.51,226.75 400.54,227.51 401.57,228.29 402.61,229.08 403.64,229.89 404.67,230.72 405.70,231.56 406.74,232.41 407.77,233.27 408.80,234.14 409.83,235.03 410.87,235.92 411.90,236.83 412.93,237.74 413.96,238.66 415.00,239.59 416.03,240.52 417.06,241.46 418.09,242.39 419.12,243.34 420.16,244.28 421.19,245.22 422.22,246.16 423.25,247.10 424.29,248.04 425.32,248.97 426.35,249.90 427.38,250.82 428.42,251.74 429.45,252.64 430.48,253.54" fill="none" stroke="#575963" stroke-width="1.1"/>
<polyline points="306.60,204.75 307.63,204.75 308.66,204.75 309.70,204.75 310.73,204.75 311.76,204.75 312.79,204.75 313.83,204.75 314.86,204.75 315.89,204.75 316.92,204.75 317.96,204.75 318.99,204.75 320.02,204.75 321.05,204.75 322.09,204.75 323.12,204.75 324.15,204.75 325.18,204.75 326.21,204.75 327.25,204.75 328.28,204.75 329.31,204.76 330.34,204.76 331.38,204.76 332.41,204.77 333.44,204.77 334.47,204.78 335.51,204.79 336.54,204.81 337.57,204.82 338.60,204.84 339.63,204.87 340.67,204.91 341.70,204.95 342.73,205.01 343.76,205.08 344.80,205.17 345.83,205.29 346.86,205.44 347.89,205.63 348.93,205.87 349.96,206.17 350.99,206.56 352.02,207.05 353.06,207.66 354.09,208.43 355.12,209.39 356.15,210.58 357.18,212.05 358.22,213.82 359.25,215.96 360.28,218.49 361.31,221.43 362.35,224.78 363.38,228.53 364.41,232.60 365.44,236.90 366.48,241.32 367.51,245.73 368.54,249.99 369.57,254.00 370.60,257.67 371.64,260.95 372.67,263.81 373.70,266.25 374.73,268.31 375.77,270.02 376.80,271.43 377.83,272.57 378.86,273.49 379.90,274.22 380.93,274.81 381.96,275.28 382.99,275.65 384.03,275.94 385.06,276.17 386.09,276.35 387.12,276.49 388.15,276.60 389.19,276.69 390.22,276.76 391.25,276.81 392.28,276.86 393.32,276.89 394.35,276.91 395.38,276.93 396.41,276.95 397.45,276.96 398.48,276.97 399.51,276.98 400.54,276.99 401.57,276.99 402.61,276.99 403.64,277.00 404.67,277.00 405.70,277.00 406.74,277.00 407.77,277.00 408.80,277.00 409.83,277.00 410.87,277.01 411.90,277.01 412.93,277.01 413.96,277.01 415.00,277.01 416.03,277.01 417.06,277.01 418.09,277.01 419.12,277.01 420.16,277.01 421.19,277.01 422.22,277.01 423.25,277.01 424.29,277.01 425.32,277.01 426.35,277.01 427.38,277.01 428.42,277.01 429.45,277.01 430.48,277.01" fill="none" stroke="#38576e" stroke-width="1.1"/>
<polyline points="306.60,204.36 307.63,204.36 308.66,204.36 309.70,204.36 310.73,204.36 311.76,204.36 312.79,204.36 313.83,204.36 314.86,204.36 315.89,204.36 316.92,204.36 317.96,204.36 318.99,204.36 320.02,204.36 321.05,204.36 322.09,204.36 323.12,204.36 324.15,204.36 325.18,204.36 326.21,204.36 327.25,204.36 328.28,204.36 329.31,204.36 330.34,204.37 331.38,204.37 332.41,204.37 333.44,204.37 334.47,204.38 335.51,204.38 336.54,204.39 337.57,204.40 338.60,204.41 339.63,204.43 340.67,204.45 341.70,204.47 342.73,204.50 343.76,204.54 344.80,204.60 345.83,204.66 346.86,204.75 347.89,204.85 348.93,204.99 349.96,205.16 350.99,205.38 352.02,205.67 353.06,206.02 354.09,206.47 355.12,207.04 356.15,207.76 357.18,208.65 358.22,209.77 359.25,211.14 360.28,212.83 361.31,214.87 362.35,217.31 363.38,220.19 364.41,223.52 365.44,227.30 366.48,231.48 367.51,235.98 368.54,240.71 369.57,245.52 370.60,250.28 371.64,254.84 372.67,259.09 373.70,262.95 374.73,266.37 375.77,269.34 376.80,271.87 377.83,273.99 378.86,275.74 379.90,277.17 380.93,278.34 381.96,279.27 382.99,280.02 384.03,280.61 385.06,281.09 386.09,281.46 387.12,281.76 388.15,281.99 389.19,282.17 390.22,282.31 391.25,282.43 392.28,282.52 393.32,282.58 394.35,282.64 395.38,282.68 396.41,282.71 397.45,282.74 398.48,282.76 399.51,282.78 400.54,282.79 401.57,282.80 402.61,282.81 403.64,282.81 404.67,282.82 405.70,282.82 406.74,282.82 407.77,282.83 408.80,282.83 409.83,282.83 410.87,282.83 411.90,282.83 412.93,282.83 413.96,282.83 415.00,282.83 416.03,282.83 417.06,282.83 418.09,282.83 419.12,282.83 420.16,282.83 421.19,282.83 422.22,282.83 423.25,282.83 424.29,282.83 425.32,282.83 426.35,282.83 427.38,282.83 428.42,282.83 429.45,282.83 430.48,282.83" fill="none" stroke="#c6354f" stroke-width="1.1"/>
<polyline points="306.60,203.82 307.63,203.82 308.66,203.82 309.70,203.82 310.73,203.82 311.76,203.82 312.79,203.82 313.83,203.82 314.86,203.82 315.89,203.82 316.92,203.82 317.96,203.82 318.99,203.82 320.02,203.82 321.05,203.82 322.09,203.83 323.12,203.83 324.15,203.83 325.18,203.83 326.21,203.84 327.25,203.84 328.28,203.84 329.31,203.85 330.34,203.85 331.38,203.86 332.41,203.86 333.44,203.87 334.47,203.88 335.51,203.89 336.54,203.90 337.57,203.91 338.60,203.93 339.63,203.94 340.67,203.96 341.70,203.99 342.73,204.01 343.76,204.04 344.80,204.07 345.83,204.11 346.86,204.16 347.89,204.21 348.93,204.27 349.96,204.33 350.99,204.41 352.02,204.50 353.06,204.60 354.09,204.71 355.12,204.84 356.15,204.99 357.18,205.16 358.22,205.36 359.25,205.58 360.28,205.84 361.31,206.13 362.35,206.46 363.38,206.84 364.41,207.26 365.44,207.75 366.48,208.30 367.51,208.92 368.54,209.61 369.57,210.40 370.60,211.28 371.64,212.26 372.67,213.35 373.70,214.56 374.73,215.90 375.77,217.37 376.80,218.98 377.83,220.72 378.86,222.60 379.90,224.62 380.93,226.76 381.96,229.03 382.99,231.40 384.03,233.86 385.06,236.39 386.09,238.97 387.12,241.58 388.15,244.18 389.19,246.76 390.22,249.29 391.25,251.75 392.28,254.12 393.32,256.39 394.35,258.53 395.38,260.55 396.41,262.43 397.45,264.18 398.48,265.78 399.51,267.25 400.54,268.59 401.57,269.80 402.61,270.89 403.64,271.88 404.67,272.75 405.70,273.54 406.74,274.24 407.77,274.86 408.80,275.40 409.83,275.89 410.87,276.32 411.90,276.69 412.93,277.02 413.96,277.31 415.00,277.57 416.03,277.79 417.06,277.99 418.09,278.16 419.12,278.31 420.16,278.44 421.19,278.56 422.22,278.66 423.25,278.74 424.29,278.82 425.32,278.89 426.35,278.94 427.38,278.99 428.42,279.04 429.45,279.08 430.48,279.11" fill="none" stroke="#764f38" stroke-width="1.1"/>
<polyline points="306.60,202.42 307.63,202.42 308.66,202.42 309.70,202.42 310.73,202.42 311.76,202.42 312.79,202.42 313.83,202.42 314.86,202.42 315.89,202.42 316.92,202.42 317.96,202.42 318.99,202.42 320.02,202.42 321.05,202.42 322.09,202.42 323.12,202.42 324.15,202.42 325.18,202.42 326.21,202.42 327.25,202.42 328.28,202.42 329.31,202.42 330.34,202.42 331.38,202.43 332.41,202.43 333.44,202.43 334.47,202.43 335.51,202.43 336.54,202.44 337.57,202.44 338.60,202.45 339.63,202.45 340.67,202.46 341.70,202.46 342.73,202.47 343.76,202.48 344.80,202.49 345.83,202.50 346.86,202.51 347.89,202.53 348.93,202.54 349.96,202.56 350.99,202.59 352.02,202.61 353.06,202.64 354.09,202.68 355.12,202.72 356.15,202.77 357.18,202.82 358.22,202.88 359.25,202.95 360.28,203.04 361.31,203.13 362.35,203.24 363.38,203.37 364.41,203.51 365.44,203.68 366.48,203.87 367.51,204.10 368.54,204.35 369.57,204.64 370.60,204.97 371.64,205.36 372.67,205.79 373.70,206.29 374.73,206.85 375.77,207.49 376.80,208.22 377.83,209.03 378.86,209.95 379.90,210.99 380.93,212.14 381.96,213.42 382.99,214.83 384.03,216.39 385.06,218.08 386.09,219.93 387.12,221.91 388.15,224.03 389.19,226.28 390.22,228.64 391.25,231.09 392.28,233.62 393.32,236.20 394.35,238.81 395.38,241.41 396.41,243.98 397.45,246.49 398.48,248.93 399.51,251.27 400.54,253.49 401.57,255.59 402.61,257.54 403.64,259.36 404.67,261.03 405.70,262.55 406.74,263.94 407.77,265.19 408.80,266.32 409.83,267.33 410.87,268.23 411.90,269.03 412.93,269.73 413.96,270.36 415.00,270.91 416.03,271.39 417.06,271.82 418.09,272.19 419.12,272.51 420.16,272.79 421.19,273.04 422.22,273.26 423.25,273.44 424.29,273.61 425.32,273.75 426.35,273.87 427.38,273.98 428.42,274.07 429.45,274.15 430.48,274.22" fill="none" stroke="#e9a74b" stroke-width="1.1"/>
<line x1="306.60" y1="190.76" x2="306.60" y2="193.87" stroke="#c4c4c4" stroke-width="0.9"/>
<line x1="305.00" y1="190.76" x2="308.20" y2="190.76" stroke="#c4c4c4" stroke-width="0.9"/>
<line x1="305.00" y1="193.87" x2="308.20" y2="193.87" stroke="#c4c4c4" stroke-width="0.9"/>
<circle cx="306.60" cy="192.32" r="1.90" fill="#c4c4c4"/>
<line x1="337.57" y1="190.83" x2="337.57" y2="193.94" stroke="#c4c4c4" stroke-width="0.9"/>
<line x1="335.97" y1="190.83" x2="339.17" y2="190.83" stroke="#c4c4c4" stroke-width="0.9"/>
<line x1="335.97" y1="193.94" x2="339.17" y2="193.94" stroke="#c4c4c4" stroke-width="0.9"/>
<circle cx="337.57" cy="192.39" r="1.90" fill="#c4c4c4"/>
<line x1="353.06" y1="191.34" x2="353.06" y2="194.44" stroke="#c4c4c4" stroke-width="0.9"/>
<line x1="351.45" y1="191.34" x2="354.66" y2="191.34" stroke="#c4c4c4" stroke-width="0.9"/>
<line x1="351.45" y1="194.44" x2="354.66" y2="194.44" stroke="#c4c4c4" stroke-width="0.9"/>
<circle cx="353.06" cy="192.89" r="1.90" fill="#c4c4c4"/>
<line x1="368.54" y1="195.13" x2="368.54" y2="198.24" stroke="#c4c4c4" stroke-width="0.9"/>
<line x1="366.94" y1="195.13" x2="370.14" y2="195.13" stroke="#c4c4c4" stroke-width="0.9"/>
<line x1="366.94" y1="198.24" x2="370.14" y2="198.24" stroke="#c4c4c4" stroke-width="0.9"/>
<circle cx="368.54" cy="196.69" r="1.90" fill="#c4c4c4"/>
<line x1="384.03" y1="216.26" x2="384.03" y2="219.37" stroke="#c4c4c4" stroke-width="0.9"/>
<line x1="382.43" y1="216.26" x2="385.63" y2="216.26" stroke="#c4c4c4" stroke-width="0.9"/>
<line x1="382.43" y1="219.37" x2="385.63" y2="219.37" stroke="#c4c4c4" stroke-width="0.9"/>
<circle cx="384.03" cy="217.81" r="1.90" fill="#c4c4c4"/>
<line x1="399.51" y1="256.81" x2="399.51" y2="259.91" stroke="#c4c4c4" stroke-width="0.9"/>
<line x1="397.91" y1="256.81" x2="401.11" y2="256.81" stroke="#c4c4c4" stroke-width="0.9"/>
<line x1="397.91" y1="259.91" x2="401.11" y2="259.91" stroke="#c4c4c4" stroke-width="0.9"/>
<circle cx="399.51" cy="258.36" r="1.90" fill="#c4c4c4"/>
<line x1="415.00" y1="271.74" x2="415.00" y2="274.84" stroke="#c4c4c4" stroke-width="0.9"/>
<line x1="413.39" y1="271.74" x2="416.60" y2="271.74" stroke="#c4c4c4" stroke-width="0.9"/>
<line x1="413.39" y1="274.84" x2="416.60" y2="274.84" stroke="#c4c4c4" stroke-width="0.9"/>
<circle cx="415.00" cy="273.29" r="1.90" fill="#c4c4c4"/>
<line x1="430.48" y1="274.29" x2="430.48" y2="277.40" stroke="#c4c4c4" stroke-width="0.9"/>
<line x1="428.88" y1="274.29" x2="432.08" y2="274.29" stroke="#c4c4c4" stroke-width="0.9"/>
<line x1="428.88" y1="277.40" x2="432.08" y2="277.40" stroke="#c4c4c4" stroke-width="0.9"/>
<circle cx="430.48" cy="275.85" r="1.90" fill="#c4c4c4"/>
<line x1="306.60" y1="200.86" x2="306.60" y2="211.74" stroke="#938fbc" stroke-width="0.9"/>
<line x1="305.00" y1="200.86" x2="308.20" y2="200.86" stroke="#938fbc" stroke-width="0.9"/>
<line x1="305.00" y1="211.74" x2="308.20" y2="211.74" stroke="#938fbc" stroke-width="0.9"/>
<circle cx="306.60" cy="206.30" r="1.90" fill="#938fbc"/>
<line x1="337.57" y1="265.35" x2="337.57" y2="268.46" stroke="#938fbc" stroke-width="0.9"/>
<line x1="335.97" y1="265.35" x2="339.17" y2="265.35" stroke="#938fbc" stroke-width="0.9"/>
<line x1="335.97" y1="268.46" x2="339.17" y2="268.46" stroke="#938fbc" stroke-width="0.9"/>
<circle cx="337.57" cy="266.91" r="1.90" fill="#938fbc"/>
<line x1="353.06" y1="277.78" x2="353.06" y2="280.89" stroke="#938fbc" stroke-width="0.9"/>
<line x1="351.45" y1="277.78" x2="354.66" y2="277.78" stroke="#938fbc" stroke-width="0.9"/>
<line x1="351.45" y1="280.89" x2="354.66" y2="280.89" stroke="#938fbc" stroke-width="0.9"/>
<circle cx="353.06" cy="279.34" r="1.90" fill="#938fbc"/>
<line x1="368.54" y1="279.34" x2="368.54" y2="282.45" stroke="#938fbc" stroke-width="0.9"/>
<line x1="366.94" y1="279.34" x2="370.14" y2="279.34" stroke="#938fbc" stroke-width="0.9"/>
<line x1="366.94" y1="282.45" x2="370.14" y2="282.45" stroke="#938fbc" stroke-width="0.9"/>
<circle cx="368.54" cy="280.89" r="1.90" fill="#938fbc"/>
<line x1="384.03" y1="280.64" x2="384.03" y2="283.75" stroke="#938fbc" stroke-width="0.9"/>
<line x1="382.43" y1="280.64" x2="385.63" y2="280.64" stroke="#938fbc" stroke-width="0.9"/>
<line x1="382.43" y1="283.75" x2="385.63" y2="283.75" stroke="#938fbc" stroke-width="0.9"/>
<circle cx="384.03" cy="282.20" r="1.90" fill="#938fbc"/>
<line x1="399.51" y1="280.83" x2="399.51" y2="283.94" stroke="#938fbc" stroke-width="0.9"/>
<line x1="397.91" y1="280.83" x2="401.11" y2="280.83" stroke="#938fbc" stroke-width="0.9"/>
<line x1="397.91" y1="283.94" x2="401.11" y2="283.94" stroke="#938fbc" stroke-width="0.9"/>
<circle cx="399.51" cy="282.39" r="1.90" fill="#938fbc"/>
<line x1="415.00" y1="280.88" x2="415.00" y2="283.99" stroke="#938fbc" stroke-width="0.9"/>
<line x1="413.39" y1="280.88" x2="416.60" y2="280.88" stroke="#938fbc" stroke-width="0.9"/>
<line x1="413.39" y1="283.99" x2="416.60" y2="283.99" stroke="#938fbc" stroke-width="0.9"/>
<circle cx="415.00" cy="282.43" r="1.90" fill="#938fbc"/>
<line x1="430.48" y1="280.89" x2="430.48" y2="284.00" stroke="#938fbc" stroke-width="0.9"/>
<line x1="428.88" y1="280.89" x2="432.08" y2="280.89" stroke="#938fbc" stroke-width="0.9"/>
<line x1="428.88" y1="284.00" x2="432.08" y2="284.00" stroke="#938fbc" stroke-width="0.9"/>
<circle cx="430.48" cy="282.44" r="1.90" fill="#938fbc"/>
<line x1="306.60" y1="197.75" x2="306.60" y2="200.86" stroke="#3b9fd8" stroke-width="0.9"/>
<line x1="305.00" y1="197.75" x2="308.20" y2="197.75" stroke="#3b9fd8" stroke-width="0.9"/>
<line x1="305.00" y1="200.86" x2="308.20" y2="200.86" stroke="#3b9fd8" stroke-width="0.9"/>
<circle cx="306.60" cy="199.31" r="1.90" fill="#3b9fd8"/>
<line x1="337.57" y1="197.77" x2="337.57" y2="200.87" stroke="#3b9fd8" stroke-width="0.9"/>
<line x1="335.97" y1="197.77" x2="339.17" y2="197.77" stroke="#3b9fd8" stroke-width="0.9"/>
<line x1="335.97" y1="200.87" x2="339.17" y2="200.87" stroke="#3b9fd8" stroke-width="0.9"/>
<circle cx="337.57" cy="199.32" r="1.90" fill="#3b9fd8"/>
<line x1="353.06" y1="192.31" x2="353.06" y2="195.42" stroke="#3b9fd8" stroke-width="0.9"/>
<line x1="351.45" y1="192.31" x2="354.66" y2="192.31" stroke="#3b9fd8" stroke-width="0.9"/>
<line x1="351.45" y1="195.42" x2="354.66" y2="195.42" stroke="#3b9fd8" stroke-width="0.9"/>
<circle cx="353.06" cy="193.87" r="1.90" fill="#3b9fd8"/>
<line x1="368.54" y1="202.72" x2="368.54" y2="205.83" stroke="#3b9fd8" stroke-width="0.9"/>
<line x1="366.94" y1="202.72" x2="370.14" y2="202.72" stroke="#3b9fd8" stroke-width="0.9"/>
<line x1="366.94" y1="205.83" x2="370.14" y2="205.83" stroke="#3b9fd8" stroke-width="0.9"/>
<circle cx="368.54" cy="204.28" r="1.90" fill="#3b9fd8"/>
<line x1="384.03" y1="241.26" x2="384.03" y2="244.37" stroke="#3b9fd8" stroke-width="0.9"/>
<line x1="382.43" y1="241.26" x2="385.63" y2="241.26" stroke="#3b9fd8" stroke-width="0.9"/>
<line x1="382.43" y1="244.37" x2="385.63" y2="244.37" stroke="#3b9fd8" stroke-width="0.9"/>
<circle cx="384.03" cy="242.82" r="1.90" fill="#3b9fd8"/>
<line x1="399.51" y1="273.90" x2="399.51" y2="277.01" stroke="#3b9fd8" stroke-width="0.9"/>
<line x1="397.91" y1="273.90" x2="401.11" y2="273.90" stroke="#3b9fd8" stroke-width="0.9"/>
<line x1="397.91" y1="277.01" x2="401.11" y2="277.01" stroke="#3b9fd8" stroke-width="0.9"/>
<circle cx="399.51" cy="275.45" r="1.90" fill="#3b9fd8"/>
<line x1="415.00" y1="276.08" x2="415.00" y2="279.19" stroke="#3b9fd8" stroke-width="0.9"/>
<line x1="413.39" y1="276.08" x2="416.60" y2="276.08" stroke="#3b9fd8" stroke-width="0.9"/>
<line x1="413.39" y1="279.19" x2="416.60" y2="279.19" stroke="#3b9fd8" stroke-width="0.9"/>
<circle cx="415.00" cy="277.64" r="1.90" fill="#3b9fd8"/>
<line x1="430.48" y1="276.22" x2="430.48" y2="279.33" stroke="#3b9fd8" stroke-width="0.9"/>
<line x1="428.88" y1="276.22" x2="432.08" y2="276.22" stroke="#3b9fd8" stroke-width="0.9"/>
<line x1="428.88" y1="279.33" x2="432.08" y2="279.33" stroke="#3b9fd8" stroke-width="0.9"/>
<circle cx="430.48" cy="277.78" r="1.90" fill="#3b9fd8"/>
<line x1="306.60" y1="202.42" x2="306.60" y2="205.52" stroke="#3a9c48" stroke-width="0.9"/>
<line x1="305.00" y1="202.42" x2="308.20" y2="202.42" stroke="#3a9c48" stroke-width="0.9"/>
<line x1="305.00" y1="205.52" x2="308.20" y2="205.52" stroke="#3a9c48" stroke-width="0.9"/>
<circle cx="306.60" cy="203.97" r="1.90" fill="#3a9c48"/>
<line x1="337.57" y1="207.08" x2="337.57" y2="213.29" stroke="#3a9c48" stroke-width="0.9"/>
<line x1="335.97" y1="207.08" x2="339.17" y2="207.08" stroke="#3a9c48" stroke-width="0.9"/>
<line x1="335.97" y1="213.29" x2="339.17" y2="213.29" stroke="#3a9c48" stroke-width="0.9"/>
<circle cx="337.57" cy="210.19" r="1.90" fill="#3a9c48"/>
<line x1="353.06" y1="202.51" x2="353.06" y2="205.61" stroke="#3a9c48" stroke-width="0.9"/>
<line x1="351.45" y1="202.51" x2="354.66" y2="202.51" stroke="#3a9c48" stroke-width="0.9"/>
<line x1="351.45" y1="205.61" x2="354.66" y2="205.61" stroke="#3a9c48" stroke-width="0.9"/>
<circle cx="353.06" cy="204.06" r="1.90" fill="#3a9c48"/>
<line x1="368.54" y1="203.31" x2="368.54" y2="206.42" stroke="#3a9c48" stroke-width="0.9"/>
<line x1="366.94" y1="203.31" x2="370.14" y2="203.31" stroke="#3a9c48" stroke-width="0.9"/>
<line x1="366.94" y1="206.42" x2="370.14" y2="206.42" stroke="#3a9c48" stroke-width="0.9"/>
<circle cx="368.54" cy="204.87" r="1.90" fill="#3a9c48"/>
<line x1="384.03" y1="210.49" x2="384.03" y2="213.60" stroke="#3a9c48" stroke-width="0.9"/>
<line x1="382.43" y1="210.49" x2="385.63" y2="210.49" stroke="#3a9c48" stroke-width="0.9"/>
<line x1="382.43" y1="213.60" x2="385.63" y2="213.60" stroke="#3a9c48" stroke-width="0.9"/>
<circle cx="384.03" cy="212.05" r="1.90" fill="#3a9c48"/>
<line x1="399.51" y1="245.93" x2="399.51" y2="249.03" stroke="#3a9c48" stroke-width="0.9"/>
<line x1="397.91" y1="245.93" x2="401.11" y2="245.93" stroke="#3a9c48" stroke-width="0.9"/>
<line x1="397.91" y1="249.03" x2="401.11" y2="249.03" stroke="#3a9c48" stroke-width="0.9"/>
<circle cx="399.51" cy="247.48" r="1.90" fill="#3a9c48"/>
<line x1="415.00" y1="269.36" x2="415.00" y2="272.47" stroke="#3a9c48" stroke-width="0.9"/>
<line x1="413.39" y1="269.36" x2="416.60" y2="269.36" stroke="#3a9c48" stroke-width="0.9"/>
<line x1="413.39" y1="272.47" x2="416.60" y2="272.47" stroke="#3a9c48" stroke-width="0.9"/>
<circle cx="415.00" cy="270.91" r="1.90" fill="#3a9c48"/>
<line x1="430.48" y1="274.11" x2="430.48" y2="277.21" stroke="#3a9c48" stroke-width="0.9"/>
<line x1="428.88" y1="274.11" x2="432.08" y2="274.11" stroke="#3a9c48" stroke-width="0.9"/>
<line x1="428.88" y1="277.21" x2="432.08" y2="277.21" stroke="#3a9c48" stroke-width="0.9"/>
<circle cx="430.48" cy="275.66" r="1.90" fill="#3a9c48"/>
<line x1="306.60" y1="203.61" x2="306.60" y2="206.72" stroke="#3a3c48" stroke-width="0.9"/>
<line x1="305.00" y1="203.61" x2="308.20" y2="203.61" stroke="#3a3c48" stroke-width="0.9"/>
<line x1="305.00" y1="206.72" x2="308.20" y2="206.72" stroke="#3a3c48" stroke-width="0.9"/>
<circle cx="306.60" cy="205.16" r="1.90" fill="#3a3c48"/>
<line x1="337.57" y1="204.91" x2="337.57" y2="208.01" stroke="#3a3c48" stroke-width="0.9"/>
<line x1="335.97" y1="204.91" x2="339.17" y2="204.91" stroke="#3a3c48" stroke-width="0.9"/>
<line x1="335.97" y1="208.01" x2="339.17" y2="208.01" stroke="#3a3c48" stroke-width="0.9"/>
<circle cx="337.57" cy="206.46" r="1.90" fill="#3a3c48"/>
<line x1="353.06" y1="206.62" x2="353.06" y2="209.72" stroke="#3a3c48" stroke-width="0.9"/>
<line x1="351.45" y1="206.62" x2="354.66" y2="206.62" stroke="#3a3c48" stroke-width="0.9"/>
<line x1="351.45" y1="209.72" x2="354.66" y2="209.72" stroke="#3a3c48" stroke-width="0.9"/>
<circle cx="353.06" cy="208.17" r="1.90" fill="#3a3c48"/>
<line x1="368.54" y1="207.08" x2="368.54" y2="210.19" stroke="#3a3c48" stroke-width="0.9"/>
<line x1="366.94" y1="207.08" x2="370.14" y2="207.08" stroke="#3a3c48" stroke-width="0.9"/>
<line x1="366.94" y1="210.19" x2="370.14" y2="210.19" stroke="#3a3c48" stroke-width="0.9"/>
<circle cx="368.54" cy="208.63" r="1.90" fill="#3a3c48"/>
<line x1="384.03" y1="218.73" x2="384.03" y2="221.84" stroke="#3a3c48" stroke-width="0.9"/>
<line x1="382.43" y1="218.73" x2="385.63" y2="218.73" stroke="#3a3c48" stroke-width="0.9"/>
<line x1="382.43" y1="221.84" x2="385.63" y2="221.84" stroke="#3a3c48" stroke-width="0.9"/>
<circle cx="384.03" cy="220.29" r="1.90" fill="#3a3c48"/>
<line x1="399.51" y1="229.61" x2="399.51" y2="232.72" stroke="#3a3c48" stroke-width="0.9"/>
<line x1="397.91" y1="229.61" x2="401.11" y2="229.61" stroke="#3a3c48" stroke-width="0.9"/>
<line x1="397.91" y1="232.72" x2="401.11" y2="232.72" stroke="#3a3c48" stroke-width="0.9"/>
<circle cx="399.51" cy="231.16" r="1.90" fill="#3a3c48"/>
<line x1="415.00" y1="238.93" x2="415.00" y2="242.04" stroke="#3a3c48" stroke-width="0.9"/>
<line x1="413.39" y1="238.93" x2="416.60" y2="238.93" stroke="#3a3c48" stroke-width="0.9"/>
<line x1="413.39" y1="242.04" x2="416.60" y2="242.04" stroke="#3a3c48" stroke-width="0.9"/>
<circle cx="415.00" cy="240.49" r="1.90" fill="#3a3c48"/>
<line x1="430.48" y1="253.70" x2="430.48" y2="256.81" stroke="#3a3c48" stroke-width="0.9"/>
<line x1="428.88" y1="253.70" x2="432.08" y2="253.70" stroke="#3a3c48" stroke-width="0.9"/>
<line x1="428.88" y1="256.81" x2="432.08" y2="256.81" stroke="#3a3c48" stroke-width="0.9"/>
<circle cx="430.48" cy="255.25" r="1.90" fill="#3a3c48"/>
<line x1="306.60" y1="203.19" x2="306.60" y2="206.30" stroke="#163a55" stroke-width="0.9"/>
<line x1="305.00" y1="203.19" x2="308.20" y2="203.19" stroke="#163a55" stroke-width="0.9"/>
<line x1="305.00" y1="206.30" x2="308.20" y2="206.30" stroke="#163a55" stroke-width="0.9"/>
<circle cx="306.60" cy="204.75" r="1.90" fill="#163a55"/>
<line x1="337.57" y1="203.27" x2="337.57" y2="206.38" stroke="#163a55" stroke-width="0.9"/>
<line x1="335.97" y1="203.27" x2="339.17" y2="203.27" stroke="#163a55" stroke-width="0.9"/>
<line x1="335.97" y1="206.38" x2="339.17" y2="206.38" stroke="#163a55" stroke-width="0.9"/>
<circle cx="337.57" cy="204.82" r="1.90" fill="#163a55"/>
<line x1="353.06" y1="206.11" x2="353.06" y2="209.22" stroke="#163a55" stroke-width="0.9"/>
<line x1="351.45" y1="206.11" x2="354.66" y2="206.11" stroke="#163a55" stroke-width="0.9"/>
<line x1="351.45" y1="209.22" x2="354.66" y2="209.22" stroke="#163a55" stroke-width="0.9"/>
<circle cx="353.06" cy="207.66" r="1.90" fill="#163a55"/>
<line x1="368.54" y1="255.25" x2="368.54" y2="258.36" stroke="#163a55" stroke-width="0.9"/>
<line x1="366.94" y1="255.25" x2="370.14" y2="255.25" stroke="#163a55" stroke-width="0.9"/>
<line x1="366.94" y1="258.36" x2="370.14" y2="258.36" stroke="#163a55" stroke-width="0.9"/>
<circle cx="368.54" cy="256.81" r="1.90" fill="#163a55"/>
<line x1="384.03" y1="269.24" x2="384.03" y2="272.34" stroke="#163a55" stroke-width="0.9"/>
<line x1="382.43" y1="269.24" x2="385.63" y2="269.24" stroke="#163a55" stroke-width="0.9"/>
<line x1="382.43" y1="272.34" x2="385.63" y2="272.34" stroke="#163a55" stroke-width="0.9"/>
<circle cx="384.03" cy="270.79" r="1.90" fill="#163a55"/>
<line x1="399.51" y1="275.43" x2="399.51" y2="278.53" stroke="#163a55" stroke-width="0.9"/>
<line x1="397.91" y1="275.43" x2="401.11" y2="275.43" stroke="#163a55" stroke-width="0.9"/>
<line x1="397.91" y1="278.53" x2="401.11" y2="278.53" stroke="#163a55" stroke-width="0.9"/>
<circle cx="399.51" cy="276.98" r="1.90" fill="#163a55"/>
<line x1="415.00" y1="277.78" x2="415.00" y2="280.89" stroke="#163a55" stroke-width="0.9"/>
<line x1="413.39" y1="277.78" x2="416.60" y2="277.78" stroke="#163a55" stroke-width="0.9"/>
<line x1="413.39" y1="280.89" x2="416.60" y2="280.89" stroke="#163a55" stroke-width="0.9"/>
<circle cx="415.00" cy="279.34" r="1.90" fill="#163a55"/>
<line x1="430.48" y1="275.45" x2="430.48" y2="278.56" stroke="#163a55" stroke-width="0.9"/>
<line x1="428.88" y1="275.45" x2="432.08" y2="275.45" stroke="#163a55" stroke-width="0.9"/>
<line x1="428.88" y1="278.56" x2="432.08" y2="278.56" stroke="#163a55" stroke-width="0.9"/>
<circle cx="430.48" cy="277.01" r="1.90" fill="#163a55"/>
<line x1="306.60" y1="202.80" x2="306.60" y2="205.91" stroke="#bc1230" stroke-width="0.9"/>
<line x1="305.00" y1="202.80" x2="308.20" y2="202.80" stroke="#bc1230" stroke-width="0.9"/>
<line x1="305.00" y1="205.91" x2="308.20" y2="205.91" stroke="#bc1230" stroke-width="0.9"/>
<circle cx="306.60" cy="204.36" r="1.90" fill="#bc1230"/>
<line x1="337.57" y1="202.85" x2="337.57" y2="205.95" stroke="#bc1230" stroke-width="0.9"/>
<line x1="335.97" y1="202.85" x2="339.17" y2="202.85" stroke="#bc1230" stroke-width="0.9"/>
<line x1="335.97" y1="205.95" x2="339.17" y2="205.95" stroke="#bc1230" stroke-width="0.9"/>
<circle cx="337.57" cy="204.40" r="1.90" fill="#bc1230"/>
<line x1="353.06" y1="204.47" x2="353.06" y2="207.58" stroke="#bc1230" stroke-width="0.9"/>
<line x1="351.45" y1="204.47" x2="354.66" y2="204.47" stroke="#bc1230" stroke-width="0.9"/>
<line x1="351.45" y1="207.58" x2="354.66" y2="207.58" stroke="#bc1230" stroke-width="0.9"/>
<circle cx="353.06" cy="206.02" r="1.90" fill="#bc1230"/>
<line x1="368.54" y1="231.16" x2="368.54" y2="246.70" stroke="#bc1230" stroke-width="0.9"/>
<line x1="366.94" y1="231.16" x2="370.14" y2="231.16" stroke="#bc1230" stroke-width="0.9"/>
<line x1="366.94" y1="246.70" x2="370.14" y2="246.70" stroke="#bc1230" stroke-width="0.9"/>
<circle cx="368.54" cy="238.93" r="1.90" fill="#bc1230"/>
<line x1="384.03" y1="277.01" x2="384.03" y2="280.11" stroke="#bc1230" stroke-width="0.9"/>
<line x1="382.43" y1="277.01" x2="385.63" y2="277.01" stroke="#bc1230" stroke-width="0.9"/>
<line x1="382.43" y1="280.11" x2="385.63" y2="280.11" stroke="#bc1230" stroke-width="0.9"/>
<circle cx="384.03" cy="278.56" r="1.90" fill="#bc1230"/>
<line x1="399.51" y1="281.22" x2="399.51" y2="284.33" stroke="#bc1230" stroke-width="0.9"/>
<line x1="397.91" y1="281.22" x2="401.11" y2="281.22" stroke="#bc1230" stroke-width="0.9"/>
<line x1="397.91" y1="284.33" x2="401.11" y2="284.33" stroke="#bc1230" stroke-width="0.9"/>
<circle cx="399.51" cy="282.78" r="1.90" fill="#bc1230"/>
<line x1="415.00" y1="281.28" x2="415.00" y2="284.39" stroke="#bc1230" stroke-width="0.9"/>
<line x1="413.39" y1="281.28" x2="416.60" y2="281.28" stroke="#bc1230" stroke-width="0.9"/>
<line x1="413.39" y1="284.39" x2="416.60" y2="284.39" stroke="#bc1230" stroke-width="0.9"/>
<circle cx="415.00" cy="282.83" r="1.90" fill="#bc1230"/>
<line x1="430.48" y1="281.28" x2="430.48" y2="284.39" stroke="#bc1230" stroke-width="0.9"/>
<line x1="428.88" y1="281.28" x2="432.08" y2="281.28" stroke="#bc1230" stroke-width="0.9"/>
<line x1="428.88" y1="284.39" x2="432.08" y2="284.39" stroke="#bc1230" stroke-width="0.9"/>
<circle cx="430.48" cy="282.83" r="1.90" fill="#bc1230"/>
<line x1="306.60" y1="202.26" x2="306.60" y2="205.37" stroke="#5e3016" stroke-width="0.9"/>
<line x1="305.00" y1="202.26" x2="308.20" y2="202.26" stroke="#5e3016" stroke-width="0.9"/>
<line x1="305.00" y1="205.37" x2="308.20" y2="205.37" stroke="#5e3016" stroke-width="0.9"/>
<circle cx="306.60" cy="203.82" r="1.90" fill="#5e3016"/>
<line x1="337.57" y1="202.36" x2="337.57" y2="205.47" stroke="#5e3016" stroke-width="0.9"/>
<line x1="335.97" y1="202.36" x2="339.17" y2="202.36" stroke="#5e3016" stroke-width="0.9"/>
<line x1="335.97" y1="205.47" x2="339.17" y2="205.47" stroke="#5e3016" stroke-width="0.9"/>
<circle cx="337.57" cy="203.91" r="1.90" fill="#5e3016"/>
<line x1="353.06" y1="203.04" x2="353.06" y2="206.15" stroke="#5e3016" stroke-width="0.9"/>
<line x1="351.45" y1="203.04" x2="354.66" y2="203.04" stroke="#5e3016" stroke-width="0.9"/>
<line x1="351.45" y1="206.15" x2="354.66" y2="206.15" stroke="#5e3016" stroke-width="0.9"/>
<circle cx="353.06" cy="204.60" r="1.90" fill="#5e3016"/>
<line x1="368.54" y1="208.06" x2="368.54" y2="211.17" stroke="#5e3016" stroke-width="0.9"/>
<line x1="366.94" y1="208.06" x2="370.14" y2="208.06" stroke="#5e3016" stroke-width="0.9"/>
<line x1="366.94" y1="211.17" x2="370.14" y2="211.17" stroke="#5e3016" stroke-width="0.9"/>
<circle cx="368.54" cy="209.61" r="1.90" fill="#5e3016"/>
<line x1="384.03" y1="230.39" x2="384.03" y2="233.50" stroke="#5e3016" stroke-width="0.9"/>
<line x1="382.43" y1="230.39" x2="385.63" y2="230.39" stroke="#5e3016" stroke-width="0.9"/>
<line x1="382.43" y1="233.50" x2="385.63" y2="233.50" stroke="#5e3016" stroke-width="0.9"/>
<circle cx="384.03" cy="231.94" r="1.90" fill="#5e3016"/>
<line x1="399.51" y1="263.80" x2="399.51" y2="266.91" stroke="#5e3016" stroke-width="0.9"/>
<line x1="397.91" y1="263.80" x2="401.11" y2="263.80" stroke="#5e3016" stroke-width="0.9"/>
<line x1="397.91" y1="266.91" x2="401.11" y2="266.91" stroke="#5e3016" stroke-width="0.9"/>
<circle cx="399.51" cy="265.35" r="1.90" fill="#5e3016"/>
<line x1="415.00" y1="276.01" x2="415.00" y2="279.12" stroke="#5e3016" stroke-width="0.9"/>
<line x1="413.39" y1="276.01" x2="416.60" y2="276.01" stroke="#5e3016" stroke-width="0.9"/>
<line x1="413.39" y1="279.12" x2="416.60" y2="279.12" stroke="#5e3016" stroke-width="0.9"/>
<circle cx="415.00" cy="277.57" r="1.90" fill="#5e3016"/>
<line x1="430.48" y1="277.56" x2="430.48" y2="280.66" stroke="#5e3016" stroke-width="0.9"/>
<line x1="428.88" y1="277.56" x2="432.08" y2="277.56" stroke="#5e3016" stroke-width="0.9"/>
<line x1="428.88" y1="280.66" x2="432.08" y2="280.66" stroke="#5e3016" stroke-width="0.9"/>
<circle cx="430.48" cy="279.11" r="1.90" fill="#5e3016"/>
<line x1="306.60" y1="200.86" x2="306.60" y2="203.97" stroke="#e6982c" stroke-width="0.9"/>
<line x1="305.00" y1="200.86" x2="308.20" y2="200.86" stroke="#e6982c" stroke-width="0.9"/>
<line x1="305.00" y1="203.97" x2="308.20" y2="203.97" stroke="#e6982c" stroke-width="0.9"/>
<circle cx="306.60" cy="202.42" r="1.90" fill="#e6982c"/>
<line x1="337.57" y1="200.89" x2="337.57" y2="204.00" stroke="#e6982c" stroke-width="0.9"/>
<line x1="335.97" y1="200.89" x2="339.17" y2="200.89" stroke="#e6982c" stroke-width="0.9"/>
<line x1="335.97" y1="204.00" x2="339.17" y2="204.00" stroke="#e6982c" stroke-width="0.9"/>
<circle cx="337.57" cy="202.44" r="1.90" fill="#e6982c"/>
<line x1="353.06" y1="201.09" x2="353.06" y2="204.20" stroke="#e6982c" stroke-width="0.9"/>
<line x1="351.45" y1="201.09" x2="354.66" y2="201.09" stroke="#e6982c" stroke-width="0.9"/>
<line x1="351.45" y1="204.20" x2="354.66" y2="204.20" stroke="#e6982c" stroke-width="0.9"/>
<circle cx="353.06" cy="202.64" r="1.90" fill="#e6982c"/>
<line x1="368.54" y1="197.75" x2="368.54" y2="200.86" stroke="#e6982c" stroke-width="0.9"/>
<line x1="366.94" y1="197.75" x2="370.14" y2="197.75" stroke="#e6982c" stroke-width="0.9"/>
<line x1="366.94" y1="200.86" x2="370.14" y2="200.86" stroke="#e6982c" stroke-width="0.9"/>
<circle cx="368.54" cy="199.31" r="1.90" fill="#e6982c"/>
<line x1="384.03" y1="214.85" x2="384.03" y2="217.96" stroke="#e6982c" stroke-width="0.9"/>
<line x1="382.43" y1="214.85" x2="385.63" y2="214.85" stroke="#e6982c" stroke-width="0.9"/>
<line x1="382.43" y1="217.96" x2="385.63" y2="217.96" stroke="#e6982c" stroke-width="0.9"/>
<circle cx="384.03" cy="216.40" r="1.90" fill="#e6982c"/>
<line x1="399.51" y1="251.37" x2="399.51" y2="254.47" stroke="#e6982c" stroke-width="0.9"/>
<line x1="397.91" y1="251.37" x2="401.11" y2="251.37" stroke="#e6982c" stroke-width="0.9"/>
<line x1="397.91" y1="254.47" x2="401.11" y2="254.47" stroke="#e6982c" stroke-width="0.9"/>
<circle cx="399.51" cy="252.92" r="1.90" fill="#e6982c"/>
<line x1="415.00" y1="259.14" x2="415.00" y2="262.24" stroke="#e6982c" stroke-width="0.9"/>
<line x1="413.39" y1="259.14" x2="416.60" y2="259.14" stroke="#e6982c" stroke-width="0.9"/>
<line x1="413.39" y1="262.24" x2="416.60" y2="262.24" stroke="#e6982c" stroke-width="0.9"/>
<circle cx="415.00" cy="260.69" r="1.90" fill="#e6982c"/>
<line x1="430.48" y1="272.67" x2="430.48" y2="275.78" stroke="#e6982c" stroke-width="0.9"/>
<line x1="428.88" y1="272.67" x2="432.08" y2="272.67" stroke="#e6982c" stroke-width="0.9"/>
<line x1="428.88" y1="275.78" x2="432.08" y2="275.78" stroke="#e6982c" stroke-width="0.9"/>
<circle cx="430.48" cy="274.22" r="1.90" fill="#e6982c"/>
<line x1="194.6" y1="10.60" x2="205.6" y2="10.60" stroke="#6b6c75" stroke-width="1.1"/>
<rect x="198.30" y="8.80" width="3.6" height="3.6" fill="#3a3c48"/>
<text x="208.80" y="13.20" font-size="7.2" text-anchor="start" font-weight="normal" fill="#2a2a2a" stroke="#2a2a2a" stroke-width="0.24" >NALM-6-Ab</text>
<line x1="194.6" y1="21.69" x2="205.6" y2="21.69" stroke="#cc4d63" stroke-width="1.1"/>
<rect x="198.30" y="19.89" width="3.6" height="3.6" fill="#bc1230"/>
<text x="208.80" y="24.29" font-size="7.2" text-anchor="start" font-weight="normal" fill="#2a2a2a" stroke="#2a2a2a" stroke-width="0.24" >REH-Ab</text>
<line x1="194.6" y1="32.78" x2="205.6" y2="32.78" stroke="#51836e" stroke-width="1.1"/>
<rect x="198.30" y="30.98" width="3.6" height="3.6" fill="#175a3e"/>
<text x="208.80" y="35.38" font-size="7.2" text-anchor="start" font-weight="normal" fill="#2a2a2a" stroke="#2a2a2a" stroke-width="0.24" >RS4;11-Ab</text>
<line x1="194.6" y1="43.87" x2="205.6" y2="43.87" stroke="#506b7f" stroke-width="1.1"/>
<rect x="198.30" y="42.07" width="3.6" height="3.6" fill="#163a55"/>
<text x="208.80" y="46.47" font-size="7.2" text-anchor="start" font-weight="normal" fill="#2a2a2a" stroke="#2a2a2a" stroke-width="0.24" >SEM-Ab</text>
<line x1="194.6" y1="54.96" x2="205.6" y2="54.96" stroke="#aeabcc" stroke-width="1.1"/>
<rect x="198.30" y="53.16" width="3.6" height="3.6" fill="#938fbc"/>
<text x="208.80" y="57.56" font-size="7.2" text-anchor="start" font-weight="normal" fill="#2a2a2a" stroke="#2a2a2a" stroke-width="0.24" >ALL1807-Ab</text>
<line x1="194.6" y1="66.05" x2="205.6" y2="66.05" stroke="#b4cfa8" stroke-width="1.1"/>
<rect x="198.30" y="64.25" width="3.6" height="3.6" fill="#9cbf8c"/>
<text x="208.80" y="68.65" font-size="7.2" text-anchor="start" font-weight="normal" fill="#2a2a2a" stroke="#2a2a2a" stroke-width="0.24" >HAL01-Ab</text>
<line x1="194.6" y1="77.14" x2="205.6" y2="77.14" stroke="#ecb160" stroke-width="1.1"/>
<rect x="198.30" y="75.34" width="3.6" height="3.6" fill="#e6982c"/>
<text x="208.80" y="79.74" font-size="7.2" text-anchor="start" font-weight="normal" fill="#2a2a2a" stroke="#2a2a2a" stroke-width="0.24" >Raji-Ab</text>
<line x1="194.6" y1="88.23" x2="205.6" y2="88.23" stroke="#6cb7e1" stroke-width="1.1"/>
<rect x="198.30" y="86.43" width="3.6" height="3.6" fill="#3b9fd8"/>
<text x="208.80" y="90.83" font-size="7.2" text-anchor="start" font-weight="normal" fill="#2a2a2a" stroke="#2a2a2a" stroke-width="0.24" >U266B1-Ab</text>
<line x1="194.6" y1="99.32" x2="205.6" y2="99.32" stroke="#6bb475" stroke-width="1.1"/>
<rect x="198.30" y="97.52" width="3.6" height="3.6" fill="#3a9c48"/>
<text x="208.80" y="101.92" font-size="7.2" text-anchor="start" font-weight="normal" fill="#2a2a2a" stroke="#2a2a2a" stroke-width="0.24" >SKNO1-Ab</text>
<line x1="194.6" y1="110.41" x2="205.6" y2="110.41" stroke="#866350" stroke-width="1.1"/>
<rect x="198.30" y="108.61" width="3.6" height="3.6" fill="#5e3016"/>
<text x="208.80" y="113.01" font-size="7.2" text-anchor="start" font-weight="normal" fill="#2a2a2a" stroke="#2a2a2a" stroke-width="0.24" >K562-Ab</text>
<line x1="194.6" y1="121.50" x2="205.6" y2="121.50" stroke="#d2d2d2" stroke-width="1.1"/>
<rect x="198.30" y="119.70" width="3.6" height="3.6" fill="#c4c4c4"/>
<text x="208.80" y="124.10" font-size="7.2" text-anchor="start" font-weight="normal" fill="#2a2a2a" stroke="#2a2a2a" stroke-width="0.24" >Kasumi1-Ab</text>
<line x1="452.2" y1="10.40" x2="462.8" y2="10.40" stroke="#6b6c75" stroke-width="1.1"/>
<circle cx="457.50" cy="10.40" r="1.90" fill="#3a3c48"/>
<text x="466.80" y="13.00" font-size="7.2" text-anchor="start" font-weight="normal" fill="#2a2a2a" stroke="#2a2a2a" stroke-width="0.24" >NALM-6 ADC</text>
<line x1="452.2" y1="21.49" x2="462.8" y2="21.49" stroke="#cc4d63" stroke-width="1.1"/>
<circle cx="457.50" cy="21.49" r="1.90" fill="#bc1230"/>
<text x="466.80" y="24.09" font-size="7.2" text-anchor="start" font-weight="normal" fill="#2a2a2a" stroke="#2a2a2a" stroke-width="0.24" >REH-ADC</text>
<line x1="452.2" y1="32.58" x2="462.8" y2="32.58" stroke="#51836e" stroke-width="1.1"/>
<circle cx="457.50" cy="32.58" r="1.90" fill="#175a3e"/>
<text x="466.80" y="35.18" font-size="7.2" text-anchor="start" font-weight="normal" fill="#2a2a2a" stroke="#2a2a2a" stroke-width="0.24" >RS4;11-ADC</text>
<line x1="452.2" y1="43.67" x2="462.8" y2="43.67" stroke="#506b7f" stroke-width="1.1"/>
<circle cx="457.50" cy="43.67" r="1.90" fill="#163a55"/>
<text x="466.80" y="46.27" font-size="7.2" text-anchor="start" font-weight="normal" fill="#2a2a2a" stroke="#2a2a2a" stroke-width="0.24" >SEM-ADC</text>
<line x1="452.2" y1="54.76" x2="462.8" y2="54.76" stroke="#aeabcc" stroke-width="1.1"/>
<circle cx="457.50" cy="54.76" r="1.90" fill="#938fbc"/>
<text x="466.80" y="57.36" font-size="7.2" text-anchor="start" font-weight="normal" fill="#2a2a2a" stroke="#2a2a2a" stroke-width="0.24" >ALL1807-ADC</text>
<line x1="452.2" y1="65.85" x2="462.8" y2="65.85" stroke="#b4cfa8" stroke-width="1.1"/>
<circle cx="457.50" cy="65.85" r="1.90" fill="#9cbf8c"/>
<text x="466.80" y="68.45" font-size="7.2" text-anchor="start" font-weight="normal" fill="#2a2a2a" stroke="#2a2a2a" stroke-width="0.24" >HAL01-ADC</text>
<line x1="452.2" y1="76.94" x2="462.8" y2="76.94" stroke="#ecb160" stroke-width="1.1"/>
<circle cx="457.50" cy="76.94" r="1.90" fill="#e6982c"/>
<text x="466.80" y="79.54" font-size="7.2" text-anchor="start" font-weight="normal" fill="#2a2a2a" stroke="#2a2a2a" stroke-width="0.24" >Raji-ADC</text>
<line x1="452.2" y1="88.03" x2="462.8" y2="88.03" stroke="#6cb7e1" stroke-width="1.1"/>
<circle cx="457.50" cy="88.03" r="1.90" fill="#3b9fd8"/>
<text x="466.80" y="90.63" font-size="7.2" text-anchor="start" font-weight="normal" fill="#2a2a2a" stroke="#2a2a2a" stroke-width="0.24" >U266B1-ADC</text>
<line x1="452.2" y1="99.12" x2="462.8" y2="99.12" stroke="#6bb475" stroke-width="1.1"/>
<circle cx="457.50" cy="99.12" r="1.90" fill="#3a9c48"/>
<text x="466.80" y="101.72" font-size="7.2" text-anchor="start" font-weight="normal" fill="#2a2a2a" stroke="#2a2a2a" stroke-width="0.24" >SKNO1-ADC</text>
<line x1="452.2" y1="110.21" x2="462.8" y2="110.21" stroke="#866350" stroke-width="1.1"/>
<circle cx="457.50" cy="110.21" r="1.90" fill="#5e3016"/>
<text x="466.80" y="112.81" font-size="7.2" text-anchor="start" font-weight="normal" fill="#2a2a2a" stroke="#2a2a2a" stroke-width="0.24" >K562-ADC</text>
<line x1="452.2" y1="121.30" x2="462.8" y2="121.30" stroke="#d2d2d2" stroke-width="1.1"/>
<circle cx="457.50" cy="121.30" r="1.90" fill="#c4c4c4"/>
<text x="466.80" y="123.90" font-size="7.2" text-anchor="start" font-weight="normal" fill="#2a2a2a" stroke="#2a2a2a" stroke-width="0.24" >Kasumi1-ADC</text>
<line x1="194.6" y1="190.80" x2="205.6" y2="190.80" stroke="#6b6c75" stroke-width="1.1"/>
<rect x="198.30" y="189.00" width="3.6" height="3.6" fill="#3a3c48"/>
<text x="208.80" y="193.40" font-size="7.2" text-anchor="start" font-weight="normal" fill="#2a2a2a" stroke="#2a2a2a" stroke-width="0.24" >B1-Ab</text>
<line x1="194.6" y1="201.90" x2="205.6" y2="201.90" stroke="#cc4d63" stroke-width="1.1"/>
<rect x="198.30" y="200.10" width="3.6" height="3.6" fill="#bc1230"/>
<text x="208.80" y="204.50" font-size="7.2" text-anchor="start" font-weight="normal" fill="#2a2a2a" stroke="#2a2a2a" stroke-width="0.24" >B2-Ab</text>
<line x1="194.6" y1="213.00" x2="205.6" y2="213.00" stroke="#506b7f" stroke-width="1.1"/>
<rect x="198.30" y="211.20" width="3.6" height="3.6" fill="#163a55"/>
<text x="208.80" y="215.60" font-size="7.2" text-anchor="start" font-weight="normal" fill="#2a2a2a" stroke="#2a2a2a" stroke-width="0.24" >B3-Ab</text>
<line x1="194.6" y1="224.10" x2="205.6" y2="224.10" stroke="#ecb160" stroke-width="1.1"/>
<rect x="198.30" y="222.30" width="3.6" height="3.6" fill="#e6982c"/>
<text x="208.80" y="226.70" font-size="7.2" text-anchor="start" font-weight="normal" fill="#2a2a2a" stroke="#2a2a2a" stroke-width="0.24" >B4-Ab</text>
<line x1="194.6" y1="235.20" x2="205.6" y2="235.20" stroke="#aeabcc" stroke-width="1.1"/>
<rect x="198.30" y="233.40" width="3.6" height="3.6" fill="#938fbc"/>
<text x="208.80" y="237.80" font-size="7.2" text-anchor="start" font-weight="normal" fill="#2a2a2a" stroke="#2a2a2a" stroke-width="0.24" >B5-Ab</text>
<line x1="194.6" y1="246.30" x2="205.6" y2="246.30" stroke="#d2d2d2" stroke-width="1.1"/>
<rect x="198.30" y="244.50" width="3.6" height="3.6" fill="#c4c4c4"/>
<text x="208.80" y="248.90" font-size="7.2" text-anchor="start" font-weight="normal" fill="#2a2a2a" stroke="#2a2a2a" stroke-width="0.24" >B7-Ab</text>
<line x1="194.6" y1="257.40" x2="205.6" y2="257.40" stroke="#6bb475" stroke-width="1.1"/>
<rect x="198.30" y="255.60" width="3.6" height="3.6" fill="#3a9c48"/>
<text x="208.80" y="260.00" font-size="7.2" text-anchor="start" font-weight="normal" fill="#2a2a2a" stroke="#2a2a2a" stroke-width="0.24" >B8-Ab</text>
<line x1="194.6" y1="268.50" x2="205.6" y2="268.50" stroke="#6cb7e1" stroke-width="1.1"/>
<rect x="198.30" y="266.70" width="3.6" height="3.6" fill="#3b9fd8"/>
<text x="208.80" y="271.10" font-size="7.2" text-anchor="start" font-weight="normal" fill="#2a2a2a" stroke="#2a2a2a" stroke-width="0.24" >B9-Ab</text>
<line x1="194.6" y1="279.60" x2="205.6" y2="279.60" stroke="#866350" stroke-width="1.1"/>
<rect x="198.30" y="277.80" width="3.6" height="3.6" fill="#5e3016"/>
<text x="208.80" y="282.20" font-size="7.2" text-anchor="start" font-weight="normal" fill="#2a2a2a" stroke="#2a2a2a" stroke-width="0.24" >B10-Ab</text>
<line x1="452.2" y1="191.00" x2="462.8" y2="191.00" stroke="#6b6c75" stroke-width="1.1"/>
<circle cx="457.50" cy="191.00" r="1.90" fill="#3a3c48"/>
<text x="466.80" y="193.60" font-size="7.2" text-anchor="start" font-weight="normal" fill="#2a2a2a" stroke="#2a2a2a" stroke-width="0.24" >B1-ADC</text>
<line x1="452.2" y1="202.10" x2="462.8" y2="202.10" stroke="#cc4d63" stroke-width="1.1"/>
<circle cx="457.50" cy="202.10" r="1.90" fill="#bc1230"/>
<text x="466.80" y="204.70" font-size="7.2" text-anchor="start" font-weight="normal" fill="#2a2a2a" stroke="#2a2a2a" stroke-width="0.24" >B2-ADC</text>
<line x1="452.2" y1="213.20" x2="462.8" y2="213.20" stroke="#506b7f" stroke-width="1.1"/>
<circle cx="457.50" cy="213.20" r="1.90" fill="#163a55"/>
<text x="466.80" y="215.80" font-size="7.2" text-anchor="start" font-weight="normal" fill="#2a2a2a" stroke="#2a2a2a" stroke-width="0.24" >B3-ADC</text>
<line x1="452.2" y1="224.30" x2="462.8" y2="224.30" stroke="#ecb160" stroke-width="1.1"/>
<circle cx="457.50" cy="224.30" r="1.90" fill="#e6982c"/>
<text x="466.80" y="226.90" font-size="7.2" text-anchor="start" font-weight="normal" fill="#2a2a2a" stroke="#2a2a2a" stroke-width="0.24" >B4-ADC</text>
<line x1="452.2" y1="235.40" x2="462.8" y2="235.40" stroke="#aeabcc" stroke-width="1.1"/>
<circle cx="457.50" cy="235.40" r="1.90" fill="#938fbc"/>
<text x="466.80" y="238.00" font-size="7.2" text-anchor="start" font-weight="normal" fill="#2a2a2a" stroke="#2a2a2a" stroke-width="0.24" >B5-ADC</text>
<line x1="452.2" y1="246.50" x2="462.8" y2="246.50" stroke="#d2d2d2" stroke-width="1.1"/>
<circle cx="457.50" cy="246.50" r="1.90" fill="#c4c4c4"/>
<text x="466.80" y="249.10" font-size="7.2" text-anchor="start" font-weight="normal" fill="#2a2a2a" stroke="#2a2a2a" stroke-width="0.24" >B7-ADC</text>
<line x1="452.2" y1="257.60" x2="462.8" y2="257.60" stroke="#6bb475" stroke-width="1.1"/>
<circle cx="457.50" cy="257.60" r="1.90" fill="#3a9c48"/>
<text x="466.80" y="260.20" font-size="7.2" text-anchor="start" font-weight="normal" fill="#2a2a2a" stroke="#2a2a2a" stroke-width="0.24" >B8-ADC</text>
<line x1="452.2" y1="268.70" x2="462.8" y2="268.70" stroke="#6cb7e1" stroke-width="1.1"/>
<circle cx="457.50" cy="268.70" r="1.90" fill="#3b9fd8"/>
<text x="466.80" y="271.30" font-size="7.2" text-anchor="start" font-weight="normal" fill="#2a2a2a" stroke="#2a2a2a" stroke-width="0.24" >B9-ADC</text>
<line x1="452.2" y1="279.80" x2="462.8" y2="279.80" stroke="#866350" stroke-width="1.1"/>
<circle cx="457.50" cy="279.80" r="1.90" fill="#5e3016"/>
<text x="466.80" y="282.40" font-size="7.2" text-anchor="start" font-weight="normal" fill="#2a2a2a" stroke="#2a2a2a" stroke-width="0.24" >B10-ADC</text>
</svg>
<div id="frame"></div>
</div>
</body></html>
